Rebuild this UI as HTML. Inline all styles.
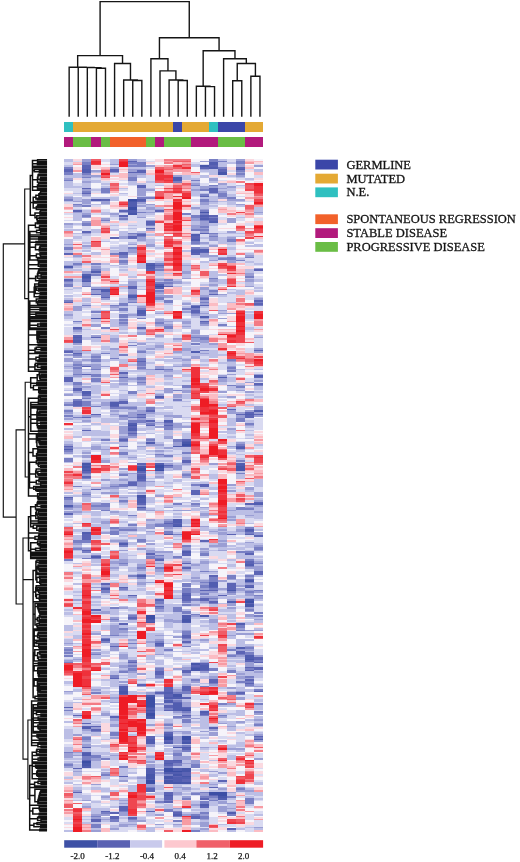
<!DOCTYPE html>
<html><head><meta charset="utf-8"><title>Heatmap</title>
<style>
html,body{margin:0;padding:0;background:#fff;}
body{width:520px;height:862px;overflow:hidden;font-family:"Liberation Serif",serif;}
svg{display:block;filter:blur(0.35px);}
</style></head><body>
<svg width="520" height="862" viewBox="0 0 520 862">
<rect width="520" height="862" fill="#fff"/>
<path d="M96.41 116.00V68.30H105.49V116.00M87.32 116.00V67.60H100.95V68.30M78.24 116.00V67.40H94.14V67.60M69.15 116.00V67.20H86.19V67.40M132.75 116.00V80.50H141.84V116.00M123.67 116.00V80.00H137.30V80.50M114.58 116.00V63.50H130.48V80.00M77.67 67.20V55.60H122.53V63.50M178.18 116.00V80.50H187.27V116.00M169.10 116.00V80.00H182.73V80.50M160.01 116.00V70.90H175.91V80.00M150.92 116.00V58.80H167.96V70.90M205.44 116.00V86.60H214.53V116.00M196.35 116.00V86.30H209.98V86.60M232.70 116.00V80.80H241.78V116.00M250.87 116.00V76.20H259.96V116.00M237.24 80.80V63.50H255.41V76.20M223.61 116.00V58.80H246.33V63.50M203.17 86.30V50.80H234.97V58.80M159.44 58.80V37.70H219.07V50.80M100.10 55.60V1.60H189.26V37.70" fill="none" stroke="#151515" stroke-width="1.4" stroke-linejoin="miter" stroke-linecap="square"/>
<g shape-rendering="crispEdges"><rect x="64.40" y="121.8" width="9.08" height="9.8" fill="#2fc0c0"/><rect x="64.40" y="137.1" width="9.08" height="9.6" fill="#b21a7c"/><rect x="73.43" y="121.8" width="9.08" height="9.8" fill="#e4a934"/><rect x="73.43" y="137.1" width="9.08" height="9.6" fill="#6abd45"/><rect x="82.45" y="121.8" width="9.08" height="9.8" fill="#e4a934"/><rect x="82.45" y="137.1" width="9.08" height="9.6" fill="#6abd45"/><rect x="91.48" y="121.8" width="9.08" height="9.8" fill="#e4a934"/><rect x="91.48" y="137.1" width="9.08" height="9.6" fill="#b21a7c"/><rect x="100.51" y="121.8" width="9.08" height="9.8" fill="#e4a934"/><rect x="100.51" y="137.1" width="9.08" height="9.6" fill="#6abd45"/><rect x="109.54" y="121.8" width="9.08" height="9.8" fill="#e4a934"/><rect x="109.54" y="137.1" width="9.08" height="9.6" fill="#f2612a"/><rect x="118.56" y="121.8" width="9.08" height="9.8" fill="#e4a934"/><rect x="118.56" y="137.1" width="9.08" height="9.6" fill="#f2612a"/><rect x="127.59" y="121.8" width="9.08" height="9.8" fill="#e4a934"/><rect x="127.59" y="137.1" width="9.08" height="9.6" fill="#f2612a"/><rect x="136.62" y="121.8" width="9.08" height="9.8" fill="#e4a934"/><rect x="136.62" y="137.1" width="9.08" height="9.6" fill="#f2612a"/><rect x="145.65" y="121.8" width="9.08" height="9.8" fill="#e4a934"/><rect x="145.65" y="137.1" width="9.08" height="9.6" fill="#6abd45"/><rect x="154.67" y="121.8" width="9.08" height="9.8" fill="#e4a934"/><rect x="154.67" y="137.1" width="9.08" height="9.6" fill="#b21a7c"/><rect x="163.70" y="121.8" width="9.08" height="9.8" fill="#e4a934"/><rect x="163.70" y="137.1" width="9.08" height="9.6" fill="#6abd45"/><rect x="172.73" y="121.8" width="9.08" height="9.8" fill="#3b46a8"/><rect x="172.73" y="137.1" width="9.08" height="9.6" fill="#6abd45"/><rect x="181.75" y="121.8" width="9.08" height="9.8" fill="#e4a934"/><rect x="181.75" y="137.1" width="9.08" height="9.6" fill="#6abd45"/><rect x="190.78" y="121.8" width="9.08" height="9.8" fill="#e4a934"/><rect x="190.78" y="137.1" width="9.08" height="9.6" fill="#b21a7c"/><rect x="199.81" y="121.8" width="9.08" height="9.8" fill="#e4a934"/><rect x="199.81" y="137.1" width="9.08" height="9.6" fill="#b21a7c"/><rect x="208.84" y="121.8" width="9.08" height="9.8" fill="#2fc0c0"/><rect x="208.84" y="137.1" width="9.08" height="9.6" fill="#b21a7c"/><rect x="217.86" y="121.8" width="9.08" height="9.8" fill="#3b46a8"/><rect x="217.86" y="137.1" width="9.08" height="9.6" fill="#6abd45"/><rect x="226.89" y="121.8" width="9.08" height="9.8" fill="#3b46a8"/><rect x="226.89" y="137.1" width="9.08" height="9.6" fill="#6abd45"/><rect x="235.92" y="121.8" width="9.08" height="9.8" fill="#3b46a8"/><rect x="235.92" y="137.1" width="9.08" height="9.6" fill="#6abd45"/><rect x="244.95" y="121.8" width="9.08" height="9.8" fill="#e4a934"/><rect x="244.95" y="137.1" width="9.08" height="9.6" fill="#b21a7c"/><rect x="253.97" y="121.8" width="9.08" height="9.8" fill="#e4a934"/><rect x="253.97" y="137.1" width="9.08" height="9.6" fill="#b21a7c"/></g>
<g transform="translate(64.40 159.00) scale(9.0273 1.6014)" shape-rendering="crispEdges"><path fill="#3c4ea5" d="M2 376h1v1h-1zM7 25h1v1h-1zM7 30h1v2h-1zM8 193h1v2h-1zM9 285h1v2h-1zM9 336h1v6h-1zM9 346h1v2h-1zM9 388h1v2h-1zM10 79h1v1h-1zM10 191h1v2h-1zM10 194h1v1h-1zM11 361h1v2h-1zM11 380h1v3h-1zM12 382h1v1h-1zM13 178h1v1h-1zM13 360h1v3h-1zM16 395h1v2h-1zM17 395h1v3h-1zM20 276h1v1h-1z"/><path fill="#4756aa" d="M2 73h1v1h-1zM2 190h1v1h-1zM2 192h1v1h-1zM2 194h1v1h-1zM2 377h1v2h-1zM6 332h1v2h-1zM7 26h1v1h-1zM7 34h1v1h-1zM7 166h1v1h-1zM8 192h1v1h-1zM8 210h1v2h-1zM9 66h1v1h-1zM9 287h1v1h-1zM9 289h1v1h-1zM9 335h1v1h-1zM9 342h1v1h-1zM9 344h1v1h-1zM9 348h1v1h-1zM9 384h1v3h-1zM10 193h1v1h-1zM11 360h1v1h-1zM11 385h1v2h-1zM11 388h1v2h-1zM12 229h1v1h-1zM12 334h1v2h-1zM12 384h1v1h-1zM12 389h1v1h-1zM13 177h1v1h-1zM13 287h1v2h-1zM13 344h1v1h-1zM13 364h1v1h-1zM13 380h1v3h-1zM13 385h1v1h-1zM13 389h1v1h-1zM14 315h1v1h-1zM14 318h1v2h-1zM15 4h1v1h-1zM15 33h1v1h-1zM17 8h1v2h-1zM17 398h1v1h-1zM18 269h1v1h-1zM19 192h1v3h-1zM20 263h1v1h-1zM20 275h1v1h-1zM20 278h1v2h-1zM20 312h1v1h-1z"/><path fill="#515db0" d="M0 67h1v1h-1zM0 181h1v1h-1zM0 216h1v1h-1zM1 111h1v1h-1zM1 113h1v2h-1zM2 6h1v3h-1zM2 72h1v1h-1zM2 74h1v1h-1zM2 76h1v1h-1zM2 145h1v2h-1zM2 191h1v1h-1zM2 193h1v1h-1zM2 233h1v1h-1zM2 355h1v1h-1zM2 371h1v2h-1zM2 379h1v1h-1zM3 25h1v1h-1zM3 70h1v1h-1zM3 99h1v1h-1zM3 248h1v1h-1zM4 81h1v2h-1zM4 268h1v1h-1zM4 300h1v1h-1zM5 152h1v2h-1zM6 240h1v1h-1zM6 329h1v3h-1zM7 27h1v3h-1zM7 32h1v2h-1zM7 85h1v2h-1zM7 165h1v1h-1zM7 168h1v2h-1zM8 25h1v1h-1zM8 94h1v3h-1zM8 198h1v2h-1zM8 212h1v3h-1zM8 217h1v1h-1zM8 260h1v1h-1zM9 65h1v1h-1zM9 67h1v2h-1zM9 177h1v1h-1zM9 288h1v1h-1zM9 343h1v1h-1zM9 345h1v1h-1zM9 349h1v1h-1zM9 362h1v3h-1zM9 380h1v4h-1zM9 387h1v1h-1zM10 78h1v1h-1zM10 80h1v1h-1zM10 148h1v1h-1zM10 190h1v1h-1zM10 302h1v1h-1zM11 163h1v1h-1zM11 234h1v1h-1zM11 333h1v1h-1zM11 336h1v1h-1zM11 338h1v2h-1zM11 359h1v1h-1zM11 364h1v1h-1zM11 377h1v1h-1zM11 383h1v1h-1zM11 397h1v1h-1zM12 11h1v3h-1zM12 179h1v1h-1zM12 225h1v2h-1zM12 228h1v1h-1zM12 336h1v1h-1zM12 340h1v5h-1zM12 367h1v1h-1zM12 375h1v1h-1zM12 380h1v2h-1zM12 383h1v1h-1zM12 386h1v3h-1zM12 409h1v1h-1zM13 176h1v1h-1zM13 179h1v1h-1zM13 245h1v1h-1zM13 272h1v1h-1zM13 285h1v2h-1zM13 289h1v1h-1zM13 343h1v1h-1zM13 363h1v1h-1zM13 367h1v1h-1zM13 386h1v1h-1zM14 47h1v1h-1zM14 50h1v1h-1zM14 57h1v2h-1zM14 92h1v1h-1zM14 120h1v1h-1zM14 317h1v1h-1zM15 35h1v1h-1zM15 37h1v1h-1zM15 56h1v2h-1zM15 98h1v1h-1zM15 285h1v1h-1zM15 316h1v3h-1zM15 345h1v1h-1zM15 403h1v1h-1zM16 2h1v2h-1zM16 5h1v1h-1zM16 39h1v1h-1zM16 264h1v3h-1zM17 136h1v1h-1zM17 399h1v1h-1zM18 276h1v1h-1zM18 408h1v1h-1zM19 6h1v1h-1zM19 180h1v1h-1zM19 190h1v2h-1zM19 290h1v1h-1zM19 305h1v1h-1zM20 159h1v1h-1zM20 231h1v1h-1zM20 253h1v1h-1zM20 267h1v1h-1zM20 310h1v2h-1zM21 135h1v1h-1zM21 157h1v1h-1zM21 215h1v1h-1zM21 362h1v1h-1z"/><path fill="#5c64b5" d="M0 6h1v2h-1zM0 59h1v1h-1zM0 75h1v1h-1zM0 89h1v1h-1zM0 120h1v1h-1zM0 136h1v3h-1zM0 179h1v1h-1zM0 211h1v1h-1zM0 221h1v1h-1zM0 342h1v1h-1zM1 32h1v1h-1zM1 105h1v1h-1zM1 110h1v1h-1zM1 112h1v1h-1zM1 121h1v1h-1zM1 143h1v2h-1zM1 151h1v3h-1zM1 347h1v1h-1zM1 380h1v1h-1zM1 395h1v1h-1zM2 4h1v2h-1zM2 18h1v1h-1zM2 21h1v1h-1zM2 45h1v1h-1zM2 75h1v1h-1zM2 129h1v1h-1zM2 134h1v1h-1zM2 147h1v1h-1zM2 161h1v1h-1zM2 169h1v1h-1zM2 195h1v1h-1zM2 198h1v1h-1zM2 234h1v4h-1zM2 244h1v1h-1zM2 352h1v1h-1zM2 354h1v1h-1zM2 367h1v1h-1zM2 370h1v1h-1zM2 375h1v1h-1zM3 81h1v1h-1zM3 84h1v1h-1zM3 111h1v1h-1zM3 159h1v1h-1zM3 206h1v1h-1zM3 281h1v1h-1zM3 354h1v1h-1zM3 356h1v1h-1zM3 412h1v2h-1zM4 25h1v1h-1zM4 86h1v1h-1zM4 265h1v1h-1zM4 407h1v1h-1zM5 6h1v2h-1zM5 49h1v1h-1zM5 154h1v1h-1zM5 304h1v1h-1zM5 324h1v1h-1zM5 348h1v1h-1zM5 408h1v1h-1zM5 410h1v2h-1zM6 32h1v1h-1zM6 35h1v1h-1zM6 58h1v2h-1zM6 133h1v1h-1zM6 136h1v1h-1zM6 151h1v2h-1zM6 175h1v1h-1zM6 267h1v1h-1zM6 290h1v1h-1zM6 334h1v1h-1zM6 385h1v1h-1zM6 404h1v3h-1zM7 1h1v1h-1zM7 8h1v1h-1zM7 48h1v2h-1zM7 79h1v2h-1zM7 167h1v1h-1zM7 171h1v1h-1zM7 202h1v2h-1zM7 272h1v1h-1zM7 286h1v1h-1zM7 314h1v1h-1zM7 411h1v1h-1zM8 7h1v2h-1zM8 16h1v2h-1zM8 26h1v1h-1zM8 47h1v1h-1zM8 97h1v1h-1zM8 105h1v1h-1zM8 126h1v1h-1zM8 159h1v1h-1zM8 161h1v1h-1zM8 190h1v1h-1zM8 195h1v1h-1zM8 197h1v1h-1zM8 200h1v1h-1zM8 215h1v1h-1zM8 328h1v1h-1zM9 39h1v2h-1zM9 43h1v1h-1zM9 69h1v1h-1zM9 157h1v1h-1zM9 163h1v1h-1zM9 166h1v1h-1zM9 246h1v1h-1zM9 360h1v2h-1zM9 393h1v2h-1zM9 407h1v1h-1zM10 32h1v1h-1zM10 66h1v1h-1zM10 131h1v1h-1zM10 250h1v1h-1zM10 275h1v1h-1zM10 279h1v1h-1zM10 303h1v1h-1zM10 320h1v2h-1zM10 333h1v1h-1zM11 79h1v1h-1zM11 164h1v1h-1zM11 166h1v1h-1zM11 191h1v1h-1zM11 227h1v1h-1zM11 330h1v3h-1zM11 334h1v2h-1zM11 341h1v2h-1zM11 344h1v1h-1zM11 358h1v1h-1zM11 363h1v1h-1zM11 375h1v2h-1zM11 378h1v1h-1zM11 387h1v1h-1zM11 395h1v2h-1zM11 398h1v2h-1zM11 401h1v1h-1zM12 227h1v1h-1zM12 339h1v1h-1zM12 376h1v1h-1zM12 385h1v1h-1zM12 408h1v1h-1zM13 175h1v1h-1zM13 188h1v2h-1zM13 246h1v2h-1zM13 252h1v1h-1zM13 255h1v1h-1zM13 271h1v1h-1zM13 273h1v3h-1zM13 297h1v2h-1zM13 301h1v1h-1zM13 319h1v2h-1zM13 329h1v3h-1zM13 336h1v1h-1zM13 342h1v1h-1zM13 347h1v1h-1zM13 368h1v1h-1zM13 383h1v2h-1zM13 387h1v2h-1zM14 48h1v2h-1zM14 56h1v1h-1zM14 59h1v1h-1zM14 94h1v2h-1zM14 207h1v3h-1zM14 316h1v1h-1zM14 410h1v2h-1zM15 5h1v1h-1zM15 23h1v1h-1zM15 36h1v1h-1zM15 46h1v1h-1zM15 58h1v1h-1zM15 87h1v1h-1zM15 91h1v1h-1zM15 101h1v1h-1zM15 203h1v2h-1zM15 238h1v1h-1zM15 269h1v1h-1zM15 274h1v2h-1zM15 315h1v1h-1zM15 319h1v1h-1zM15 346h1v1h-1zM15 399h1v1h-1zM15 404h1v1h-1zM16 4h1v1h-1zM16 18h1v3h-1zM16 35h1v1h-1zM16 37h1v2h-1zM16 84h1v1h-1zM16 260h1v1h-1zM16 267h1v1h-1zM16 269h1v1h-1zM16 276h1v1h-1zM16 325h1v2h-1zM16 355h1v1h-1zM16 392h1v1h-1zM16 397h1v1h-1zM17 6h1v2h-1zM17 272h1v1h-1zM17 388h1v1h-1zM18 156h1v1h-1zM18 234h1v1h-1zM18 265h1v4h-1zM18 418h1v1h-1zM19 5h1v1h-1zM19 159h1v1h-1zM19 179h1v1h-1zM19 307h1v2h-1zM19 333h1v1h-1zM20 158h1v1h-1zM20 160h1v2h-1zM20 215h1v1h-1zM20 232h1v1h-1zM20 234h1v1h-1zM20 246h1v1h-1zM20 251h1v2h-1zM20 262h1v1h-1zM20 266h1v1h-1zM20 277h1v1h-1zM20 313h1v1h-1zM20 317h1v1h-1zM20 319h1v1h-1zM20 325h1v1h-1zM20 327h1v1h-1zM21 69h1v1h-1zM21 88h1v1h-1zM21 90h1v1h-1zM21 119h1v1h-1zM21 136h1v1h-1zM21 140h1v1h-1zM21 159h1v1h-1zM21 214h1v1h-1zM21 235h1v1h-1zM21 257h1v3h-1zM21 311h1v2h-1zM21 314h1v1h-1zM21 317h1v2h-1zM21 332h1v1h-1zM21 360h1v1h-1z"/><path fill="#787fc4" d="M0 5h1v1h-1zM0 8h1v2h-1zM0 13h1v1h-1zM0 25h1v1h-1zM0 55h1v2h-1zM0 76h1v1h-1zM0 78h1v2h-1zM0 88h1v1h-1zM0 119h1v1h-1zM0 153h1v1h-1zM0 157h1v1h-1zM0 160h1v1h-1zM0 180h1v1h-1zM0 182h1v1h-1zM0 187h1v2h-1zM0 212h1v1h-1zM0 217h1v1h-1zM0 250h1v1h-1zM0 306h1v1h-1zM0 308h1v1h-1zM0 310h1v1h-1zM0 314h1v1h-1zM0 344h1v1h-1zM0 370h1v1h-1zM0 378h1v1h-1zM1 28h1v1h-1zM1 65h1v1h-1zM1 101h1v1h-1zM1 106h1v1h-1zM1 122h1v1h-1zM1 128h1v1h-1zM1 130h1v1h-1zM1 134h1v1h-1zM1 139h1v2h-1zM1 150h1v1h-1zM1 154h1v1h-1zM1 161h1v1h-1zM1 204h1v1h-1zM1 238h1v2h-1zM1 243h1v1h-1zM2 2h1v2h-1zM2 9h1v1h-1zM2 11h1v1h-1zM2 20h1v1h-1zM2 29h1v1h-1zM2 35h1v1h-1zM2 40h1v2h-1zM2 79h1v1h-1zM2 91h1v1h-1zM2 149h1v1h-1zM2 151h1v3h-1zM2 196h1v1h-1zM2 199h1v1h-1zM2 209h1v1h-1zM2 238h1v2h-1zM2 245h1v1h-1zM2 249h1v1h-1zM2 361h1v2h-1zM2 373h1v2h-1zM3 65h1v1h-1zM3 69h1v1h-1zM3 72h1v1h-1zM3 95h1v1h-1zM3 123h1v1h-1zM3 125h1v2h-1zM3 131h1v1h-1zM3 134h1v2h-1zM3 137h1v2h-1zM3 154h1v1h-1zM3 216h1v1h-1zM3 247h1v1h-1zM3 249h1v1h-1zM3 309h1v1h-1zM3 333h1v1h-1zM3 357h1v1h-1zM3 372h1v2h-1zM3 410h1v1h-1zM3 415h1v3h-1zM4 18h1v3h-1zM4 38h1v1h-1zM4 83h1v3h-1zM4 105h1v1h-1zM4 121h1v1h-1zM4 175h1v1h-1zM4 215h1v2h-1zM4 219h1v1h-1zM4 267h1v1h-1zM4 269h1v2h-1zM4 299h1v1h-1zM4 301h1v1h-1zM4 374h1v1h-1zM4 384h1v1h-1zM4 408h1v1h-1zM5 59h1v1h-1zM5 91h1v1h-1zM5 124h1v1h-1zM5 155h1v1h-1zM5 204h1v1h-1zM5 230h1v1h-1zM5 232h1v3h-1zM5 280h1v1h-1zM5 287h1v1h-1zM5 297h1v1h-1zM5 322h1v2h-1zM5 358h1v2h-1zM5 412h1v2h-1zM6 37h1v1h-1zM6 60h1v2h-1zM6 63h1v2h-1zM6 90h1v2h-1zM6 93h1v2h-1zM6 97h1v2h-1zM6 100h1v1h-1zM6 102h1v1h-1zM6 122h1v1h-1zM6 155h1v1h-1zM6 160h1v1h-1zM6 174h1v1h-1zM6 176h1v1h-1zM6 179h1v1h-1zM6 183h1v2h-1zM6 197h1v1h-1zM6 203h1v2h-1zM6 213h1v1h-1zM6 231h1v1h-1zM6 239h1v1h-1zM6 241h1v1h-1zM6 252h1v1h-1zM6 268h1v1h-1zM6 293h1v1h-1zM6 320h1v1h-1zM6 379h1v1h-1zM6 407h1v1h-1zM7 2h1v1h-1zM7 4h1v1h-1zM7 11h1v3h-1zM7 46h1v1h-1zM7 55h1v1h-1zM7 84h1v1h-1zM7 87h1v1h-1zM7 89h1v1h-1zM7 116h1v1h-1zM7 145h1v2h-1zM7 155h1v1h-1zM7 161h1v1h-1zM7 163h1v2h-1zM7 170h1v1h-1zM7 172h1v1h-1zM7 201h1v1h-1zM7 222h1v1h-1zM7 228h1v1h-1zM7 231h1v1h-1zM7 260h1v1h-1zM7 285h1v1h-1zM7 287h1v1h-1zM7 302h1v1h-1zM7 313h1v1h-1zM7 316h1v1h-1zM7 318h1v2h-1zM7 412h1v1h-1zM8 2h1v3h-1zM8 24h1v1h-1zM8 33h1v1h-1zM8 46h1v1h-1zM8 48h1v1h-1zM8 93h1v1h-1zM8 99h1v1h-1zM8 120h1v1h-1zM8 124h1v2h-1zM8 127h1v2h-1zM8 130h1v1h-1zM8 136h1v2h-1zM8 139h1v1h-1zM8 160h1v1h-1zM8 163h1v2h-1zM8 191h1v1h-1zM8 196h1v1h-1zM8 201h1v1h-1zM8 218h1v1h-1zM8 237h1v2h-1zM8 255h1v1h-1zM8 259h1v1h-1zM8 261h1v1h-1zM9 24h1v1h-1zM9 41h1v1h-1zM9 155h1v2h-1zM9 165h1v1h-1zM9 175h1v1h-1zM9 248h1v2h-1zM9 392h1v1h-1zM10 65h1v1h-1zM10 67h1v1h-1zM10 69h1v1h-1zM10 77h1v1h-1zM10 82h1v1h-1zM10 86h1v2h-1zM10 102h1v1h-1zM10 149h1v1h-1zM10 184h1v1h-1zM10 228h1v2h-1zM10 247h1v1h-1zM10 249h1v1h-1zM10 255h1v1h-1zM10 276h1v2h-1zM10 280h1v1h-1zM10 301h1v1h-1zM10 304h1v1h-1zM10 318h1v2h-1zM10 322h1v2h-1zM10 401h1v1h-1zM11 75h1v1h-1zM11 77h1v1h-1zM11 88h1v2h-1zM11 104h1v2h-1zM11 131h1v1h-1zM11 165h1v1h-1zM11 167h1v2h-1zM11 185h1v1h-1zM11 192h1v1h-1zM11 226h1v1h-1zM11 228h1v2h-1zM11 232h1v2h-1zM11 306h1v1h-1zM11 337h1v1h-1zM11 343h1v1h-1zM11 353h1v1h-1zM11 379h1v1h-1zM11 384h1v1h-1zM11 400h1v1h-1zM11 406h1v2h-1zM12 14h1v1h-1zM12 144h1v1h-1zM12 150h1v1h-1zM12 175h1v2h-1zM12 215h1v1h-1zM12 234h1v1h-1zM12 248h1v1h-1zM12 280h1v3h-1zM12 333h1v1h-1zM12 338h1v1h-1zM12 348h1v1h-1zM12 371h1v2h-1zM12 377h1v2h-1zM12 407h1v1h-1zM12 410h1v1h-1zM12 413h1v1h-1zM13 34h1v1h-1zM13 93h1v1h-1zM13 141h1v2h-1zM13 183h1v1h-1zM13 197h1v1h-1zM13 241h1v1h-1zM13 244h1v1h-1zM13 265h1v2h-1zM13 268h1v3h-1zM13 276h1v1h-1zM13 278h1v1h-1zM13 282h1v2h-1zM13 295h1v2h-1zM13 299h1v1h-1zM13 304h1v1h-1zM13 332h1v2h-1zM13 345h1v1h-1zM13 348h1v1h-1zM13 350h1v2h-1zM13 366h1v1h-1zM13 369h1v1h-1zM13 399h1v1h-1zM14 13h1v1h-1zM14 16h1v1h-1zM14 35h1v2h-1zM14 44h1v1h-1zM14 51h1v2h-1zM14 55h1v1h-1zM14 91h1v1h-1zM14 93h1v1h-1zM14 96h1v1h-1zM14 111h1v1h-1zM14 115h1v1h-1zM14 203h1v1h-1zM14 215h1v1h-1zM14 275h1v1h-1zM14 284h1v1h-1zM14 325h1v1h-1zM14 378h1v2h-1zM14 396h1v1h-1zM14 409h1v1h-1zM14 419h1v1h-1zM15 19h1v1h-1zM15 22h1v1h-1zM15 25h1v2h-1zM15 32h1v1h-1zM15 34h1v1h-1zM15 38h1v1h-1zM15 42h1v1h-1zM15 44h1v1h-1zM15 86h1v1h-1zM15 89h1v1h-1zM15 102h1v1h-1zM15 111h1v2h-1zM15 119h1v1h-1zM15 246h1v2h-1zM15 257h1v1h-1zM15 264h1v1h-1zM15 266h1v2h-1zM15 271h1v1h-1zM15 329h1v1h-1zM15 347h1v1h-1zM15 395h1v1h-1zM15 398h1v1h-1zM15 401h1v2h-1zM15 408h1v1h-1zM15 410h1v2h-1zM16 0h1v2h-1zM16 16h1v1h-1zM16 36h1v1h-1zM16 46h1v1h-1zM16 48h1v1h-1zM16 74h1v1h-1zM16 82h1v1h-1zM16 261h1v3h-1zM16 268h1v1h-1zM16 274h1v1h-1zM16 277h1v1h-1zM16 318h1v2h-1zM16 327h1v1h-1zM16 398h1v1h-1zM16 400h1v1h-1zM17 1h1v1h-1zM17 5h1v1h-1zM17 21h1v3h-1zM17 62h1v1h-1zM17 103h1v1h-1zM17 340h1v1h-1zM17 347h1v1h-1zM18 24h1v1h-1zM18 50h1v2h-1zM18 61h1v2h-1zM18 125h1v1h-1zM18 130h1v1h-1zM18 132h1v1h-1zM18 141h1v1h-1zM18 260h1v2h-1zM18 270h1v1h-1zM18 306h1v1h-1zM18 310h1v1h-1zM18 319h1v2h-1zM18 333h1v2h-1zM18 398h1v1h-1zM18 409h1v1h-1zM19 1h1v2h-1zM19 7h1v1h-1zM19 9h1v1h-1zM19 63h1v1h-1zM19 142h1v1h-1zM19 162h1v2h-1zM19 178h1v1h-1zM19 188h1v1h-1zM19 196h1v1h-1zM19 217h1v2h-1zM19 245h1v1h-1zM19 291h1v2h-1zM19 294h1v1h-1zM19 309h1v1h-1zM19 326h1v1h-1zM19 334h1v1h-1zM19 393h1v1h-1zM20 61h1v1h-1zM20 73h1v1h-1zM20 165h1v1h-1zM20 218h1v1h-1zM20 230h1v1h-1zM20 233h1v1h-1zM20 245h1v1h-1zM20 250h1v1h-1zM20 254h1v1h-1zM20 260h1v1h-1zM20 264h1v1h-1zM20 270h1v1h-1zM20 281h1v1h-1zM20 305h1v1h-1zM20 308h1v2h-1zM20 318h1v1h-1zM20 323h1v1h-1zM20 326h1v1h-1zM20 328h1v1h-1zM20 399h1v4h-1zM21 89h1v1h-1zM21 91h1v1h-1zM21 141h1v1h-1zM21 242h1v2h-1zM21 252h1v1h-1zM21 269h1v1h-1zM21 272h1v1h-1zM21 283h1v1h-1zM21 285h1v1h-1zM21 313h1v1h-1zM21 331h1v1h-1zM21 340h1v1h-1zM21 345h1v1h-1zM21 353h1v1h-1zM21 361h1v1h-1z"/><path fill="#9a9ed4" d="M0 12h1v1h-1zM0 24h1v1h-1zM0 40h1v1h-1zM0 53h1v1h-1zM0 66h1v1h-1zM0 68h1v1h-1zM0 77h1v1h-1zM0 97h1v1h-1zM0 122h1v1h-1zM0 124h1v3h-1zM0 129h1v1h-1zM0 147h1v1h-1zM0 152h1v1h-1zM0 158h1v1h-1zM0 162h1v1h-1zM0 178h1v1h-1zM0 183h1v1h-1zM0 213h1v3h-1zM0 218h1v1h-1zM0 220h1v1h-1zM0 302h1v1h-1zM0 305h1v1h-1zM0 307h1v1h-1zM0 313h1v1h-1zM0 332h1v1h-1zM0 371h1v3h-1zM0 377h1v1h-1zM0 379h1v1h-1zM1 26h1v1h-1zM1 29h1v1h-1zM1 33h1v1h-1zM1 60h1v1h-1zM1 66h1v1h-1zM1 92h1v3h-1zM1 107h1v1h-1zM1 115h1v1h-1zM1 119h1v2h-1zM1 123h1v1h-1zM1 126h1v2h-1zM1 129h1v1h-1zM1 131h1v3h-1zM1 135h1v1h-1zM1 141h1v2h-1zM1 145h1v1h-1zM1 216h1v2h-1zM1 220h1v1h-1zM1 240h1v1h-1zM1 242h1v1h-1zM1 275h1v1h-1zM1 312h1v1h-1zM1 359h1v1h-1zM1 370h1v1h-1zM1 372h1v1h-1zM1 382h1v1h-1zM1 394h1v1h-1zM2 0h1v2h-1zM2 10h1v1h-1zM2 14h1v1h-1zM2 19h1v1h-1zM2 22h1v1h-1zM2 25h1v3h-1zM2 34h1v1h-1zM2 36h1v1h-1zM2 39h1v1h-1zM2 46h1v1h-1zM2 54h1v1h-1zM2 70h1v2h-1zM2 77h1v2h-1zM2 125h1v1h-1zM2 128h1v1h-1zM2 142h1v1h-1zM2 148h1v1h-1zM2 154h1v1h-1zM2 160h1v1h-1zM2 163h1v1h-1zM2 183h1v1h-1zM2 185h1v2h-1zM2 189h1v1h-1zM2 197h1v1h-1zM2 208h1v1h-1zM2 210h1v1h-1zM2 243h1v1h-1zM2 356h1v1h-1zM2 360h1v1h-1zM2 363h1v1h-1zM2 365h1v2h-1zM2 400h1v1h-1zM2 404h1v1h-1zM3 7h1v1h-1zM3 10h1v1h-1zM3 67h1v2h-1zM3 71h1v1h-1zM3 80h1v1h-1zM3 82h1v2h-1zM3 103h1v2h-1zM3 110h1v1h-1zM3 122h1v1h-1zM3 124h1v1h-1zM3 128h1v3h-1zM3 160h1v1h-1zM3 179h1v3h-1zM3 215h1v1h-1zM3 217h1v2h-1zM3 267h1v1h-1zM3 273h1v1h-1zM3 283h1v1h-1zM3 296h1v1h-1zM3 306h1v1h-1zM3 308h1v1h-1zM3 331h1v1h-1zM3 355h1v1h-1zM3 374h1v2h-1zM3 390h1v1h-1zM3 409h1v1h-1zM3 411h1v1h-1zM3 419h1v1h-1zM4 26h1v2h-1zM4 37h1v1h-1zM4 80h1v1h-1zM4 87h1v1h-1zM4 129h1v1h-1zM4 152h1v2h-1zM4 181h1v1h-1zM4 188h1v2h-1zM4 200h1v1h-1zM4 205h1v1h-1zM4 208h1v1h-1zM4 217h1v2h-1zM4 226h1v2h-1zM4 233h1v1h-1zM4 266h1v1h-1zM4 282h1v2h-1zM4 297h1v1h-1zM4 346h1v2h-1zM4 383h1v1h-1zM4 398h1v1h-1zM4 409h1v1h-1zM4 412h1v1h-1zM5 3h1v1h-1zM5 5h1v1h-1zM5 8h1v1h-1zM5 34h1v1h-1zM5 92h1v1h-1zM5 94h1v1h-1zM5 112h1v2h-1zM5 118h1v1h-1zM5 151h1v1h-1zM5 157h1v1h-1zM5 159h1v1h-1zM5 203h1v1h-1zM5 205h1v1h-1zM5 208h1v1h-1zM5 220h1v1h-1zM5 231h1v1h-1zM5 238h1v1h-1zM5 251h1v2h-1zM5 255h1v1h-1zM5 286h1v1h-1zM5 288h1v1h-1zM5 291h1v6h-1zM5 302h1v2h-1zM5 305h1v2h-1zM5 336h1v1h-1zM5 339h1v1h-1zM5 349h1v2h-1zM5 353h1v2h-1zM5 361h1v1h-1zM5 372h1v1h-1zM5 418h1v1h-1zM6 33h1v1h-1zM6 36h1v1h-1zM6 48h1v2h-1zM6 65h1v1h-1zM6 101h1v1h-1zM6 103h1v1h-1zM6 134h1v2h-1zM6 137h1v2h-1zM6 140h1v1h-1zM6 150h1v1h-1zM6 154h1v1h-1zM6 161h1v2h-1zM6 167h1v5h-1zM6 173h1v1h-1zM6 193h1v1h-1zM6 196h1v1h-1zM6 200h1v1h-1zM6 211h1v1h-1zM6 214h1v1h-1zM6 230h1v1h-1zM6 238h1v1h-1zM6 244h1v1h-1zM6 250h1v2h-1zM6 253h1v1h-1zM6 269h1v1h-1zM6 280h1v1h-1zM6 294h1v2h-1zM6 297h1v1h-1zM6 309h1v3h-1zM6 316h1v2h-1zM6 319h1v1h-1zM6 326h1v1h-1zM6 328h1v1h-1zM6 388h1v1h-1zM6 400h1v1h-1zM6 402h1v1h-1zM6 408h1v2h-1zM6 415h1v2h-1zM7 0h1v1h-1zM7 3h1v1h-1zM7 6h1v2h-1zM7 9h1v2h-1zM7 47h1v1h-1zM7 53h1v1h-1zM7 56h1v3h-1zM7 76h1v3h-1zM7 81h1v3h-1zM7 88h1v1h-1zM7 97h1v1h-1zM7 114h1v1h-1zM7 137h1v1h-1zM7 154h1v1h-1zM7 156h1v1h-1zM7 158h1v3h-1zM7 173h1v1h-1zM7 186h1v1h-1zM7 196h1v1h-1zM7 230h1v1h-1zM7 273h1v1h-1zM7 284h1v1h-1zM7 300h1v1h-1zM7 305h1v1h-1zM7 315h1v1h-1zM7 317h1v1h-1zM7 320h1v1h-1zM7 413h1v1h-1zM7 415h1v1h-1zM8 6h1v1h-1zM8 9h1v1h-1zM8 18h1v5h-1zM8 27h1v1h-1zM8 29h1v1h-1zM8 36h1v1h-1zM8 49h1v2h-1zM8 92h1v1h-1zM8 106h1v1h-1zM8 108h1v2h-1zM8 115h1v1h-1zM8 119h1v1h-1zM8 129h1v1h-1zM8 131h1v1h-1zM8 138h1v1h-1zM8 140h1v1h-1zM8 157h1v2h-1zM8 162h1v1h-1zM8 179h1v1h-1zM8 202h1v3h-1zM8 208h1v1h-1zM8 216h1v1h-1zM8 219h1v1h-1zM8 239h1v1h-1zM8 243h1v1h-1zM8 253h1v2h-1zM8 256h1v1h-1zM8 264h1v2h-1zM8 321h1v1h-1zM8 329h1v1h-1zM8 386h1v1h-1zM8 413h1v1h-1zM9 4h1v1h-1zM9 19h1v1h-1zM9 28h1v1h-1zM9 30h1v2h-1zM9 33h1v1h-1zM9 38h1v1h-1zM9 44h1v1h-1zM9 53h1v2h-1zM9 118h1v1h-1zM9 131h1v1h-1zM9 158h1v1h-1zM9 164h1v1h-1zM9 174h1v1h-1zM9 176h1v1h-1zM9 178h1v1h-1zM9 201h1v1h-1zM9 219h1v1h-1zM9 225h1v1h-1zM9 228h1v3h-1zM9 232h1v1h-1zM9 240h1v1h-1zM9 244h1v2h-1zM9 247h1v1h-1zM9 264h1v1h-1zM9 301h1v1h-1zM9 333h1v2h-1zM9 353h1v1h-1zM9 365h1v2h-1zM9 373h1v1h-1zM9 376h1v1h-1zM9 378h1v2h-1zM9 390h1v2h-1zM10 31h1v1h-1zM10 68h1v1h-1zM10 75h1v1h-1zM10 83h1v1h-1zM10 85h1v1h-1zM10 96h1v1h-1zM10 100h1v2h-1zM10 103h1v1h-1zM10 110h1v1h-1zM10 116h1v2h-1zM10 129h1v2h-1zM10 147h1v1h-1zM10 164h1v1h-1zM10 167h1v1h-1zM10 178h1v1h-1zM10 182h1v1h-1zM10 185h1v1h-1zM10 195h1v2h-1zM10 198h1v1h-1zM10 210h1v1h-1zM10 227h1v1h-1zM10 245h1v1h-1zM10 248h1v1h-1zM10 252h1v1h-1zM10 256h1v2h-1zM10 278h1v1h-1zM10 281h1v2h-1zM10 297h1v1h-1zM10 300h1v1h-1zM10 309h1v1h-1zM10 317h1v1h-1zM10 324h1v1h-1zM10 332h1v1h-1zM10 334h1v1h-1zM10 340h1v1h-1zM10 381h1v1h-1zM10 383h1v1h-1zM10 409h1v1h-1zM10 415h1v1h-1zM11 76h1v1h-1zM11 78h1v1h-1zM11 85h1v2h-1zM11 101h1v1h-1zM11 103h1v1h-1zM11 132h1v1h-1zM11 135h1v1h-1zM11 143h1v3h-1zM11 160h1v1h-1zM11 173h1v2h-1zM11 180h1v1h-1zM11 190h1v1h-1zM11 217h1v1h-1zM11 225h1v1h-1zM11 230h1v1h-1zM11 245h1v1h-1zM11 287h1v2h-1zM11 340h1v1h-1zM11 352h1v1h-1zM11 355h1v1h-1zM11 357h1v1h-1zM12 10h1v1h-1zM12 76h1v2h-1zM12 112h1v1h-1zM12 120h1v1h-1zM12 124h1v1h-1zM12 129h1v1h-1zM12 147h1v2h-1zM12 160h1v2h-1zM12 165h1v3h-1zM12 177h1v2h-1zM12 191h1v3h-1zM12 219h1v1h-1zM12 249h1v1h-1zM12 274h1v1h-1zM12 288h1v2h-1zM12 298h1v1h-1zM12 318h1v1h-1zM12 331h1v2h-1zM12 337h1v1h-1zM12 345h1v1h-1zM12 349h1v1h-1zM12 357h1v1h-1zM12 360h1v5h-1zM12 366h1v1h-1zM12 369h1v2h-1zM12 373h1v2h-1zM12 392h1v1h-1zM12 395h1v2h-1zM12 405h1v1h-1zM12 415h1v1h-1zM13 66h1v1h-1zM13 70h1v2h-1zM13 74h1v1h-1zM13 90h1v1h-1zM13 95h1v1h-1zM13 101h1v2h-1zM13 104h1v1h-1zM13 118h1v2h-1zM13 125h1v1h-1zM13 128h1v2h-1zM13 144h1v2h-1zM13 167h1v1h-1zM13 186h1v2h-1zM13 190h1v1h-1zM13 196h1v1h-1zM13 198h1v1h-1zM13 219h1v1h-1zM13 229h1v1h-1zM13 242h1v2h-1zM13 251h1v1h-1zM13 254h1v1h-1zM13 256h1v1h-1zM13 294h1v1h-1zM13 300h1v1h-1zM13 302h1v1h-1zM13 317h1v2h-1zM13 321h1v2h-1zM13 328h1v1h-1zM13 339h1v3h-1zM13 346h1v1h-1zM13 357h1v2h-1zM13 373h1v2h-1zM13 377h1v1h-1zM13 392h1v2h-1zM13 398h1v1h-1zM13 409h1v1h-1zM14 15h1v1h-1zM14 19h1v1h-1zM14 30h1v1h-1zM14 37h1v2h-1zM14 41h1v3h-1zM14 53h1v1h-1zM14 97h1v1h-1zM14 107h1v2h-1zM14 110h1v1h-1zM14 112h1v2h-1zM14 123h1v2h-1zM14 216h1v1h-1zM14 253h1v1h-1zM14 261h1v1h-1zM14 263h1v1h-1zM14 268h1v3h-1zM14 274h1v1h-1zM14 278h1v1h-1zM14 285h1v1h-1zM14 326h1v1h-1zM14 349h1v1h-1zM14 375h1v3h-1zM14 395h1v1h-1zM14 403h1v1h-1zM15 1h1v1h-1zM15 6h1v1h-1zM15 17h1v2h-1zM15 27h1v2h-1zM15 31h1v1h-1zM15 39h1v3h-1zM15 43h1v1h-1zM15 45h1v1h-1zM15 52h1v1h-1zM15 55h1v1h-1zM15 59h1v2h-1zM15 80h1v2h-1zM15 85h1v1h-1zM15 88h1v1h-1zM15 90h1v1h-1zM15 96h1v1h-1zM15 99h1v1h-1zM15 103h1v1h-1zM15 110h1v1h-1zM15 113h1v2h-1zM15 121h1v1h-1zM15 217h1v1h-1zM15 221h1v2h-1zM15 229h1v1h-1zM15 243h1v1h-1zM15 245h1v1h-1zM15 251h1v2h-1zM15 263h1v1h-1zM15 265h1v1h-1zM15 268h1v1h-1zM15 270h1v1h-1zM15 273h1v1h-1zM15 276h1v1h-1zM15 300h1v1h-1zM15 314h1v1h-1zM15 320h1v1h-1zM15 357h1v1h-1zM15 367h1v1h-1zM15 396h1v2h-1zM15 409h1v1h-1zM15 412h1v1h-1zM15 414h1v3h-1zM15 418h1v1h-1zM16 12h1v2h-1zM16 17h1v1h-1zM16 21h1v1h-1zM16 26h1v1h-1zM16 47h1v1h-1zM16 49h1v2h-1zM16 54h1v1h-1zM16 60h1v1h-1zM16 63h1v1h-1zM16 75h1v2h-1zM16 78h1v1h-1zM16 83h1v1h-1zM16 115h1v1h-1zM16 190h1v1h-1zM16 232h1v1h-1zM16 241h1v1h-1zM16 257h1v1h-1zM16 270h1v1h-1zM16 273h1v1h-1zM16 275h1v1h-1zM16 287h1v3h-1zM16 323h1v2h-1zM16 328h1v1h-1zM16 356h1v1h-1zM16 358h1v2h-1zM16 382h1v1h-1zM16 390h1v1h-1zM16 399h1v1h-1zM17 15h1v1h-1zM17 18h1v1h-1zM17 20h1v1h-1zM17 24h1v1h-1zM17 61h1v1h-1zM17 84h1v1h-1zM17 94h1v1h-1zM17 96h1v1h-1zM17 99h1v1h-1zM17 135h1v1h-1zM17 137h1v2h-1zM17 145h1v1h-1zM17 231h1v1h-1zM17 233h1v2h-1zM17 238h1v1h-1zM17 240h1v2h-1zM17 244h1v1h-1zM17 263h1v1h-1zM17 268h1v1h-1zM17 348h1v1h-1zM17 352h1v1h-1zM17 383h1v1h-1zM17 393h1v1h-1zM17 401h1v2h-1zM17 404h1v4h-1zM18 17h1v1h-1zM18 25h1v1h-1zM18 37h1v3h-1zM18 45h1v1h-1zM18 49h1v1h-1zM18 63h1v2h-1zM18 96h1v1h-1zM18 126h1v1h-1zM18 129h1v1h-1zM18 131h1v1h-1zM18 134h1v1h-1zM18 148h1v1h-1zM18 157h1v2h-1zM18 168h1v1h-1zM18 179h1v1h-1zM18 203h1v1h-1zM18 207h1v1h-1zM18 219h1v1h-1zM18 223h1v1h-1zM18 225h1v1h-1zM18 262h1v1h-1zM18 271h1v1h-1zM18 275h1v1h-1zM18 277h1v2h-1zM18 280h1v1h-1zM18 297h1v1h-1zM18 309h1v1h-1zM18 330h1v1h-1zM18 340h1v1h-1zM18 354h1v1h-1zM18 368h1v1h-1zM18 395h1v1h-1zM18 402h1v1h-1zM18 405h1v1h-1zM18 407h1v1h-1zM19 0h1v1h-1zM19 3h1v2h-1zM19 8h1v1h-1zM19 10h1v1h-1zM19 25h1v1h-1zM19 28h1v1h-1zM19 141h1v1h-1zM19 144h1v1h-1zM19 158h1v1h-1zM19 160h1v2h-1zM19 177h1v1h-1zM19 181h1v1h-1zM19 231h1v2h-1zM19 266h1v1h-1zM19 268h1v2h-1zM19 293h1v1h-1zM19 296h1v1h-1zM19 306h1v1h-1zM19 310h1v1h-1zM19 321h1v1h-1zM19 323h1v2h-1zM19 332h1v1h-1zM19 336h1v2h-1zM19 351h1v1h-1zM19 368h1v1h-1zM19 392h1v1h-1zM19 394h1v1h-1zM20 60h1v1h-1zM20 71h1v2h-1zM20 75h1v2h-1zM20 79h1v1h-1zM20 139h1v1h-1zM20 145h1v1h-1zM20 157h1v1h-1zM20 166h1v1h-1zM20 205h1v2h-1zM20 217h1v1h-1zM20 222h1v1h-1zM20 239h1v1h-1zM20 255h1v1h-1zM20 261h1v1h-1zM20 265h1v1h-1zM20 269h1v1h-1zM20 271h1v2h-1zM20 274h1v1h-1zM20 280h1v1h-1zM20 282h1v1h-1zM20 284h1v2h-1zM20 294h1v1h-1zM20 296h1v1h-1zM20 304h1v1h-1zM20 306h1v1h-1zM20 314h1v3h-1zM20 324h1v1h-1zM20 329h1v1h-1zM20 394h1v1h-1zM21 4h1v1h-1zM21 33h1v1h-1zM21 68h1v1h-1zM21 87h1v1h-1zM21 111h1v1h-1zM21 118h1v1h-1zM21 120h1v1h-1zM21 134h1v1h-1zM21 138h1v1h-1zM21 154h1v3h-1zM21 158h1v1h-1zM21 160h1v1h-1zM21 208h1v3h-1zM21 213h1v1h-1zM21 216h1v1h-1zM21 220h1v1h-1zM21 233h1v2h-1zM21 241h1v1h-1zM21 244h1v1h-1zM21 251h1v1h-1zM21 254h1v3h-1zM21 270h1v1h-1zM21 273h1v2h-1zM21 287h1v1h-1zM21 294h1v1h-1zM21 310h1v1h-1zM21 320h1v1h-1zM21 329h1v1h-1zM21 346h1v1h-1zM21 350h1v1h-1zM21 352h1v1h-1zM21 359h1v1h-1zM21 363h1v1h-1zM21 374h1v1h-1zM21 417h1v1h-1z"/><path fill="#bbbee5" d="M0 0h1v2h-1zM0 4h1v1h-1zM0 10h1v2h-1zM0 14h1v4h-1zM0 23h1v1h-1zM0 26h1v1h-1zM0 41h1v2h-1zM0 44h1v1h-1zM0 50h1v3h-1zM0 54h1v1h-1zM0 57h1v2h-1zM0 64h1v2h-1zM0 69h1v1h-1zM0 74h1v1h-1zM0 81h1v1h-1zM0 85h1v1h-1zM0 87h1v1h-1zM0 95h1v2h-1zM0 98h1v2h-1zM0 118h1v1h-1zM0 128h1v1h-1zM0 130h1v1h-1zM0 132h1v1h-1zM0 135h1v1h-1zM0 139h1v2h-1zM0 144h1v1h-1zM0 146h1v1h-1zM0 156h1v1h-1zM0 159h1v1h-1zM0 161h1v1h-1zM0 168h1v1h-1zM0 176h1v2h-1zM0 189h1v1h-1zM0 208h1v1h-1zM0 210h1v1h-1zM0 222h1v2h-1zM0 229h1v1h-1zM0 281h1v1h-1zM0 283h1v2h-1zM0 291h1v4h-1zM0 300h1v2h-1zM0 303h1v1h-1zM0 309h1v1h-1zM0 312h1v1h-1zM0 326h1v2h-1zM0 333h1v1h-1zM0 339h1v3h-1zM0 343h1v1h-1zM0 345h1v2h-1zM0 351h1v1h-1zM0 356h1v6h-1zM0 367h1v3h-1zM0 374h1v1h-1zM0 376h1v1h-1zM0 386h1v1h-1zM0 389h1v1h-1zM0 419h1v1h-1zM1 9h1v3h-1zM1 17h1v1h-1zM1 21h1v1h-1zM1 24h1v2h-1zM1 31h1v1h-1zM1 34h1v5h-1zM1 40h1v1h-1zM1 44h1v1h-1zM1 46h1v1h-1zM1 48h1v2h-1zM1 61h1v1h-1zM1 64h1v1h-1zM1 67h1v1h-1zM1 69h1v1h-1zM1 75h1v2h-1zM1 80h1v1h-1zM1 102h1v1h-1zM1 108h1v1h-1zM1 117h1v2h-1zM1 125h1v1h-1zM1 136h1v1h-1zM1 146h1v2h-1zM1 160h1v1h-1zM1 162h1v1h-1zM1 164h1v1h-1zM1 173h1v1h-1zM1 180h1v1h-1zM1 185h1v1h-1zM1 210h1v1h-1zM1 215h1v1h-1zM1 218h1v2h-1zM1 221h1v1h-1zM1 227h1v1h-1zM1 231h1v2h-1zM1 235h1v3h-1zM1 241h1v1h-1zM1 244h1v1h-1zM1 247h1v2h-1zM1 252h1v1h-1zM1 258h1v1h-1zM1 265h1v1h-1zM1 270h1v1h-1zM1 272h1v1h-1zM1 277h1v1h-1zM1 297h1v3h-1zM1 302h1v1h-1zM1 311h1v1h-1zM1 313h1v1h-1zM1 331h1v2h-1zM1 337h1v1h-1zM1 339h1v1h-1zM1 346h1v1h-1zM1 348h1v1h-1zM1 371h1v1h-1zM1 374h1v1h-1zM1 376h1v1h-1zM1 378h1v2h-1zM1 381h1v1h-1zM1 383h1v2h-1zM1 390h1v1h-1zM1 392h1v2h-1zM1 396h1v3h-1zM1 400h1v1h-1zM2 12h1v2h-1zM2 15h1v3h-1zM2 23h1v1h-1zM2 28h1v1h-1zM2 32h1v2h-1zM2 47h1v1h-1zM2 52h1v1h-1zM2 55h1v1h-1zM2 57h1v1h-1zM2 65h1v1h-1zM2 87h1v2h-1zM2 90h1v1h-1zM2 92h1v1h-1zM2 106h1v1h-1zM2 111h1v2h-1zM2 120h1v2h-1zM2 123h1v1h-1zM2 126h1v1h-1zM2 131h1v1h-1zM2 133h1v1h-1zM2 135h1v1h-1zM2 140h1v1h-1zM2 143h1v1h-1zM2 150h1v1h-1zM2 162h1v1h-1zM2 164h1v1h-1zM2 166h1v1h-1zM2 168h1v1h-1zM2 170h1v3h-1zM2 180h1v1h-1zM2 182h1v1h-1zM2 188h1v1h-1zM2 200h1v1h-1zM2 204h1v1h-1zM2 206h1v2h-1zM2 211h1v3h-1zM2 220h1v1h-1zM2 231h1v2h-1zM2 242h1v1h-1zM2 247h1v2h-1zM2 350h1v2h-1zM2 353h1v1h-1zM2 357h1v2h-1zM2 364h1v1h-1zM2 368h1v2h-1zM2 397h1v3h-1zM2 402h1v2h-1zM2 410h1v1h-1zM2 412h1v1h-1zM2 414h1v1h-1zM3 8h1v1h-1zM3 11h1v1h-1zM3 13h1v2h-1zM3 19h1v1h-1zM3 24h1v1h-1zM3 26h1v1h-1zM3 28h1v1h-1zM3 44h1v2h-1zM3 58h1v2h-1zM3 66h1v1h-1zM3 94h1v1h-1zM3 97h1v2h-1zM3 100h1v2h-1zM3 112h1v2h-1zM3 121h1v1h-1zM3 127h1v1h-1zM3 132h1v2h-1zM3 136h1v1h-1zM3 139h1v1h-1zM3 141h1v6h-1zM3 148h1v1h-1zM3 150h1v2h-1zM3 153h1v1h-1zM3 161h1v1h-1zM3 165h1v1h-1zM3 169h1v4h-1zM3 174h1v2h-1zM3 178h1v1h-1zM3 205h1v1h-1zM3 211h1v1h-1zM3 214h1v1h-1zM3 220h1v3h-1zM3 224h1v3h-1zM3 228h1v2h-1zM3 235h1v2h-1zM3 246h1v1h-1zM3 250h1v2h-1zM3 253h1v1h-1zM3 261h1v1h-1zM3 265h1v1h-1zM3 274h1v1h-1zM3 276h1v1h-1zM3 278h1v1h-1zM3 282h1v1h-1zM3 295h1v1h-1zM3 310h1v2h-1zM3 330h1v1h-1zM3 332h1v1h-1zM3 347h1v1h-1zM3 351h1v1h-1zM3 353h1v1h-1zM3 358h1v2h-1zM3 366h1v1h-1zM3 370h1v2h-1zM3 376h1v4h-1zM3 392h1v2h-1zM3 401h1v1h-1zM3 405h1v4h-1zM3 414h1v1h-1zM3 418h1v1h-1zM4 15h1v1h-1zM4 17h1v1h-1zM4 21h1v1h-1zM4 24h1v1h-1zM4 28h1v1h-1zM4 33h1v2h-1zM4 39h1v1h-1zM4 51h1v1h-1zM4 65h1v1h-1zM4 68h1v2h-1zM4 91h1v1h-1zM4 94h1v1h-1zM4 109h1v1h-1zM4 117h1v2h-1zM4 120h1v1h-1zM4 125h1v2h-1zM4 134h1v2h-1zM4 150h1v2h-1zM4 154h1v2h-1zM4 162h1v3h-1zM4 170h1v3h-1zM4 174h1v1h-1zM4 177h1v1h-1zM4 179h1v2h-1zM4 182h1v3h-1zM4 187h1v1h-1zM4 203h1v2h-1zM4 206h1v1h-1zM4 225h1v1h-1zM4 228h1v3h-1zM4 232h1v1h-1zM4 248h1v1h-1zM4 271h1v1h-1zM4 274h1v1h-1zM4 280h1v2h-1zM4 291h1v3h-1zM4 298h1v1h-1zM4 307h1v2h-1zM4 310h1v1h-1zM4 318h1v1h-1zM4 325h1v1h-1zM4 330h1v1h-1zM4 332h1v2h-1zM4 338h1v1h-1zM4 345h1v1h-1zM4 362h1v1h-1zM4 366h1v2h-1zM4 370h1v2h-1zM4 373h1v1h-1zM4 381h1v1h-1zM4 385h1v2h-1zM4 393h1v2h-1zM4 397h1v1h-1zM4 399h1v1h-1zM4 405h1v2h-1zM4 411h1v1h-1zM4 413h1v1h-1zM5 0h1v3h-1zM5 24h1v2h-1zM5 35h1v1h-1zM5 41h1v1h-1zM5 44h1v1h-1zM5 55h1v1h-1zM5 57h1v2h-1zM5 66h1v1h-1zM5 79h1v1h-1zM5 93h1v1h-1zM5 100h1v5h-1zM5 110h1v2h-1zM5 114h1v1h-1zM5 119h1v5h-1zM5 125h1v1h-1zM5 138h1v1h-1zM5 140h1v3h-1zM5 150h1v1h-1zM5 156h1v1h-1zM5 158h1v1h-1zM5 160h1v1h-1zM5 162h1v3h-1zM5 177h1v1h-1zM5 200h1v3h-1zM5 206h1v2h-1zM5 209h1v1h-1zM5 221h1v1h-1zM5 237h1v1h-1zM5 239h1v1h-1zM5 244h1v1h-1zM5 250h1v1h-1zM5 253h1v2h-1zM5 256h1v1h-1zM5 259h1v2h-1zM5 264h1v1h-1zM5 281h1v4h-1zM5 290h1v1h-1zM5 298h1v1h-1zM5 315h1v2h-1zM5 320h1v2h-1zM5 325h1v5h-1zM5 332h1v1h-1zM5 334h1v2h-1zM5 337h1v2h-1zM5 347h1v1h-1zM5 351h1v2h-1zM5 357h1v1h-1zM5 360h1v1h-1zM5 371h1v1h-1zM5 373h1v2h-1zM5 385h1v1h-1zM5 394h1v1h-1zM5 400h1v1h-1zM5 404h1v1h-1zM5 416h1v2h-1zM6 18h1v1h-1zM6 21h1v1h-1zM6 31h1v1h-1zM6 38h1v1h-1zM6 45h1v3h-1zM6 54h1v4h-1zM6 62h1v1h-1zM6 67h1v1h-1zM6 69h1v1h-1zM6 78h1v1h-1zM6 80h1v1h-1zM6 87h1v3h-1zM6 92h1v1h-1zM6 95h1v1h-1zM6 99h1v1h-1zM6 104h1v3h-1zM6 108h1v1h-1zM6 125h1v3h-1zM6 132h1v1h-1zM6 139h1v1h-1zM6 141h1v1h-1zM6 144h1v1h-1zM6 147h1v3h-1zM6 153h1v1h-1zM6 156h1v2h-1zM6 159h1v1h-1zM6 164h1v2h-1zM6 172h1v1h-1zM6 177h1v2h-1zM6 181h1v2h-1zM6 185h1v2h-1zM6 195h1v1h-1zM6 199h1v1h-1zM6 201h1v2h-1zM6 205h1v1h-1zM6 210h1v1h-1zM6 212h1v1h-1zM6 215h1v1h-1zM6 220h1v3h-1zM6 226h1v1h-1zM6 232h1v2h-1zM6 235h1v1h-1zM6 237h1v1h-1zM6 246h1v4h-1zM6 265h1v2h-1zM6 272h1v3h-1zM6 279h1v1h-1zM6 288h1v1h-1zM6 291h1v2h-1zM6 296h1v1h-1zM6 298h1v1h-1zM6 308h1v1h-1zM6 312h1v1h-1zM6 314h1v2h-1zM6 318h1v1h-1zM6 322h1v1h-1zM6 324h1v1h-1zM6 380h1v5h-1zM6 386h1v2h-1zM6 399h1v1h-1zM6 401h1v1h-1zM6 403h1v1h-1zM6 411h1v1h-1zM6 414h1v1h-1zM7 5h1v1h-1zM7 14h1v2h-1zM7 41h1v1h-1zM7 43h1v1h-1zM7 52h1v1h-1zM7 59h1v1h-1zM7 73h1v1h-1zM7 75h1v1h-1zM7 91h1v1h-1zM7 96h1v1h-1zM7 98h1v1h-1zM7 128h1v1h-1zM7 132h1v1h-1zM7 136h1v1h-1zM7 138h1v1h-1zM7 141h1v1h-1zM7 147h1v1h-1zM7 152h1v2h-1zM7 157h1v1h-1zM7 162h1v1h-1zM7 182h1v1h-1zM7 185h1v1h-1zM7 187h1v1h-1zM7 189h1v1h-1zM7 197h1v4h-1zM7 204h1v1h-1zM7 206h1v1h-1zM7 208h1v1h-1zM7 210h1v1h-1zM7 223h1v1h-1zM7 227h1v1h-1zM7 229h1v1h-1zM7 232h1v1h-1zM7 234h1v1h-1zM7 236h1v1h-1zM7 239h1v2h-1zM7 247h1v1h-1zM7 250h1v2h-1zM7 255h1v3h-1zM7 259h1v1h-1zM7 261h1v1h-1zM7 269h1v1h-1zM7 274h1v2h-1zM7 280h1v2h-1zM7 288h1v2h-1zM7 292h1v2h-1zM7 295h1v1h-1zM7 297h1v1h-1zM7 301h1v1h-1zM7 303h1v2h-1zM7 311h1v2h-1zM7 321h1v3h-1zM7 332h1v3h-1zM7 359h1v1h-1zM7 380h1v1h-1zM7 383h1v1h-1zM7 386h1v1h-1zM7 391h1v4h-1zM7 410h1v1h-1zM7 414h1v1h-1zM7 416h1v1h-1zM8 0h1v2h-1zM8 5h1v1h-1zM8 10h1v2h-1zM8 15h1v1h-1zM8 23h1v1h-1zM8 28h1v1h-1zM8 31h1v2h-1zM8 34h1v2h-1zM8 45h1v1h-1zM8 51h1v1h-1zM8 65h1v4h-1zM8 75h1v2h-1zM8 79h1v1h-1zM8 81h1v1h-1zM8 91h1v1h-1zM8 98h1v1h-1zM8 103h1v2h-1zM8 107h1v1h-1zM8 114h1v1h-1zM8 117h1v2h-1zM8 121h1v3h-1zM8 132h1v1h-1zM8 135h1v1h-1zM8 141h1v1h-1zM8 144h1v1h-1zM8 152h1v2h-1zM8 155h1v2h-1zM8 165h1v1h-1zM8 168h1v2h-1zM8 171h1v1h-1zM8 177h1v1h-1zM8 180h1v2h-1zM8 205h1v2h-1zM8 209h1v1h-1zM8 230h1v2h-1zM8 234h1v3h-1zM8 250h1v3h-1zM8 257h1v2h-1zM8 262h1v2h-1zM8 266h1v1h-1zM8 268h1v2h-1zM8 325h1v1h-1zM8 327h1v1h-1zM8 333h1v1h-1zM8 385h1v1h-1zM8 387h1v3h-1zM8 411h1v2h-1zM9 14h1v1h-1zM9 18h1v1h-1zM9 23h1v1h-1zM9 29h1v1h-1zM9 32h1v1h-1zM9 34h1v1h-1zM9 42h1v1h-1zM9 47h1v1h-1zM9 50h1v3h-1zM9 112h1v1h-1zM9 114h1v1h-1zM9 116h1v2h-1zM9 120h1v2h-1zM9 127h1v1h-1zM9 132h1v3h-1zM9 142h1v1h-1zM9 159h1v2h-1zM9 162h1v1h-1zM9 167h1v2h-1zM9 171h1v1h-1zM9 179h1v1h-1zM9 182h1v1h-1zM9 184h1v1h-1zM9 199h1v1h-1zM9 202h1v2h-1zM9 211h1v4h-1zM9 218h1v1h-1zM9 226h1v2h-1zM9 233h1v2h-1zM9 238h1v1h-1zM9 243h1v1h-1zM9 260h1v1h-1zM9 270h1v2h-1zM9 296h1v5h-1zM9 302h1v3h-1zM9 310h1v3h-1zM9 314h1v1h-1zM9 324h1v1h-1zM9 372h1v1h-1zM9 374h1v2h-1zM9 396h1v1h-1zM9 405h1v2h-1zM9 408h1v2h-1zM9 417h1v3h-1zM10 16h1v1h-1zM10 30h1v1h-1zM10 33h1v1h-1zM10 55h1v1h-1zM10 64h1v1h-1zM10 70h1v3h-1zM10 74h1v1h-1zM10 76h1v1h-1zM10 81h1v1h-1zM10 84h1v1h-1zM10 88h1v1h-1zM10 95h1v1h-1zM10 99h1v1h-1zM10 104h1v1h-1zM10 109h1v1h-1zM10 111h1v1h-1zM10 114h1v2h-1zM10 118h1v1h-1zM10 125h1v1h-1zM10 132h1v2h-1zM10 144h1v1h-1zM10 146h1v1h-1zM10 152h1v1h-1zM10 155h1v1h-1zM10 158h1v2h-1zM10 165h1v1h-1zM10 177h1v1h-1zM10 179h1v2h-1zM10 183h1v1h-1zM10 186h1v1h-1zM10 188h1v1h-1zM10 197h1v1h-1zM10 199h1v1h-1zM10 209h1v1h-1zM10 219h1v1h-1zM10 225h1v2h-1zM10 246h1v1h-1zM10 251h1v1h-1zM10 253h1v2h-1zM10 258h1v2h-1zM10 274h1v1h-1zM10 284h1v1h-1zM10 286h1v1h-1zM10 296h1v1h-1zM10 298h1v2h-1zM10 305h1v4h-1zM10 313h1v3h-1zM10 326h1v1h-1zM10 335h1v1h-1zM10 342h1v3h-1zM10 360h1v1h-1zM10 375h1v1h-1zM10 378h1v2h-1zM10 384h1v1h-1zM10 391h1v3h-1zM10 395h1v2h-1zM10 399h1v2h-1zM10 402h1v1h-1zM10 404h1v1h-1zM10 417h1v1h-1zM11 71h1v1h-1zM11 90h1v1h-1zM11 100h1v1h-1zM11 102h1v1h-1zM11 106h1v2h-1zM11 123h1v1h-1zM11 125h1v2h-1zM11 129h1v2h-1zM11 133h1v2h-1zM11 136h1v2h-1zM11 139h1v2h-1zM11 154h1v2h-1zM11 158h1v2h-1zM11 161h1v2h-1zM11 169h1v4h-1zM11 182h1v1h-1zM11 184h1v1h-1zM11 186h1v1h-1zM11 188h1v1h-1zM11 193h1v2h-1zM11 202h1v1h-1zM11 204h1v1h-1zM11 216h1v1h-1zM11 219h1v1h-1zM11 231h1v1h-1zM11 239h1v2h-1zM11 242h1v1h-1zM11 246h1v4h-1zM11 278h1v5h-1zM11 284h1v3h-1zM11 289h1v4h-1zM11 297h1v1h-1zM11 302h1v1h-1zM11 305h1v1h-1zM11 307h1v1h-1zM11 309h1v2h-1zM11 350h1v2h-1zM11 354h1v1h-1zM11 356h1v1h-1zM11 366h1v1h-1zM11 368h1v2h-1zM11 371h1v1h-1zM11 403h1v3h-1zM12 75h1v1h-1zM12 79h1v1h-1zM12 100h1v2h-1zM12 113h1v1h-1zM12 121h1v1h-1zM12 123h1v1h-1zM12 125h1v2h-1zM12 128h1v1h-1zM12 132h1v2h-1zM12 141h1v1h-1zM12 149h1v1h-1zM12 151h1v1h-1zM12 168h1v1h-1zM12 180h1v2h-1zM12 184h1v1h-1zM12 190h1v1h-1zM12 200h1v2h-1zM12 211h1v1h-1zM12 216h1v1h-1zM12 221h1v1h-1zM12 223h1v1h-1zM12 230h1v1h-1zM12 233h1v1h-1zM12 235h1v1h-1zM12 237h1v1h-1zM12 263h1v1h-1zM12 269h1v2h-1zM12 272h1v2h-1zM12 278h1v2h-1zM12 283h1v5h-1zM12 294h1v2h-1zM12 307h1v1h-1zM12 311h1v2h-1zM12 330h1v1h-1zM12 346h1v1h-1zM12 358h1v1h-1zM12 368h1v1h-1zM12 379h1v1h-1zM12 390h1v2h-1zM12 393h1v2h-1zM12 397h1v1h-1zM12 406h1v1h-1zM12 416h1v1h-1zM13 10h1v3h-1zM13 57h1v1h-1zM13 65h1v1h-1zM13 67h1v3h-1zM13 72h1v2h-1zM13 77h1v1h-1zM13 89h1v1h-1zM13 92h1v1h-1zM13 94h1v1h-1zM13 100h1v1h-1zM13 103h1v1h-1zM13 105h1v1h-1zM13 114h1v4h-1zM13 120h1v3h-1zM13 124h1v1h-1zM13 126h1v2h-1zM13 134h1v2h-1zM13 138h1v1h-1zM13 143h1v1h-1zM13 147h1v3h-1zM13 151h1v1h-1zM13 154h1v1h-1zM13 161h1v1h-1zM13 164h1v1h-1zM13 166h1v1h-1zM13 171h1v4h-1zM13 180h1v3h-1zM13 184h1v2h-1zM13 191h1v1h-1zM13 195h1v1h-1zM13 214h1v1h-1zM13 216h1v1h-1zM13 225h1v3h-1zM13 249h1v2h-1zM13 253h1v1h-1zM13 257h1v1h-1zM13 262h1v2h-1zM13 267h1v1h-1zM13 277h1v1h-1zM13 281h1v1h-1zM13 284h1v1h-1zM13 290h1v4h-1zM13 303h1v1h-1zM13 307h1v1h-1zM13 316h1v1h-1zM13 324h1v4h-1zM13 334h1v2h-1zM13 337h1v2h-1zM13 349h1v1h-1zM13 352h1v3h-1zM13 359h1v1h-1zM13 365h1v1h-1zM13 375h1v2h-1zM13 378h1v2h-1zM13 390h1v1h-1zM13 394h1v1h-1zM13 396h1v1h-1zM13 405h1v1h-1zM13 408h1v1h-1zM14 3h1v2h-1zM14 12h1v1h-1zM14 14h1v1h-1zM14 17h1v2h-1zM14 20h1v3h-1zM14 31h1v1h-1zM14 39h1v2h-1zM14 46h1v1h-1zM14 98h1v1h-1zM14 106h1v1h-1zM14 109h1v1h-1zM14 117h1v3h-1zM14 121h1v2h-1zM14 202h1v1h-1zM14 204h1v3h-1zM14 213h1v1h-1zM14 218h1v2h-1zM14 252h1v1h-1zM14 254h1v2h-1zM14 257h1v4h-1zM14 262h1v1h-1zM14 264h1v2h-1zM14 271h1v2h-1zM14 276h1v2h-1zM14 286h1v1h-1zM14 300h1v1h-1zM14 303h1v1h-1zM14 306h1v1h-1zM14 308h1v1h-1zM14 314h1v1h-1zM14 324h1v1h-1zM14 328h1v1h-1zM14 347h1v1h-1zM14 351h1v1h-1zM14 355h1v1h-1zM14 359h1v1h-1zM14 393h1v1h-1zM14 401h1v2h-1zM14 404h1v1h-1zM14 406h1v1h-1zM14 408h1v1h-1zM14 414h1v2h-1zM14 418h1v1h-1zM15 7h1v1h-1zM15 10h1v2h-1zM15 21h1v1h-1zM15 24h1v1h-1zM15 29h1v2h-1zM15 49h1v1h-1zM15 53h1v1h-1zM15 61h1v1h-1zM15 64h1v1h-1zM15 78h1v1h-1zM15 82h1v3h-1zM15 92h1v1h-1zM15 95h1v1h-1zM15 97h1v1h-1zM15 100h1v1h-1zM15 115h1v3h-1zM15 120h1v1h-1zM15 122h1v1h-1zM15 125h1v2h-1zM15 128h1v1h-1zM15 137h1v1h-1zM15 202h1v1h-1zM15 205h1v1h-1zM15 212h1v1h-1zM15 218h1v1h-1zM15 220h1v1h-1zM15 223h1v1h-1zM15 230h1v2h-1zM15 239h1v1h-1zM15 244h1v1h-1zM15 250h1v1h-1zM15 253h1v4h-1zM15 258h1v1h-1zM15 262h1v1h-1zM15 272h1v1h-1zM15 277h1v1h-1zM15 286h1v1h-1zM15 288h1v2h-1zM15 291h1v1h-1zM15 301h1v1h-1zM15 306h1v1h-1zM15 313h1v1h-1zM15 323h1v2h-1zM15 327h1v1h-1zM15 337h1v1h-1zM15 344h1v1h-1zM15 348h1v8h-1zM15 359h1v1h-1zM15 361h1v1h-1zM15 368h1v1h-1zM15 381h1v2h-1zM15 390h1v2h-1zM15 405h1v3h-1zM15 413h1v1h-1zM15 419h1v1h-1zM16 6h1v4h-1zM16 14h1v1h-1zM16 23h1v3h-1zM16 27h1v1h-1zM16 29h1v1h-1zM16 40h1v2h-1zM16 53h1v1h-1zM16 61h1v2h-1zM16 70h1v4h-1zM16 77h1v1h-1zM16 79h1v1h-1zM16 81h1v1h-1zM16 85h1v1h-1zM16 97h1v2h-1zM16 116h1v2h-1zM16 119h1v5h-1zM16 197h1v3h-1zM16 205h1v2h-1zM16 208h1v2h-1zM16 222h1v1h-1zM16 231h1v1h-1zM16 233h1v1h-1zM16 240h1v1h-1zM16 242h1v1h-1zM16 244h1v1h-1zM16 251h1v1h-1zM16 258h1v1h-1zM16 271h1v2h-1zM16 278h1v2h-1zM16 285h1v2h-1zM16 290h1v4h-1zM16 305h1v1h-1zM16 321h1v2h-1zM16 329h1v1h-1zM16 354h1v1h-1zM16 367h1v1h-1zM16 375h1v1h-1zM16 384h1v2h-1zM16 389h1v1h-1zM16 391h1v1h-1zM16 394h1v1h-1zM16 401h1v3h-1zM17 0h1v1h-1zM17 2h1v3h-1zM17 16h1v2h-1zM17 19h1v1h-1zM17 26h1v1h-1zM17 46h1v1h-1zM17 49h1v4h-1zM17 72h1v1h-1zM17 75h1v3h-1zM17 85h1v1h-1zM17 95h1v1h-1zM17 104h1v1h-1zM17 122h1v1h-1zM17 127h1v1h-1zM17 139h1v2h-1zM17 148h1v1h-1zM17 153h1v1h-1zM17 170h1v1h-1zM17 230h1v1h-1zM17 232h1v1h-1zM17 235h1v3h-1zM17 239h1v1h-1zM17 242h1v2h-1zM17 269h1v1h-1zM17 271h1v1h-1zM17 273h1v2h-1zM17 277h1v1h-1zM17 281h1v2h-1zM17 284h1v1h-1zM17 330h1v1h-1zM17 341h1v1h-1zM17 346h1v1h-1zM17 351h1v1h-1zM17 363h1v1h-1zM17 389h1v1h-1zM17 392h1v1h-1zM17 394h1v1h-1zM17 400h1v1h-1zM17 415h1v1h-1zM18 2h1v1h-1zM18 10h1v1h-1zM18 18h1v2h-1zM18 22h1v2h-1zM18 26h1v3h-1zM18 46h1v1h-1zM18 48h1v1h-1zM18 52h1v2h-1zM18 55h1v2h-1zM18 60h1v1h-1zM18 81h1v1h-1zM18 83h1v1h-1zM18 89h1v1h-1zM18 104h1v1h-1zM18 127h1v2h-1zM18 136h1v3h-1zM18 142h1v3h-1zM18 155h1v1h-1zM18 162h1v5h-1zM18 169h1v3h-1zM18 173h1v1h-1zM18 180h1v1h-1zM18 183h1v1h-1zM18 205h1v1h-1zM18 217h1v2h-1zM18 220h1v3h-1zM18 224h1v1h-1zM18 232h1v2h-1zM18 241h1v1h-1zM18 243h1v1h-1zM18 250h1v1h-1zM18 253h1v2h-1zM18 264h1v1h-1zM18 273h1v2h-1zM18 281h1v2h-1zM18 284h1v3h-1zM18 288h1v1h-1zM18 295h1v2h-1zM18 298h1v2h-1zM18 305h1v1h-1zM18 311h1v1h-1zM18 313h1v1h-1zM18 316h1v1h-1zM18 318h1v1h-1zM18 332h1v1h-1zM18 341h1v1h-1zM18 346h1v1h-1zM18 351h1v3h-1zM18 355h1v2h-1zM18 366h1v2h-1zM18 372h1v3h-1zM18 396h1v2h-1zM18 399h1v1h-1zM18 403h1v2h-1zM18 406h1v1h-1zM18 419h1v1h-1zM19 11h1v1h-1zM19 16h1v1h-1zM19 26h1v1h-1zM19 29h1v1h-1zM19 36h1v1h-1zM19 46h1v1h-1zM19 48h1v1h-1zM19 62h1v1h-1zM19 82h1v3h-1zM19 131h1v1h-1zM19 140h1v1h-1zM19 143h1v1h-1zM19 182h1v1h-1zM19 184h1v1h-1zM19 187h1v1h-1zM19 189h1v1h-1zM19 195h1v1h-1zM19 197h1v3h-1zM19 219h1v3h-1zM19 229h1v2h-1zM19 233h1v2h-1zM19 240h1v1h-1zM19 242h1v2h-1zM19 246h1v4h-1zM19 262h1v4h-1zM19 270h1v1h-1zM19 272h1v2h-1zM19 289h1v1h-1zM19 300h1v5h-1zM19 311h1v1h-1zM19 313h1v2h-1zM19 320h1v1h-1zM19 322h1v1h-1zM19 325h1v1h-1zM19 327h1v1h-1zM19 330h1v2h-1zM19 344h1v4h-1zM19 352h1v1h-1zM19 358h1v1h-1zM19 364h1v3h-1zM19 369h1v1h-1zM19 418h1v1h-1zM20 12h1v1h-1zM20 52h1v1h-1zM20 54h1v1h-1zM20 59h1v1h-1zM20 64h1v1h-1zM20 69h1v2h-1zM20 74h1v1h-1zM20 77h1v2h-1zM20 95h1v1h-1zM20 97h1v3h-1zM20 105h1v2h-1zM20 141h1v1h-1zM20 147h1v1h-1zM20 149h1v1h-1zM20 153h1v1h-1zM20 163h1v2h-1zM20 167h1v1h-1zM20 169h1v1h-1zM20 172h1v1h-1zM20 174h1v1h-1zM20 207h1v1h-1zM20 216h1v1h-1zM20 219h1v3h-1zM20 223h1v1h-1zM20 227h1v1h-1zM20 240h1v3h-1zM20 244h1v1h-1zM20 247h1v3h-1zM20 259h1v1h-1zM20 268h1v1h-1zM20 273h1v1h-1zM20 286h1v1h-1zM20 289h1v2h-1zM20 300h1v1h-1zM20 303h1v1h-1zM20 307h1v1h-1zM20 320h1v3h-1zM20 331h1v2h-1zM20 350h1v1h-1zM20 359h1v1h-1zM20 393h1v1h-1zM20 395h1v2h-1zM20 398h1v1h-1zM20 403h1v1h-1zM20 417h1v1h-1zM21 6h1v2h-1zM21 30h1v3h-1zM21 34h1v1h-1zM21 53h1v2h-1zM21 65h1v1h-1zM21 75h1v2h-1zM21 80h1v1h-1zM21 82h1v1h-1zM21 86h1v1h-1zM21 110h1v1h-1zM21 131h1v1h-1zM21 137h1v1h-1zM21 142h1v2h-1zM21 145h1v1h-1zM21 148h1v1h-1zM21 178h1v1h-1zM21 200h1v5h-1zM21 212h1v1h-1zM21 217h1v3h-1zM21 221h1v4h-1zM21 231h1v1h-1zM21 240h1v1h-1zM21 248h1v1h-1zM21 250h1v1h-1zM21 253h1v1h-1zM21 260h1v1h-1zM21 264h1v2h-1zM21 275h1v1h-1zM21 278h1v1h-1zM21 286h1v1h-1zM21 288h1v2h-1zM21 293h1v1h-1zM21 316h1v1h-1zM21 319h1v1h-1zM21 321h1v3h-1zM21 328h1v1h-1zM21 337h1v2h-1zM21 341h1v3h-1zM21 348h1v2h-1zM21 351h1v1h-1zM21 354h1v1h-1zM21 358h1v1h-1zM21 389h1v2h-1zM21 395h1v3h-1zM21 399h1v1h-1zM21 409h1v1h-1zM21 418h1v1h-1z"/><path fill="#d9daf1" d="M0 2h1v2h-1zM0 18h1v2h-1zM0 22h1v1h-1zM0 27h1v1h-1zM0 34h1v1h-1zM0 38h1v1h-1zM0 43h1v1h-1zM0 61h1v1h-1zM0 72h1v1h-1zM0 80h1v1h-1zM0 82h1v2h-1zM0 86h1v1h-1zM0 100h1v1h-1zM0 103h1v1h-1zM0 105h1v5h-1zM0 115h1v3h-1zM0 121h1v1h-1zM0 123h1v1h-1zM0 127h1v1h-1zM0 131h1v1h-1zM0 133h1v2h-1zM0 141h1v1h-1zM0 143h1v1h-1zM0 150h1v2h-1zM0 154h1v2h-1zM0 163h1v1h-1zM0 175h1v1h-1zM0 184h1v1h-1zM0 186h1v1h-1zM0 219h1v1h-1zM0 225h1v1h-1zM0 227h1v2h-1zM0 251h1v2h-1zM0 257h1v1h-1zM0 270h1v2h-1zM0 280h1v1h-1zM0 282h1v1h-1zM0 285h1v1h-1zM0 296h1v2h-1zM0 299h1v1h-1zM0 311h1v1h-1zM0 328h1v1h-1zM0 334h1v1h-1zM0 338h1v1h-1zM0 347h1v1h-1zM0 354h1v2h-1zM0 362h1v2h-1zM0 365h1v2h-1zM0 375h1v1h-1zM0 380h1v2h-1zM0 385h1v1h-1zM0 388h1v1h-1zM0 411h1v2h-1zM0 414h1v1h-1zM1 1h1v1h-1zM1 15h1v2h-1zM1 18h1v3h-1zM1 22h1v1h-1zM1 27h1v1h-1zM1 30h1v1h-1zM1 41h1v1h-1zM1 47h1v1h-1zM1 50h1v1h-1zM1 57h1v1h-1zM1 62h1v2h-1zM1 68h1v1h-1zM1 72h1v1h-1zM1 74h1v1h-1zM1 77h1v2h-1zM1 81h1v2h-1zM1 84h1v2h-1zM1 89h1v3h-1zM1 95h1v6h-1zM1 103h1v2h-1zM1 109h1v1h-1zM1 116h1v1h-1zM1 137h1v2h-1zM1 158h1v2h-1zM1 163h1v1h-1zM1 166h1v3h-1zM1 170h1v3h-1zM1 177h1v3h-1zM1 181h1v3h-1zM1 186h1v1h-1zM1 191h1v1h-1zM1 200h1v1h-1zM1 202h1v2h-1zM1 205h1v1h-1zM1 207h1v1h-1zM1 209h1v1h-1zM1 214h1v1h-1zM1 233h1v1h-1zM1 245h1v2h-1zM1 249h1v1h-1zM1 255h1v1h-1zM1 257h1v1h-1zM1 259h1v2h-1zM1 262h1v1h-1zM1 268h1v2h-1zM1 271h1v1h-1zM1 273h1v2h-1zM1 276h1v1h-1zM1 278h1v2h-1zM1 285h1v3h-1zM1 290h1v1h-1zM1 292h1v2h-1zM1 295h1v2h-1zM1 303h1v1h-1zM1 309h1v1h-1zM1 330h1v1h-1zM1 336h1v1h-1zM1 355h1v4h-1zM1 373h1v1h-1zM1 375h1v1h-1zM1 377h1v1h-1zM1 388h1v1h-1zM1 391h1v1h-1zM1 399h1v1h-1zM2 24h1v1h-1zM2 31h1v1h-1zM2 42h1v3h-1zM2 48h1v4h-1zM2 53h1v1h-1zM2 56h1v1h-1zM2 59h1v1h-1zM2 66h1v1h-1zM2 68h1v2h-1zM2 89h1v1h-1zM2 93h1v1h-1zM2 95h1v1h-1zM2 98h1v2h-1zM2 105h1v1h-1zM2 107h1v4h-1zM2 122h1v1h-1zM2 124h1v1h-1zM2 127h1v1h-1zM2 132h1v1h-1zM2 136h1v1h-1zM2 141h1v1h-1zM2 144h1v1h-1zM2 167h1v1h-1zM2 176h1v1h-1zM2 181h1v1h-1zM2 184h1v1h-1zM2 187h1v1h-1zM2 203h1v1h-1zM2 205h1v1h-1zM2 214h1v1h-1zM2 221h1v1h-1zM2 224h1v3h-1zM2 230h1v1h-1zM2 240h1v1h-1zM2 246h1v1h-1zM2 254h1v1h-1zM2 335h1v1h-1zM2 343h1v1h-1zM2 359h1v1h-1zM2 380h1v1h-1zM2 382h1v1h-1zM2 392h1v2h-1zM2 396h1v1h-1zM2 407h1v1h-1zM2 411h1v1h-1zM2 413h1v1h-1zM3 12h1v1h-1zM3 18h1v1h-1zM3 20h1v1h-1zM3 29h1v1h-1zM3 34h1v1h-1zM3 46h1v2h-1zM3 73h1v2h-1zM3 79h1v1h-1zM3 85h1v1h-1zM3 91h1v1h-1zM3 93h1v1h-1zM3 96h1v1h-1zM3 102h1v1h-1zM3 107h1v2h-1zM3 114h1v2h-1zM3 119h1v2h-1zM3 140h1v1h-1zM3 147h1v1h-1zM3 149h1v1h-1zM3 152h1v1h-1zM3 155h1v4h-1zM3 162h1v2h-1zM3 166h1v1h-1zM3 173h1v1h-1zM3 177h1v1h-1zM3 182h1v1h-1zM3 184h1v1h-1zM3 200h1v2h-1zM3 207h1v2h-1zM3 210h1v1h-1zM3 223h1v1h-1zM3 227h1v1h-1zM3 237h1v1h-1zM3 252h1v1h-1zM3 256h1v1h-1zM3 266h1v1h-1zM3 268h1v1h-1zM3 271h1v2h-1zM3 275h1v1h-1zM3 277h1v1h-1zM3 279h1v2h-1zM3 284h1v1h-1zM3 291h1v3h-1zM3 307h1v1h-1zM3 321h1v1h-1zM3 325h1v1h-1zM3 329h1v1h-1zM3 334h1v1h-1zM3 348h1v3h-1zM3 352h1v1h-1zM3 362h1v3h-1zM3 367h1v3h-1zM3 380h1v1h-1zM3 382h1v1h-1zM3 391h1v1h-1zM3 397h1v1h-1zM3 400h1v1h-1zM3 402h1v3h-1zM4 0h1v2h-1zM4 14h1v1h-1zM4 16h1v1h-1zM4 31h1v2h-1zM4 36h1v1h-1zM4 50h1v1h-1zM4 66h1v2h-1zM4 88h1v1h-1zM4 92h1v1h-1zM4 106h1v1h-1zM4 108h1v1h-1zM4 115h1v2h-1zM4 119h1v1h-1zM4 122h1v1h-1zM4 127h1v2h-1zM4 130h1v1h-1zM4 136h1v1h-1zM4 140h1v1h-1zM4 142h1v3h-1zM4 156h1v1h-1zM4 158h1v1h-1zM4 160h1v2h-1zM4 166h1v4h-1zM4 173h1v1h-1zM4 176h1v1h-1zM4 178h1v1h-1zM4 185h1v2h-1zM4 196h1v4h-1zM4 201h1v2h-1zM4 207h1v1h-1zM4 209h1v1h-1zM4 213h1v2h-1zM4 220h1v3h-1zM4 224h1v1h-1zM4 231h1v1h-1zM4 238h1v1h-1zM4 242h1v2h-1zM4 245h1v2h-1zM4 249h1v1h-1zM4 264h1v1h-1zM4 272h1v2h-1zM4 279h1v1h-1zM4 284h1v1h-1zM4 288h1v1h-1zM4 290h1v1h-1zM4 302h1v2h-1zM4 306h1v1h-1zM4 309h1v1h-1zM4 317h1v1h-1zM4 321h1v1h-1zM4 326h1v3h-1zM4 331h1v1h-1zM4 334h1v1h-1zM4 339h1v2h-1zM4 342h1v3h-1zM4 348h1v1h-1zM4 350h1v2h-1zM4 359h1v3h-1zM4 365h1v1h-1zM4 368h1v2h-1zM4 372h1v1h-1zM4 380h1v1h-1zM4 382h1v1h-1zM4 387h1v1h-1zM4 392h1v1h-1zM4 395h1v1h-1zM4 402h1v1h-1zM4 404h1v1h-1zM4 414h1v1h-1zM5 4h1v1h-1zM5 9h1v1h-1zM5 23h1v1h-1zM5 33h1v1h-1zM5 36h1v2h-1zM5 40h1v1h-1zM5 42h1v2h-1zM5 51h1v2h-1zM5 54h1v1h-1zM5 56h1v1h-1zM5 67h1v1h-1zM5 73h1v2h-1zM5 78h1v1h-1zM5 88h1v1h-1zM5 90h1v1h-1zM5 96h1v3h-1zM5 108h1v2h-1zM5 115h1v3h-1zM5 143h1v1h-1zM5 146h1v1h-1zM5 148h1v2h-1zM5 161h1v1h-1zM5 166h1v1h-1zM5 175h1v1h-1zM5 186h1v4h-1zM5 196h1v1h-1zM5 212h1v1h-1zM5 214h1v1h-1zM5 219h1v1h-1zM5 236h1v1h-1zM5 257h1v2h-1zM5 261h1v1h-1zM5 263h1v1h-1zM5 275h1v1h-1zM5 278h1v1h-1zM5 285h1v1h-1zM5 289h1v1h-1zM5 299h1v3h-1zM5 307h1v1h-1zM5 309h1v1h-1zM5 314h1v1h-1zM5 318h1v2h-1zM5 330h1v1h-1zM5 333h1v1h-1zM5 341h1v1h-1zM5 343h1v1h-1zM5 346h1v1h-1zM5 355h1v2h-1zM5 375h1v4h-1zM5 387h1v4h-1zM5 401h1v3h-1zM5 407h1v1h-1zM5 414h1v2h-1zM5 419h1v1h-1zM6 13h1v1h-1zM6 15h1v1h-1zM6 19h1v1h-1zM6 22h1v1h-1zM6 34h1v1h-1zM6 39h1v1h-1zM6 43h1v1h-1zM6 50h1v2h-1zM6 53h1v1h-1zM6 66h1v1h-1zM6 68h1v1h-1zM6 70h1v1h-1zM6 76h1v1h-1zM6 81h1v2h-1zM6 85h1v2h-1zM6 96h1v1h-1zM6 107h1v1h-1zM6 121h1v1h-1zM6 123h1v2h-1zM6 130h1v2h-1zM6 142h1v2h-1zM6 145h1v2h-1zM6 158h1v1h-1zM6 163h1v1h-1zM6 166h1v1h-1zM6 180h1v1h-1zM6 187h1v1h-1zM6 194h1v1h-1zM6 198h1v1h-1zM6 207h1v2h-1zM6 216h1v2h-1zM6 223h1v1h-1zM6 225h1v1h-1zM6 227h1v3h-1zM6 234h1v1h-1zM6 236h1v1h-1zM6 242h1v2h-1zM6 245h1v1h-1zM6 254h1v2h-1zM6 257h1v3h-1zM6 270h1v2h-1zM6 281h1v1h-1zM6 283h1v2h-1zM6 286h1v1h-1zM6 289h1v1h-1zM6 299h1v1h-1zM6 306h1v2h-1zM6 313h1v1h-1zM6 321h1v1h-1zM6 323h1v1h-1zM6 325h1v1h-1zM6 327h1v1h-1zM6 377h1v2h-1zM6 391h1v1h-1zM6 397h1v1h-1zM6 410h1v1h-1zM6 412h1v2h-1zM6 417h1v3h-1zM7 16h1v1h-1zM7 35h1v4h-1zM7 40h1v1h-1zM7 42h1v1h-1zM7 44h1v2h-1zM7 50h1v2h-1zM7 54h1v1h-1zM7 66h1v2h-1zM7 70h1v3h-1zM7 90h1v1h-1zM7 92h1v4h-1zM7 108h1v2h-1zM7 113h1v1h-1zM7 115h1v1h-1zM7 117h1v1h-1zM7 123h1v1h-1zM7 127h1v1h-1zM7 133h1v1h-1zM7 135h1v1h-1zM7 139h1v1h-1zM7 148h1v2h-1zM7 174h1v1h-1zM7 176h1v1h-1zM7 181h1v1h-1zM7 183h1v2h-1zM7 195h1v1h-1zM7 205h1v1h-1zM7 211h1v2h-1zM7 220h1v2h-1zM7 224h1v2h-1zM7 233h1v1h-1zM7 237h1v1h-1zM7 241h1v1h-1zM7 245h1v2h-1zM7 248h1v2h-1zM7 252h1v3h-1zM7 258h1v1h-1zM7 264h1v1h-1zM7 266h1v3h-1zM7 270h1v2h-1zM7 276h1v1h-1zM7 282h1v2h-1zM7 291h1v1h-1zM7 296h1v1h-1zM7 298h1v2h-1zM7 306h1v5h-1zM7 324h1v1h-1zM7 358h1v1h-1zM7 381h1v2h-1zM7 385h1v1h-1zM7 387h1v1h-1zM7 389h1v1h-1zM7 417h1v2h-1zM8 30h1v1h-1zM8 37h1v6h-1zM8 52h1v1h-1zM8 77h1v2h-1zM8 80h1v1h-1zM8 90h1v1h-1zM8 102h1v1h-1zM8 116h1v1h-1zM8 133h1v2h-1zM8 142h1v2h-1zM8 145h1v1h-1zM8 149h1v3h-1zM8 154h1v1h-1zM8 167h1v1h-1zM8 172h1v1h-1zM8 176h1v1h-1zM8 178h1v1h-1zM8 182h1v2h-1zM8 185h1v1h-1zM8 187h1v3h-1zM8 207h1v1h-1zM8 232h1v1h-1zM8 242h1v1h-1zM8 244h1v2h-1zM8 267h1v1h-1zM8 270h1v2h-1zM8 308h1v1h-1zM8 315h1v1h-1zM8 326h1v1h-1zM8 331h1v1h-1zM8 334h1v1h-1zM8 346h1v1h-1zM8 348h1v1h-1zM8 380h1v1h-1zM8 410h1v1h-1zM8 419h1v1h-1zM9 1h1v1h-1zM9 5h1v1h-1zM9 10h1v4h-1zM9 15h1v3h-1zM9 20h1v1h-1zM9 25h1v1h-1zM9 35h1v1h-1zM9 37h1v1h-1zM9 46h1v1h-1zM9 49h1v1h-1zM9 55h1v1h-1zM9 59h1v1h-1zM9 63h1v2h-1zM9 97h1v2h-1zM9 113h1v1h-1zM9 115h1v1h-1zM9 119h1v1h-1zM9 122h1v1h-1zM9 125h1v2h-1zM9 128h1v3h-1zM9 141h1v1h-1zM9 149h1v1h-1zM9 154h1v1h-1zM9 161h1v1h-1zM9 169h1v2h-1zM9 183h1v1h-1zM9 186h1v1h-1zM9 188h1v1h-1zM9 195h1v2h-1zM9 198h1v1h-1zM9 200h1v1h-1zM9 204h1v1h-1zM9 215h1v1h-1zM9 217h1v1h-1zM9 220h1v1h-1zM9 231h1v1h-1zM9 235h1v3h-1zM9 241h1v2h-1zM9 256h1v1h-1zM9 262h1v2h-1zM9 265h1v1h-1zM9 273h1v2h-1zM9 295h1v1h-1zM9 313h1v1h-1zM9 320h1v4h-1zM9 325h1v1h-1zM9 330h1v1h-1zM9 332h1v1h-1zM9 350h1v3h-1zM9 354h1v1h-1zM9 367h1v3h-1zM9 371h1v1h-1zM9 377h1v1h-1zM9 401h1v1h-1zM9 410h1v1h-1zM9 412h1v3h-1zM10 15h1v1h-1zM10 48h1v1h-1zM10 50h1v1h-1zM10 54h1v1h-1zM10 56h1v1h-1zM10 62h1v2h-1zM10 73h1v1h-1zM10 89h1v1h-1zM10 97h1v1h-1zM10 112h1v2h-1zM10 119h1v1h-1zM10 124h1v1h-1zM10 134h1v3h-1zM10 139h1v2h-1zM10 145h1v1h-1zM10 153h1v1h-1zM10 156h1v2h-1zM10 160h1v2h-1zM10 163h1v1h-1zM10 166h1v1h-1zM10 170h1v1h-1zM10 172h1v5h-1zM10 181h1v1h-1zM10 187h1v1h-1zM10 189h1v1h-1zM10 201h1v3h-1zM10 206h1v3h-1zM10 213h1v1h-1zM10 216h1v3h-1zM10 235h1v3h-1zM10 240h1v2h-1zM10 243h1v2h-1zM10 260h1v2h-1zM10 283h1v1h-1zM10 285h1v1h-1zM10 287h1v2h-1zM10 292h1v1h-1zM10 294h1v2h-1zM10 310h1v1h-1zM10 312h1v1h-1zM10 316h1v1h-1zM10 325h1v1h-1zM10 330h1v2h-1zM10 337h1v2h-1zM10 341h1v1h-1zM10 345h1v2h-1zM10 349h1v1h-1zM10 359h1v1h-1zM10 364h1v2h-1zM10 369h1v1h-1zM10 376h1v2h-1zM10 380h1v1h-1zM10 382h1v1h-1zM10 385h1v3h-1zM10 389h1v2h-1zM10 394h1v1h-1zM10 397h1v2h-1zM10 403h1v1h-1zM10 408h1v1h-1zM10 413h1v1h-1zM10 416h1v1h-1zM11 26h1v1h-1zM11 87h1v1h-1zM11 91h1v4h-1zM11 112h1v3h-1zM11 118h1v1h-1zM11 127h1v1h-1zM11 138h1v1h-1zM11 141h1v1h-1zM11 146h1v1h-1zM11 149h1v5h-1zM11 157h1v1h-1zM11 175h1v2h-1zM11 178h1v2h-1zM11 181h1v1h-1zM11 183h1v1h-1zM11 187h1v1h-1zM11 189h1v1h-1zM11 197h1v5h-1zM11 203h1v1h-1zM11 205h1v1h-1zM11 207h1v1h-1zM11 215h1v1h-1zM11 220h1v1h-1zM11 223h1v2h-1zM11 238h1v1h-1zM11 250h1v1h-1zM11 275h1v3h-1zM11 283h1v1h-1zM11 293h1v2h-1zM11 300h1v2h-1zM11 308h1v1h-1zM11 311h1v1h-1zM11 316h1v2h-1zM11 320h1v3h-1zM11 324h1v1h-1zM11 345h1v3h-1zM11 349h1v1h-1zM11 365h1v1h-1zM11 370h1v1h-1zM11 373h1v2h-1zM11 394h1v1h-1zM11 402h1v1h-1zM11 412h1v1h-1zM11 414h1v2h-1zM12 78h1v1h-1zM12 85h1v3h-1zM12 106h1v2h-1zM12 110h1v2h-1zM12 114h1v1h-1zM12 122h1v1h-1zM12 127h1v1h-1zM12 130h1v2h-1zM12 134h1v1h-1zM12 137h1v4h-1zM12 143h1v1h-1zM12 145h1v1h-1zM12 152h1v8h-1zM12 164h1v1h-1zM12 169h1v1h-1zM12 171h1v1h-1zM12 182h1v2h-1zM12 185h1v1h-1zM12 189h1v1h-1zM12 194h1v1h-1zM12 202h1v1h-1zM12 212h1v1h-1zM12 214h1v1h-1zM12 217h1v2h-1zM12 220h1v1h-1zM12 222h1v1h-1zM12 224h1v1h-1zM12 231h1v2h-1zM12 236h1v1h-1zM12 238h1v2h-1zM12 246h1v2h-1zM12 264h1v1h-1zM12 267h1v1h-1zM12 271h1v1h-1zM12 275h1v2h-1zM12 290h1v4h-1zM12 297h1v1h-1zM12 300h1v1h-1zM12 305h1v1h-1zM12 313h1v1h-1zM12 315h1v1h-1zM12 319h1v1h-1zM12 328h1v2h-1zM12 347h1v1h-1zM12 350h1v3h-1zM12 356h1v1h-1zM12 359h1v1h-1zM12 365h1v1h-1zM12 398h1v2h-1zM12 411h1v1h-1zM12 414h1v1h-1zM12 417h1v1h-1zM13 35h1v1h-1zM13 43h1v1h-1zM13 52h1v2h-1zM13 63h1v2h-1zM13 76h1v1h-1zM13 78h1v1h-1zM13 80h1v2h-1zM13 83h1v2h-1zM13 88h1v1h-1zM13 91h1v1h-1zM13 96h1v2h-1zM13 99h1v1h-1zM13 108h1v1h-1zM13 123h1v1h-1zM13 133h1v1h-1zM13 136h1v2h-1zM13 139h1v2h-1zM13 146h1v1h-1zM13 150h1v1h-1zM13 152h1v2h-1zM13 155h1v6h-1zM13 162h1v1h-1zM13 165h1v1h-1zM13 170h1v1h-1zM13 192h1v2h-1zM13 199h1v2h-1zM13 202h1v2h-1zM13 205h1v2h-1zM13 211h1v2h-1zM13 215h1v1h-1zM13 217h1v1h-1zM13 228h1v1h-1zM13 240h1v1h-1zM13 248h1v1h-1zM13 258h1v1h-1zM13 260h1v2h-1zM13 279h1v1h-1zM13 305h1v2h-1zM13 308h1v1h-1zM13 311h1v1h-1zM13 313h1v1h-1zM13 315h1v1h-1zM13 323h1v1h-1zM13 355h1v2h-1zM13 370h1v3h-1zM13 391h1v1h-1zM13 395h1v1h-1zM13 397h1v1h-1zM14 2h1v1h-1zM14 10h1v2h-1zM14 23h1v1h-1zM14 25h1v2h-1zM14 29h1v1h-1zM14 32h1v3h-1zM14 45h1v1h-1zM14 60h1v2h-1zM14 86h1v1h-1zM14 90h1v1h-1zM14 99h1v7h-1zM14 114h1v1h-1zM14 116h1v1h-1zM14 150h1v1h-1zM14 200h1v1h-1zM14 210h1v2h-1zM14 214h1v1h-1zM14 217h1v1h-1zM14 241h1v1h-1zM14 243h1v1h-1zM14 245h1v1h-1zM14 250h1v2h-1zM14 256h1v1h-1zM14 279h1v1h-1zM14 283h1v1h-1zM14 287h1v4h-1zM14 292h1v4h-1zM14 301h1v2h-1zM14 305h1v1h-1zM14 307h1v1h-1zM14 311h1v1h-1zM14 320h1v1h-1zM14 322h1v2h-1zM14 327h1v1h-1zM14 335h1v3h-1zM14 342h1v1h-1zM14 345h1v2h-1zM14 348h1v1h-1zM14 350h1v1h-1zM14 352h1v1h-1zM14 356h1v1h-1zM14 358h1v1h-1zM14 381h1v1h-1zM14 384h1v2h-1zM14 390h1v3h-1zM14 394h1v1h-1zM14 397h1v1h-1zM14 400h1v1h-1zM14 405h1v1h-1zM14 407h1v1h-1zM14 412h1v2h-1zM14 417h1v1h-1zM15 3h1v1h-1zM15 8h1v1h-1zM15 15h1v2h-1zM15 20h1v1h-1zM15 47h1v2h-1zM15 50h1v2h-1zM15 54h1v1h-1zM15 65h1v4h-1zM15 77h1v1h-1zM15 93h1v2h-1zM15 104h1v3h-1zM15 118h1v1h-1zM15 123h1v2h-1zM15 127h1v1h-1zM15 129h1v1h-1zM15 132h1v1h-1zM15 138h1v2h-1zM15 192h1v2h-1zM15 201h1v1h-1zM15 211h1v1h-1zM15 214h1v2h-1zM15 219h1v1h-1zM15 226h1v3h-1zM15 237h1v1h-1zM15 240h1v3h-1zM15 248h1v1h-1zM15 259h1v3h-1zM15 278h1v1h-1zM15 290h1v1h-1zM15 292h1v3h-1zM15 299h1v1h-1zM15 309h1v1h-1zM15 312h1v1h-1zM15 321h1v2h-1zM15 328h1v1h-1zM15 335h1v2h-1zM15 338h1v1h-1zM15 356h1v1h-1zM15 358h1v1h-1zM15 360h1v1h-1zM15 364h1v3h-1zM15 369h1v1h-1zM15 371h1v4h-1zM15 378h1v2h-1zM15 392h1v1h-1zM15 394h1v1h-1zM15 400h1v1h-1zM15 417h1v1h-1zM16 11h1v1h-1zM16 22h1v1h-1zM16 28h1v1h-1zM16 30h1v1h-1zM16 42h1v4h-1zM16 51h1v2h-1zM16 64h1v1h-1zM16 80h1v1h-1zM16 99h1v1h-1zM16 109h1v1h-1zM16 118h1v1h-1zM16 175h1v1h-1zM16 191h1v2h-1zM16 194h1v3h-1zM16 200h1v1h-1zM16 203h1v2h-1zM16 210h1v2h-1zM16 230h1v1h-1zM16 234h1v1h-1zM16 243h1v1h-1zM16 245h1v3h-1zM16 250h1v1h-1zM16 252h1v1h-1zM16 256h1v1h-1zM16 259h1v1h-1zM16 299h1v2h-1zM16 303h1v2h-1zM16 315h1v3h-1zM16 353h1v1h-1zM16 357h1v1h-1zM16 363h1v1h-1zM16 365h1v2h-1zM16 368h1v1h-1zM16 381h1v1h-1zM16 383h1v1h-1zM16 388h1v1h-1zM16 393h1v1h-1zM16 404h1v4h-1zM16 411h1v4h-1zM17 10h1v1h-1zM17 13h1v1h-1zM17 27h1v2h-1zM17 34h1v1h-1zM17 36h1v2h-1zM17 40h1v1h-1zM17 45h1v1h-1zM17 47h1v2h-1zM17 60h1v1h-1zM17 63h1v1h-1zM17 78h1v1h-1zM17 86h1v4h-1zM17 91h1v3h-1zM17 97h1v1h-1zM17 102h1v1h-1zM17 120h1v2h-1zM17 125h1v2h-1zM17 128h1v4h-1zM17 134h1v1h-1zM17 144h1v1h-1zM17 147h1v1h-1zM17 150h1v1h-1zM17 152h1v1h-1zM17 154h1v1h-1zM17 167h1v1h-1zM17 172h1v3h-1zM17 245h1v5h-1zM17 252h1v1h-1zM17 264h1v4h-1zM17 270h1v1h-1zM17 280h1v1h-1zM17 283h1v1h-1zM17 320h1v1h-1zM17 331h1v1h-1zM17 343h1v1h-1zM17 349h1v2h-1zM17 360h1v2h-1zM17 364h1v1h-1zM17 380h1v3h-1zM17 384h1v1h-1zM17 386h1v2h-1zM17 403h1v1h-1zM17 408h1v1h-1zM17 416h1v1h-1zM18 0h1v2h-1zM18 7h1v1h-1zM18 11h1v1h-1zM18 15h1v2h-1zM18 20h1v2h-1zM18 29h1v1h-1zM18 47h1v1h-1zM18 54h1v1h-1zM18 57h1v3h-1zM18 82h1v1h-1zM18 84h1v5h-1zM18 133h1v1h-1zM18 135h1v1h-1zM18 139h1v2h-1zM18 149h1v1h-1zM18 159h1v3h-1zM18 167h1v1h-1zM18 172h1v1h-1zM18 174h1v1h-1zM18 177h1v2h-1zM18 182h1v1h-1zM18 184h1v1h-1zM18 204h1v1h-1zM18 206h1v1h-1zM18 208h1v1h-1zM18 215h1v2h-1zM18 226h1v2h-1zM18 230h1v2h-1zM18 235h1v2h-1zM18 239h1v1h-1zM18 242h1v1h-1zM18 251h1v2h-1zM18 255h1v1h-1zM18 259h1v1h-1zM18 263h1v1h-1zM18 272h1v1h-1zM18 279h1v1h-1zM18 283h1v1h-1zM18 287h1v1h-1zM18 289h1v1h-1zM18 304h1v1h-1zM18 307h1v2h-1zM18 312h1v1h-1zM18 314h1v2h-1zM18 317h1v1h-1zM18 325h1v3h-1zM18 331h1v1h-1zM18 344h1v2h-1zM18 347h1v3h-1zM18 361h1v1h-1zM18 365h1v1h-1zM18 369h1v1h-1zM18 371h1v1h-1zM18 400h1v2h-1zM18 415h1v2h-1zM19 12h1v1h-1zM19 17h1v1h-1zM19 23h1v1h-1zM19 35h1v1h-1zM19 37h1v2h-1zM19 45h1v1h-1zM19 47h1v1h-1zM19 61h1v1h-1zM19 64h1v1h-1zM19 77h1v1h-1zM19 81h1v1h-1zM19 128h1v1h-1zM19 132h1v3h-1zM19 145h1v1h-1zM19 155h1v3h-1zM19 174h1v1h-1zM19 176h1v1h-1zM19 183h1v1h-1zM19 185h1v2h-1zM19 204h1v1h-1zM19 206h1v2h-1zM19 215h1v1h-1zM19 222h1v3h-1zM19 236h1v1h-1zM19 239h1v1h-1zM19 241h1v1h-1zM19 244h1v1h-1zM19 257h1v2h-1zM19 260h1v1h-1zM19 267h1v1h-1zM19 271h1v1h-1zM19 274h1v1h-1zM19 279h1v2h-1zM19 295h1v1h-1zM19 312h1v1h-1zM19 317h1v3h-1zM19 328h1v2h-1zM19 335h1v1h-1zM19 354h1v2h-1zM19 359h1v5h-1zM19 367h1v1h-1zM19 371h1v1h-1zM19 382h1v2h-1zM19 390h1v2h-1zM19 395h1v1h-1zM19 398h1v1h-1zM19 408h1v1h-1zM19 417h1v1h-1zM20 6h1v1h-1zM20 13h1v1h-1zM20 26h1v1h-1zM20 40h1v2h-1zM20 51h1v1h-1zM20 58h1v1h-1zM20 62h1v2h-1zM20 65h1v2h-1zM20 81h1v1h-1zM20 85h1v3h-1zM20 93h1v1h-1zM20 96h1v1h-1zM20 100h1v1h-1zM20 103h1v2h-1zM20 107h1v1h-1zM20 118h1v3h-1zM20 131h1v1h-1zM20 137h1v2h-1zM20 146h1v1h-1zM20 148h1v1h-1zM20 155h1v1h-1zM20 162h1v1h-1zM20 168h1v1h-1zM20 170h1v2h-1zM20 173h1v1h-1zM20 176h1v2h-1zM20 181h1v1h-1zM20 183h1v1h-1zM20 188h1v1h-1zM20 202h1v2h-1zM20 208h1v2h-1zM20 213h1v1h-1zM20 224h1v3h-1zM20 229h1v1h-1zM20 235h1v1h-1zM20 238h1v1h-1zM20 243h1v1h-1zM20 256h1v2h-1zM20 288h1v1h-1zM20 295h1v1h-1zM20 297h1v2h-1zM20 334h1v3h-1zM20 351h1v1h-1zM20 353h1v2h-1zM20 357h1v2h-1zM20 392h1v1h-1zM20 397h1v1h-1zM20 404h1v1h-1zM20 409h1v4h-1zM20 416h1v1h-1zM20 418h1v2h-1zM21 3h1v1h-1zM21 10h1v2h-1zM21 37h1v2h-1zM21 50h1v2h-1zM21 60h1v5h-1zM21 66h1v1h-1zM21 70h1v2h-1zM21 73h1v2h-1zM21 78h1v2h-1zM21 81h1v1h-1zM21 85h1v1h-1zM21 92h1v3h-1zM21 105h1v1h-1zM21 112h1v6h-1zM21 130h1v1h-1zM21 133h1v1h-1zM21 139h1v1h-1zM21 144h1v1h-1zM21 146h1v2h-1zM21 149h1v1h-1zM21 153h1v1h-1zM21 162h1v7h-1zM21 179h1v2h-1zM21 183h1v2h-1zM21 205h1v3h-1zM21 211h1v1h-1zM21 225h1v1h-1zM21 230h1v1h-1zM21 236h1v4h-1zM21 245h1v1h-1zM21 247h1v1h-1zM21 249h1v1h-1zM21 262h1v1h-1zM21 266h1v3h-1zM21 271h1v1h-1zM21 277h1v1h-1zM21 279h1v4h-1zM21 284h1v1h-1zM21 303h1v1h-1zM21 306h1v4h-1zM21 315h1v1h-1zM21 324h1v2h-1zM21 327h1v1h-1zM21 330h1v1h-1zM21 336h1v1h-1zM21 339h1v1h-1zM21 344h1v1h-1zM21 357h1v1h-1zM21 371h1v3h-1zM21 380h1v1h-1zM21 384h1v1h-1zM21 388h1v1h-1zM21 398h1v1h-1zM21 400h1v1h-1zM21 407h1v2h-1zM21 413h1v4h-1z"/><path fill="#f6f4fa" d="M0 20h1v1h-1zM0 32h1v1h-1zM0 35h1v1h-1zM0 37h1v1h-1zM0 39h1v1h-1zM0 49h1v1h-1zM0 62h1v2h-1zM0 84h1v1h-1zM0 101h1v2h-1zM0 104h1v1h-1zM0 142h1v1h-1zM0 145h1v1h-1zM0 148h1v2h-1zM0 164h1v1h-1zM0 167h1v1h-1zM0 169h1v1h-1zM0 171h1v1h-1zM0 185h1v1h-1zM0 190h1v1h-1zM0 192h1v1h-1zM0 209h1v1h-1zM0 224h1v1h-1zM0 226h1v1h-1zM0 253h1v4h-1zM0 264h1v2h-1zM0 272h1v2h-1zM0 286h1v5h-1zM0 304h1v1h-1zM0 323h1v1h-1zM0 325h1v1h-1zM0 329h1v3h-1zM0 335h1v3h-1zM0 348h1v1h-1zM0 350h1v1h-1zM0 352h1v2h-1zM0 364h1v1h-1zM0 382h1v1h-1zM0 390h1v1h-1zM0 405h1v1h-1zM0 413h1v1h-1zM0 416h1v1h-1zM0 418h1v1h-1zM1 4h1v1h-1zM1 8h1v1h-1zM1 13h1v2h-1zM1 23h1v1h-1zM1 39h1v1h-1zM1 42h1v2h-1zM1 45h1v1h-1zM1 51h1v1h-1zM1 71h1v1h-1zM1 83h1v1h-1zM1 86h1v1h-1zM1 124h1v1h-1zM1 148h1v2h-1zM1 156h1v2h-1zM1 165h1v1h-1zM1 169h1v1h-1zM1 174h1v3h-1zM1 184h1v1h-1zM1 187h1v2h-1zM1 193h1v1h-1zM1 201h1v1h-1zM1 206h1v1h-1zM1 211h1v3h-1zM1 222h1v4h-1zM1 228h1v1h-1zM1 230h1v1h-1zM1 234h1v1h-1zM1 250h1v2h-1zM1 256h1v1h-1zM1 261h1v1h-1zM1 263h1v2h-1zM1 266h1v2h-1zM1 283h1v1h-1zM1 289h1v1h-1zM1 301h1v1h-1zM1 306h1v1h-1zM1 308h1v1h-1zM1 310h1v1h-1zM1 314h1v1h-1zM1 333h1v3h-1zM1 338h1v1h-1zM1 344h1v2h-1zM1 349h1v1h-1zM1 387h1v1h-1zM1 389h1v1h-1zM1 401h1v1h-1zM1 403h1v2h-1zM2 30h1v1h-1zM2 37h1v2h-1zM2 58h1v1h-1zM2 80h1v3h-1zM2 85h1v1h-1zM2 94h1v1h-1zM2 96h1v2h-1zM2 113h1v4h-1zM2 130h1v1h-1zM2 138h1v1h-1zM2 165h1v1h-1zM2 173h1v1h-1zM2 177h1v3h-1zM2 201h1v2h-1zM2 241h1v1h-1zM2 250h1v1h-1zM2 257h1v1h-1zM2 342h1v1h-1zM2 344h1v1h-1zM2 381h1v1h-1zM2 383h1v1h-1zM2 391h1v1h-1zM2 394h1v2h-1zM2 401h1v1h-1zM2 408h1v1h-1zM3 6h1v1h-1zM3 15h1v3h-1zM3 22h1v2h-1zM3 27h1v1h-1zM3 35h1v1h-1zM3 42h1v2h-1zM3 48h1v1h-1zM3 57h1v1h-1zM3 62h1v1h-1zM3 75h1v2h-1zM3 78h1v1h-1zM3 86h1v1h-1zM3 90h1v1h-1zM3 105h1v1h-1zM3 109h1v1h-1zM3 116h1v1h-1zM3 118h1v1h-1zM3 167h1v2h-1zM3 176h1v1h-1zM3 183h1v1h-1zM3 197h1v1h-1zM3 199h1v1h-1zM3 203h1v1h-1zM3 209h1v1h-1zM3 212h1v2h-1zM3 219h1v1h-1zM3 245h1v1h-1zM3 254h1v2h-1zM3 257h1v3h-1zM3 270h1v1h-1zM3 290h1v1h-1zM3 297h1v1h-1zM3 299h1v1h-1zM3 312h1v3h-1zM3 320h1v1h-1zM3 322h1v2h-1zM3 326h1v3h-1zM3 341h1v1h-1zM3 346h1v1h-1zM3 361h1v1h-1zM3 365h1v1h-1zM3 381h1v1h-1zM3 383h1v2h-1zM3 396h1v1h-1zM3 398h1v2h-1zM4 2h1v1h-1zM4 4h1v1h-1zM4 22h1v2h-1zM4 29h1v2h-1zM4 35h1v1h-1zM4 52h1v3h-1zM4 60h1v1h-1zM4 62h1v2h-1zM4 78h1v1h-1zM4 89h1v1h-1zM4 93h1v1h-1zM4 103h1v2h-1zM4 123h1v2h-1zM4 131h1v3h-1zM4 141h1v1h-1zM4 148h1v2h-1zM4 157h1v1h-1zM4 159h1v1h-1zM4 190h1v1h-1zM4 210h1v1h-1zM4 212h1v1h-1zM4 223h1v1h-1zM4 234h1v1h-1zM4 237h1v1h-1zM4 241h1v1h-1zM4 244h1v1h-1zM4 247h1v1h-1zM4 275h1v1h-1zM4 277h1v1h-1zM4 289h1v1h-1zM4 295h1v2h-1zM4 304h1v2h-1zM4 311h1v1h-1zM4 316h1v1h-1zM4 319h1v2h-1zM4 329h1v1h-1zM4 337h1v1h-1zM4 341h1v1h-1zM4 349h1v1h-1zM4 358h1v1h-1zM4 364h1v1h-1zM4 375h1v1h-1zM4 389h1v3h-1zM4 396h1v1h-1zM4 400h1v1h-1zM4 403h1v1h-1zM4 410h1v1h-1zM4 416h1v2h-1zM5 11h1v1h-1zM5 13h1v1h-1zM5 21h1v1h-1zM5 26h1v1h-1zM5 31h1v2h-1zM5 38h1v1h-1zM5 45h1v2h-1zM5 48h1v1h-1zM5 50h1v1h-1zM5 53h1v1h-1zM5 65h1v1h-1zM5 68h1v5h-1zM5 86h1v2h-1zM5 89h1v1h-1zM5 95h1v1h-1zM5 99h1v1h-1zM5 126h1v3h-1zM5 137h1v1h-1zM5 139h1v1h-1zM5 144h1v2h-1zM5 147h1v1h-1zM5 165h1v1h-1zM5 169h1v3h-1zM5 174h1v1h-1zM5 178h1v1h-1zM5 182h1v1h-1zM5 185h1v1h-1zM5 195h1v1h-1zM5 197h1v1h-1zM5 199h1v1h-1zM5 215h1v3h-1zM5 222h1v1h-1zM5 228h1v2h-1zM5 235h1v1h-1zM5 241h1v3h-1zM5 262h1v1h-1zM5 268h1v1h-1zM5 276h1v1h-1zM5 279h1v1h-1zM5 308h1v1h-1zM5 310h1v1h-1zM5 312h1v2h-1zM5 317h1v1h-1zM5 331h1v1h-1zM5 340h1v1h-1zM5 342h1v1h-1zM5 344h1v2h-1zM5 370h1v1h-1zM5 379h1v1h-1zM5 386h1v1h-1zM5 392h1v2h-1zM5 405h1v1h-1zM5 409h1v1h-1zM6 8h1v1h-1zM6 14h1v1h-1zM6 16h1v1h-1zM6 20h1v1h-1zM6 23h1v3h-1zM6 42h1v1h-1zM6 44h1v1h-1zM6 52h1v1h-1zM6 73h1v3h-1zM6 77h1v1h-1zM6 83h1v1h-1zM6 109h1v1h-1zM6 112h1v1h-1zM6 190h1v1h-1zM6 192h1v1h-1zM6 206h1v1h-1zM6 209h1v1h-1zM6 219h1v1h-1zM6 224h1v1h-1zM6 256h1v1h-1zM6 277h1v2h-1zM6 282h1v1h-1zM6 285h1v1h-1zM6 287h1v1h-1zM6 305h1v1h-1zM6 367h1v1h-1zM6 369h1v1h-1zM6 375h1v2h-1zM6 389h1v1h-1zM6 392h1v1h-1zM6 396h1v1h-1zM6 398h1v1h-1zM7 17h1v6h-1zM7 24h1v1h-1zM7 60h1v1h-1zM7 65h1v1h-1zM7 99h1v1h-1zM7 101h1v1h-1zM7 106h1v2h-1zM7 111h1v1h-1zM7 118h1v3h-1zM7 131h1v1h-1zM7 134h1v1h-1zM7 140h1v1h-1zM7 142h1v3h-1zM7 150h1v2h-1zM7 177h1v4h-1zM7 188h1v1h-1zM7 190h1v1h-1zM7 207h1v1h-1zM7 209h1v1h-1zM7 218h1v2h-1zM7 226h1v1h-1zM7 238h1v1h-1zM7 242h1v1h-1zM7 244h1v1h-1zM7 263h1v1h-1zM7 277h1v3h-1zM7 290h1v1h-1zM7 294h1v1h-1zM7 328h1v1h-1zM7 330h1v2h-1zM7 384h1v1h-1zM7 388h1v1h-1zM7 390h1v1h-1zM7 419h1v1h-1zM8 12h1v2h-1zM8 43h1v2h-1zM8 69h1v1h-1zM8 73h1v2h-1zM8 82h1v2h-1zM8 100h1v1h-1zM8 110h1v3h-1zM8 166h1v1h-1zM8 170h1v1h-1zM8 175h1v1h-1zM8 184h1v1h-1zM8 186h1v1h-1zM8 220h1v1h-1zM8 224h1v2h-1zM8 229h1v1h-1zM8 233h1v1h-1zM8 240h1v1h-1zM8 247h1v3h-1zM8 272h1v2h-1zM8 293h1v1h-1zM8 303h1v2h-1zM8 311h1v1h-1zM8 313h1v1h-1zM8 322h1v1h-1zM8 330h1v1h-1zM8 370h1v1h-1zM8 379h1v1h-1zM8 381h1v4h-1zM8 406h1v1h-1zM8 409h1v1h-1zM8 414h1v1h-1zM9 0h1v1h-1zM9 3h1v1h-1zM9 6h1v1h-1zM9 21h1v2h-1zM9 27h1v1h-1zM9 36h1v1h-1zM9 56h1v1h-1zM9 61h1v2h-1zM9 95h1v2h-1zM9 99h1v3h-1zM9 104h1v1h-1zM9 111h1v1h-1zM9 123h1v1h-1zM9 148h1v1h-1zM9 153h1v1h-1zM9 172h1v2h-1zM9 181h1v1h-1zM9 185h1v1h-1zM9 193h1v1h-1zM9 205h1v1h-1zM9 209h1v2h-1zM9 216h1v1h-1zM9 221h1v3h-1zM9 239h1v1h-1zM9 261h1v1h-1zM9 266h1v1h-1zM9 269h1v1h-1zM9 272h1v1h-1zM9 280h1v2h-1zM9 283h1v1h-1zM9 315h1v1h-1zM9 318h1v1h-1zM9 326h1v1h-1zM9 331h1v1h-1zM9 359h1v1h-1zM9 395h1v1h-1zM9 400h1v1h-1zM9 402h1v1h-1zM9 411h1v1h-1zM9 416h1v1h-1zM10 2h1v2h-1zM10 17h1v1h-1zM10 19h1v1h-1zM10 26h1v3h-1zM10 34h1v1h-1zM10 45h1v1h-1zM10 49h1v1h-1zM10 51h1v1h-1zM10 53h1v1h-1zM10 57h1v2h-1zM10 60h1v1h-1zM10 94h1v1h-1zM10 98h1v1h-1zM10 121h1v1h-1zM10 126h1v2h-1zM10 141h1v1h-1zM10 151h1v1h-1zM10 154h1v1h-1zM10 162h1v1h-1zM10 168h1v1h-1zM10 171h1v1h-1zM10 200h1v1h-1zM10 205h1v1h-1zM10 212h1v1h-1zM10 215h1v1h-1zM10 230h1v1h-1zM10 232h1v1h-1zM10 238h1v2h-1zM10 242h1v1h-1zM10 268h1v2h-1zM10 289h1v3h-1zM10 293h1v1h-1zM10 311h1v1h-1zM10 327h1v1h-1zM10 329h1v1h-1zM10 336h1v1h-1zM10 339h1v1h-1zM10 348h1v1h-1zM10 350h1v1h-1zM10 361h1v1h-1zM10 363h1v1h-1zM10 366h1v3h-1zM10 410h1v1h-1zM10 412h1v1h-1zM10 414h1v1h-1zM10 419h1v1h-1zM11 3h1v1h-1zM11 47h1v1h-1zM11 56h1v1h-1zM11 84h1v1h-1zM11 98h1v2h-1zM11 110h1v2h-1zM11 116h1v1h-1zM11 124h1v1h-1zM11 128h1v1h-1zM11 142h1v1h-1zM11 147h1v1h-1zM11 156h1v1h-1zM11 177h1v1h-1zM11 195h1v2h-1zM11 206h1v1h-1zM11 208h1v2h-1zM11 218h1v1h-1zM11 221h1v2h-1zM11 237h1v1h-1zM11 241h1v1h-1zM11 243h1v2h-1zM11 261h1v1h-1zM11 295h1v2h-1zM11 298h1v2h-1zM11 303h1v2h-1zM11 312h1v4h-1zM11 323h1v1h-1zM11 348h1v1h-1zM11 367h1v1h-1zM11 372h1v1h-1zM11 408h1v2h-1zM11 411h1v1h-1zM11 416h1v2h-1zM12 8h1v1h-1zM12 49h1v1h-1zM12 88h1v3h-1zM12 92h1v3h-1zM12 102h1v1h-1zM12 108h1v1h-1zM12 135h1v1h-1zM12 142h1v1h-1zM12 162h1v2h-1zM12 173h1v2h-1zM12 188h1v1h-1zM12 195h1v2h-1zM12 199h1v1h-1zM12 203h1v3h-1zM12 208h1v1h-1zM12 213h1v1h-1zM12 244h1v2h-1zM12 262h1v1h-1zM12 265h1v2h-1zM12 268h1v1h-1zM12 277h1v1h-1zM12 296h1v1h-1zM12 299h1v1h-1zM12 301h1v1h-1zM12 306h1v1h-1zM12 308h1v3h-1zM12 314h1v1h-1zM12 316h1v1h-1zM12 320h1v2h-1zM12 326h1v2h-1zM12 355h1v1h-1zM12 403h1v1h-1zM12 412h1v1h-1zM13 32h1v2h-1zM13 51h1v1h-1zM13 56h1v1h-1zM13 75h1v1h-1zM13 79h1v1h-1zM13 82h1v1h-1zM13 86h1v2h-1zM13 98h1v1h-1zM13 106h1v2h-1zM13 163h1v1h-1zM13 168h1v2h-1zM13 201h1v1h-1zM13 204h1v1h-1zM13 207h1v1h-1zM13 209h1v2h-1zM13 213h1v1h-1zM13 220h1v1h-1zM13 223h1v2h-1zM13 264h1v1h-1zM13 280h1v1h-1zM13 310h1v1h-1zM13 314h1v1h-1zM13 406h1v2h-1zM14 0h1v2h-1zM14 5h1v3h-1zM14 24h1v1h-1zM14 27h1v1h-1zM14 54h1v1h-1zM14 63h1v2h-1zM14 70h1v2h-1zM14 73h1v1h-1zM14 75h1v5h-1zM14 89h1v1h-1zM14 126h1v2h-1zM14 151h1v2h-1zM14 158h1v2h-1zM14 184h1v2h-1zM14 187h1v1h-1zM14 189h1v1h-1zM14 201h1v1h-1zM14 212h1v1h-1zM14 221h1v1h-1zM14 235h1v1h-1zM14 240h1v1h-1zM14 242h1v1h-1zM14 244h1v1h-1zM14 246h1v4h-1zM14 266h1v2h-1zM14 273h1v1h-1zM14 282h1v1h-1zM14 291h1v1h-1zM14 297h1v1h-1zM14 304h1v1h-1zM14 309h1v2h-1zM14 312h1v2h-1zM14 321h1v1h-1zM14 334h1v1h-1zM14 338h1v1h-1zM14 343h1v2h-1zM14 354h1v1h-1zM14 357h1v1h-1zM14 360h1v1h-1zM14 365h1v2h-1zM14 368h1v2h-1zM14 380h1v1h-1zM14 382h1v1h-1zM14 388h1v1h-1zM14 398h1v2h-1zM14 416h1v1h-1zM15 0h1v1h-1zM15 2h1v1h-1zM15 9h1v1h-1zM15 12h1v3h-1zM15 62h1v2h-1zM15 75h1v2h-1zM15 107h1v3h-1zM15 131h1v1h-1zM15 134h1v1h-1zM15 146h1v1h-1zM15 168h1v1h-1zM15 170h1v1h-1zM15 177h1v1h-1zM15 194h1v3h-1zM15 200h1v1h-1zM15 210h1v1h-1zM15 213h1v1h-1zM15 216h1v1h-1zM15 224h1v2h-1zM15 232h1v1h-1zM15 234h1v1h-1zM15 236h1v1h-1zM15 249h1v1h-1zM15 282h1v1h-1zM15 287h1v1h-1zM15 295h1v1h-1zM15 302h1v4h-1zM15 307h1v2h-1zM15 311h1v1h-1zM15 339h1v1h-1zM15 342h1v1h-1zM15 362h1v2h-1zM15 375h1v1h-1zM15 377h1v1h-1zM15 383h1v1h-1zM15 388h1v1h-1zM16 15h1v1h-1zM16 31h1v4h-1zM16 57h1v1h-1zM16 59h1v1h-1zM16 67h1v1h-1zM16 69h1v1h-1zM16 86h1v1h-1zM16 95h1v2h-1zM16 104h1v2h-1zM16 107h1v2h-1zM16 124h1v1h-1zM16 128h1v2h-1zM16 135h1v2h-1zM16 186h1v1h-1zM16 188h1v2h-1zM16 193h1v1h-1zM16 201h1v1h-1zM16 207h1v1h-1zM16 212h1v2h-1zM16 223h1v1h-1zM16 227h1v3h-1zM16 236h1v1h-1zM16 253h1v3h-1zM16 294h1v1h-1zM16 298h1v1h-1zM16 306h1v1h-1zM16 312h1v2h-1zM16 320h1v1h-1zM16 335h1v3h-1zM16 360h1v1h-1zM16 362h1v1h-1zM16 369h1v1h-1zM16 371h1v1h-1zM16 373h1v1h-1zM16 378h1v1h-1zM16 380h1v1h-1zM16 386h1v1h-1zM16 408h1v3h-1zM17 12h1v1h-1zM17 29h1v1h-1zM17 35h1v1h-1zM17 41h1v2h-1zM17 44h1v1h-1zM17 54h1v1h-1zM17 71h1v1h-1zM17 73h1v2h-1zM17 79h1v1h-1zM17 83h1v1h-1zM17 90h1v1h-1zM17 98h1v1h-1zM17 100h1v2h-1zM17 105h1v1h-1zM17 114h1v1h-1zM17 132h1v2h-1zM17 142h1v2h-1zM17 146h1v1h-1zM17 149h1v1h-1zM17 151h1v1h-1zM17 156h1v1h-1zM17 158h1v1h-1zM17 164h1v2h-1zM17 169h1v1h-1zM17 171h1v1h-1zM17 179h1v1h-1zM17 189h1v1h-1zM17 196h1v1h-1zM17 227h1v1h-1zM17 251h1v1h-1zM17 253h1v2h-1zM17 256h1v5h-1zM17 275h1v2h-1zM17 288h1v1h-1zM17 317h1v3h-1zM17 332h1v1h-1zM17 338h1v2h-1zM17 342h1v1h-1zM17 353h1v1h-1zM17 356h1v4h-1zM17 362h1v1h-1zM17 365h1v1h-1zM17 385h1v1h-1zM17 390h1v2h-1zM17 409h1v1h-1zM17 412h1v1h-1zM17 414h1v1h-1zM17 419h1v1h-1zM18 3h1v2h-1zM18 8h1v1h-1zM18 12h1v1h-1zM18 36h1v1h-1zM18 40h1v3h-1zM18 44h1v1h-1zM18 80h1v1h-1zM18 94h1v1h-1zM18 97h1v1h-1zM18 102h1v2h-1zM18 105h1v1h-1zM18 115h1v1h-1zM18 119h1v1h-1zM18 145h1v2h-1zM18 150h1v1h-1zM18 181h1v1h-1zM18 197h1v6h-1zM18 229h1v1h-1zM18 237h1v1h-1zM18 240h1v1h-1zM18 244h1v1h-1zM18 247h1v2h-1zM18 256h1v1h-1zM18 300h1v3h-1zM18 321h1v1h-1zM18 328h1v2h-1zM18 342h1v2h-1zM18 350h1v1h-1zM18 357h1v1h-1zM18 359h1v1h-1zM18 363h1v2h-1zM18 370h1v1h-1zM18 375h1v1h-1zM18 386h1v2h-1zM18 392h1v1h-1zM18 410h1v1h-1zM18 417h1v1h-1zM19 13h1v1h-1zM19 15h1v1h-1zM19 19h1v1h-1zM19 22h1v1h-1zM19 24h1v1h-1zM19 27h1v1h-1zM19 30h1v2h-1zM19 39h1v1h-1zM19 49h1v1h-1zM19 54h1v2h-1zM19 57h1v1h-1zM19 60h1v1h-1zM19 66h1v1h-1zM19 73h1v1h-1zM19 75h1v1h-1zM19 80h1v1h-1zM19 117h1v1h-1zM19 127h1v1h-1zM19 129h1v2h-1zM19 135h1v1h-1zM19 146h1v1h-1zM19 148h1v2h-1zM19 164h1v1h-1zM19 167h1v2h-1zM19 171h1v3h-1zM19 175h1v1h-1zM19 216h1v1h-1zM19 235h1v1h-1zM19 237h1v2h-1zM19 252h1v3h-1zM19 256h1v1h-1zM19 259h1v1h-1zM19 261h1v1h-1zM19 277h1v2h-1zM19 281h1v2h-1zM19 285h1v1h-1zM19 287h1v1h-1zM19 297h1v3h-1zM19 316h1v1h-1zM19 338h1v2h-1zM19 342h1v2h-1zM19 348h1v1h-1zM19 350h1v1h-1zM19 353h1v1h-1zM19 357h1v1h-1zM19 370h1v1h-1zM19 372h1v1h-1zM19 379h1v3h-1zM19 384h1v1h-1zM19 399h1v1h-1zM19 419h1v1h-1zM20 3h1v1h-1zM20 8h1v4h-1zM20 14h1v1h-1zM20 27h1v1h-1zM20 37h1v2h-1zM20 42h1v1h-1zM20 50h1v1h-1zM20 53h1v1h-1zM20 55h1v1h-1zM20 57h1v1h-1zM20 80h1v1h-1zM20 88h1v2h-1zM20 94h1v1h-1zM20 101h1v1h-1zM20 108h1v4h-1zM20 115h1v3h-1zM20 132h1v1h-1zM20 135h1v2h-1zM20 142h1v1h-1zM20 144h1v1h-1zM20 156h1v1h-1zM20 175h1v1h-1zM20 182h1v1h-1zM20 196h1v1h-1zM20 204h1v1h-1zM20 228h1v1h-1zM20 237h1v1h-1zM20 258h1v1h-1zM20 283h1v1h-1zM20 287h1v1h-1zM20 291h1v3h-1zM20 299h1v1h-1zM20 301h1v2h-1zM20 330h1v1h-1zM20 333h1v1h-1zM20 338h1v1h-1zM20 344h1v3h-1zM20 349h1v1h-1zM20 352h1v1h-1zM20 360h1v2h-1zM20 368h1v2h-1zM20 374h1v1h-1zM20 390h1v2h-1zM20 405h1v2h-1zM20 408h1v1h-1zM20 413h1v1h-1zM21 0h1v1h-1zM21 5h1v1h-1zM21 13h1v1h-1zM21 35h1v1h-1zM21 52h1v1h-1zM21 55h1v1h-1zM21 67h1v1h-1zM21 72h1v1h-1zM21 77h1v1h-1zM21 83h1v2h-1zM21 108h1v1h-1zM21 132h1v1h-1zM21 152h1v1h-1zM21 161h1v1h-1zM21 169h1v1h-1zM21 171h1v1h-1zM21 181h1v1h-1zM21 191h1v1h-1zM21 226h1v1h-1zM21 232h1v1h-1zM21 246h1v1h-1zM21 261h1v1h-1zM21 263h1v1h-1zM21 276h1v1h-1zM21 291h1v1h-1zM21 295h1v1h-1zM21 300h1v3h-1zM21 305h1v1h-1zM21 326h1v1h-1zM21 333h1v2h-1zM21 347h1v1h-1zM21 356h1v1h-1zM21 364h1v1h-1zM21 370h1v1h-1zM21 375h1v2h-1zM21 381h1v1h-1zM21 386h1v2h-1zM21 391h1v1h-1zM21 401h1v3h-1zM21 406h1v1h-1zM21 410h1v1h-1z"/><path fill="#fad9e0" d="M0 21h1v1h-1zM0 28h1v2h-1zM0 36h1v1h-1zM0 60h1v1h-1zM0 71h1v1h-1zM0 91h1v1h-1zM0 110h1v1h-1zM0 170h1v1h-1zM0 172h1v1h-1zM0 191h1v1h-1zM0 207h1v1h-1zM0 238h1v1h-1zM0 262h1v2h-1zM0 266h1v1h-1zM0 269h1v1h-1zM0 274h1v1h-1zM0 295h1v1h-1zM0 298h1v1h-1zM0 324h1v1h-1zM0 349h1v1h-1zM0 383h1v2h-1zM0 391h1v1h-1zM0 395h1v1h-1zM0 399h1v1h-1zM0 409h1v2h-1zM0 415h1v1h-1zM0 417h1v1h-1zM1 0h1v1h-1zM1 5h1v2h-1zM1 12h1v1h-1zM1 52h1v1h-1zM1 54h1v1h-1zM1 56h1v1h-1zM1 58h1v1h-1zM1 79h1v1h-1zM1 87h1v1h-1zM1 155h1v1h-1zM1 189h1v2h-1zM1 194h1v1h-1zM1 208h1v1h-1zM1 226h1v1h-1zM1 229h1v1h-1zM1 253h1v1h-1zM1 282h1v1h-1zM1 291h1v1h-1zM1 294h1v1h-1zM1 319h1v1h-1zM1 340h1v3h-1zM1 353h1v1h-1zM1 360h1v1h-1zM1 366h1v2h-1zM1 385h1v2h-1zM2 61h1v1h-1zM2 67h1v1h-1zM2 86h1v1h-1zM2 101h1v2h-1zM2 139h1v1h-1zM2 222h1v2h-1zM2 251h1v1h-1zM2 255h1v1h-1zM2 258h1v1h-1zM2 336h1v1h-1zM2 338h1v1h-1zM2 341h1v1h-1zM2 384h1v1h-1zM2 388h1v1h-1zM2 390h1v1h-1zM2 409h1v1h-1zM3 4h1v2h-1zM3 9h1v1h-1zM3 21h1v1h-1zM3 30h1v1h-1zM3 55h1v2h-1zM3 60h1v2h-1zM3 63h1v2h-1zM3 77h1v1h-1zM3 87h1v2h-1zM3 92h1v1h-1zM3 106h1v1h-1zM3 117h1v1h-1zM3 164h1v1h-1zM3 190h1v1h-1zM3 196h1v1h-1zM3 198h1v1h-1zM3 204h1v1h-1zM3 294h1v1h-1zM3 298h1v1h-1zM3 300h1v1h-1zM3 303h1v1h-1zM3 305h1v1h-1zM3 324h1v1h-1zM3 337h1v2h-1zM3 345h1v1h-1zM3 360h1v1h-1zM3 389h1v1h-1zM3 395h1v1h-1zM4 3h1v1h-1zM4 13h1v1h-1zM4 40h1v1h-1zM4 47h1v3h-1zM4 55h1v1h-1zM4 57h1v3h-1zM4 61h1v1h-1zM4 64h1v1h-1zM4 107h1v1h-1zM4 114h1v1h-1zM4 137h1v1h-1zM4 145h1v1h-1zM4 165h1v1h-1zM4 211h1v1h-1zM4 235h1v2h-1zM4 239h1v1h-1zM4 263h1v1h-1zM4 276h1v1h-1zM4 278h1v1h-1zM4 285h1v2h-1zM4 313h1v1h-1zM4 323h1v2h-1zM4 352h1v5h-1zM4 363h1v1h-1zM4 376h1v3h-1zM4 388h1v1h-1zM4 401h1v1h-1zM4 415h1v1h-1zM5 12h1v1h-1zM5 14h1v1h-1zM5 22h1v1h-1zM5 27h1v2h-1zM5 30h1v1h-1zM5 47h1v1h-1zM5 61h1v1h-1zM5 85h1v1h-1zM5 105h1v1h-1zM5 129h1v1h-1zM5 135h1v1h-1zM5 167h1v2h-1zM5 172h1v2h-1zM5 176h1v1h-1zM5 179h1v1h-1zM5 191h1v1h-1zM5 198h1v1h-1zM5 213h1v1h-1zM5 218h1v1h-1zM5 223h1v2h-1zM5 240h1v1h-1zM5 267h1v1h-1zM5 270h1v1h-1zM5 273h1v1h-1zM5 277h1v1h-1zM5 311h1v1h-1zM5 362h1v2h-1zM5 391h1v1h-1zM5 398h1v1h-1zM5 406h1v1h-1zM6 5h1v1h-1zM6 7h1v1h-1zM6 12h1v1h-1zM6 17h1v1h-1zM6 30h1v1h-1zM6 40h1v2h-1zM6 71h1v1h-1zM6 84h1v1h-1zM6 111h1v1h-1zM6 113h1v2h-1zM6 188h1v2h-1zM6 191h1v1h-1zM6 218h1v1h-1zM6 260h1v2h-1zM6 263h1v1h-1zM6 276h1v1h-1zM6 301h1v1h-1zM6 365h1v1h-1zM6 368h1v1h-1zM6 390h1v1h-1zM6 393h1v1h-1zM6 395h1v1h-1zM7 23h1v1h-1zM7 39h1v1h-1zM7 61h1v2h-1zM7 64h1v1h-1zM7 68h1v2h-1zM7 74h1v1h-1zM7 100h1v1h-1zM7 102h1v3h-1zM7 112h1v1h-1zM7 121h1v2h-1zM7 124h1v1h-1zM7 129h1v2h-1zM7 175h1v1h-1zM7 214h1v1h-1zM7 243h1v1h-1zM7 262h1v1h-1zM7 265h1v1h-1zM7 329h1v1h-1zM7 340h1v1h-1zM7 372h1v1h-1zM7 377h1v3h-1zM8 14h1v1h-1zM8 53h1v1h-1zM8 70h1v2h-1zM8 84h1v1h-1zM8 101h1v1h-1zM8 113h1v1h-1zM8 146h1v1h-1zM8 148h1v1h-1zM8 173h1v2h-1zM8 221h1v3h-1zM8 226h1v1h-1zM8 228h1v1h-1zM8 246h1v1h-1zM8 274h1v1h-1zM8 287h1v1h-1zM8 294h1v1h-1zM8 300h1v1h-1zM8 305h1v2h-1zM8 309h1v1h-1zM8 312h1v1h-1zM8 314h1v1h-1zM8 316h1v1h-1zM8 319h1v2h-1zM8 323h1v2h-1zM8 332h1v1h-1zM8 337h1v1h-1zM8 347h1v1h-1zM8 349h1v1h-1zM8 362h1v3h-1zM8 372h1v1h-1zM8 378h1v1h-1zM8 405h1v1h-1zM8 408h1v1h-1zM9 2h1v1h-1zM9 7h1v2h-1zM9 26h1v1h-1zM9 48h1v1h-1zM9 58h1v1h-1zM9 60h1v1h-1zM9 103h1v1h-1zM9 105h1v1h-1zM9 110h1v1h-1zM9 124h1v1h-1zM9 136h1v1h-1zM9 138h1v3h-1zM9 143h1v3h-1zM9 147h1v1h-1zM9 180h1v1h-1zM9 187h1v1h-1zM9 189h1v1h-1zM9 197h1v1h-1zM9 206h1v1h-1zM9 224h1v1h-1zM9 255h1v1h-1zM9 257h1v1h-1zM9 259h1v1h-1zM9 267h1v2h-1zM9 282h1v1h-1zM9 284h1v1h-1zM9 291h1v1h-1zM9 305h1v1h-1zM9 308h1v1h-1zM9 316h1v2h-1zM9 319h1v1h-1zM9 355h1v1h-1zM9 358h1v1h-1zM9 370h1v1h-1zM9 403h1v2h-1zM9 415h1v1h-1zM10 0h1v2h-1zM10 35h1v3h-1zM10 40h1v5h-1zM10 52h1v1h-1zM10 59h1v1h-1zM10 61h1v1h-1zM10 91h1v2h-1zM10 108h1v1h-1zM10 120h1v1h-1zM10 122h1v1h-1zM10 128h1v1h-1zM10 137h1v2h-1zM10 142h1v2h-1zM10 150h1v1h-1zM10 169h1v1h-1zM10 211h1v1h-1zM10 214h1v1h-1zM10 222h1v3h-1zM10 231h1v1h-1zM10 262h1v1h-1zM10 266h1v2h-1zM10 270h1v1h-1zM10 273h1v1h-1zM10 347h1v1h-1zM10 351h1v1h-1zM10 354h1v1h-1zM10 356h1v3h-1zM10 362h1v1h-1zM10 388h1v1h-1zM10 405h1v1h-1zM10 407h1v1h-1zM10 418h1v1h-1zM11 15h1v1h-1zM11 25h1v1h-1zM11 27h1v2h-1zM11 30h1v1h-1zM11 57h1v1h-1zM11 67h1v1h-1zM11 73h1v1h-1zM11 80h1v1h-1zM11 97h1v1h-1zM11 108h1v1h-1zM11 117h1v1h-1zM11 119h1v2h-1zM11 122h1v1h-1zM11 148h1v1h-1zM11 235h1v1h-1zM11 251h1v1h-1zM11 258h1v1h-1zM11 262h1v2h-1zM11 318h1v1h-1zM11 390h1v2h-1zM11 393h1v1h-1zM11 410h1v1h-1zM11 413h1v1h-1zM11 418h1v1h-1zM12 9h1v1h-1zM12 22h1v1h-1zM12 73h1v2h-1zM12 84h1v1h-1zM12 91h1v1h-1zM12 103h1v1h-1zM12 105h1v1h-1zM12 109h1v1h-1zM12 117h1v1h-1zM12 146h1v1h-1zM12 170h1v1h-1zM12 172h1v1h-1zM12 186h1v2h-1zM12 197h1v1h-1zM12 207h1v1h-1zM12 243h1v1h-1zM12 250h1v1h-1zM12 252h1v1h-1zM12 258h1v1h-1zM12 260h1v2h-1zM12 302h1v1h-1zM12 317h1v1h-1zM12 322h1v1h-1zM12 324h1v1h-1zM12 353h1v1h-1zM12 401h1v2h-1zM12 418h1v2h-1zM13 13h1v1h-1zM13 25h1v1h-1zM13 27h1v1h-1zM13 39h1v2h-1zM13 42h1v1h-1zM13 44h1v2h-1zM13 50h1v1h-1zM13 54h1v2h-1zM13 58h1v2h-1zM13 61h1v2h-1zM13 113h1v1h-1zM13 130h1v1h-1zM13 194h1v1h-1zM13 208h1v1h-1zM13 218h1v1h-1zM13 221h1v2h-1zM13 230h1v2h-1zM13 259h1v1h-1zM13 309h1v1h-1zM13 416h1v1h-1zM14 28h1v1h-1zM14 62h1v1h-1zM14 65h1v1h-1zM14 72h1v1h-1zM14 87h1v2h-1zM14 125h1v1h-1zM14 186h1v1h-1zM14 188h1v1h-1zM14 191h1v1h-1zM14 220h1v1h-1zM14 222h1v1h-1zM14 236h1v1h-1zM14 238h1v2h-1zM14 280h1v2h-1zM14 296h1v1h-1zM14 298h1v2h-1zM14 329h1v1h-1zM14 339h1v3h-1zM14 353h1v1h-1zM14 361h1v1h-1zM14 367h1v1h-1zM14 372h1v1h-1zM14 374h1v1h-1zM14 386h1v2h-1zM14 389h1v1h-1zM15 69h1v1h-1zM15 74h1v1h-1zM15 79h1v1h-1zM15 133h1v1h-1zM15 135h1v2h-1zM15 169h1v1h-1zM15 176h1v1h-1zM15 178h1v1h-1zM15 180h1v1h-1zM15 191h1v1h-1zM15 198h1v2h-1zM15 206h1v1h-1zM15 233h1v1h-1zM15 235h1v1h-1zM15 279h1v1h-1zM15 284h1v1h-1zM15 298h1v1h-1zM15 310h1v1h-1zM15 325h1v2h-1zM15 341h1v1h-1zM15 370h1v1h-1zM15 380h1v1h-1zM15 393h1v1h-1zM16 10h1v1h-1zM16 55h1v1h-1zM16 68h1v1h-1zM16 87h1v3h-1zM16 92h1v2h-1zM16 102h1v2h-1zM16 106h1v1h-1zM16 110h1v1h-1zM16 114h1v1h-1zM16 127h1v1h-1zM16 132h1v3h-1zM16 137h1v1h-1zM16 141h1v1h-1zM16 146h1v1h-1zM16 187h1v1h-1zM16 218h1v1h-1zM16 235h1v1h-1zM16 248h1v2h-1zM16 282h1v1h-1zM16 284h1v1h-1zM16 297h1v1h-1zM16 301h1v2h-1zM16 307h1v3h-1zM16 361h1v1h-1zM16 370h1v1h-1zM16 374h1v1h-1zM16 376h1v2h-1zM16 379h1v1h-1zM16 387h1v1h-1zM16 418h1v1h-1zM17 11h1v1h-1zM17 14h1v1h-1zM17 25h1v1h-1zM17 38h1v2h-1zM17 43h1v1h-1zM17 53h1v1h-1zM17 64h1v1h-1zM17 82h1v1h-1zM17 107h1v1h-1zM17 110h1v2h-1zM17 113h1v1h-1zM17 123h1v2h-1zM17 141h1v1h-1zM17 159h1v1h-1zM17 162h1v2h-1zM17 168h1v1h-1zM17 188h1v1h-1zM17 191h1v1h-1zM17 194h1v2h-1zM17 250h1v1h-1zM17 262h1v1h-1zM17 285h1v1h-1zM17 292h1v1h-1zM17 301h1v2h-1zM17 310h1v1h-1zM17 322h1v1h-1zM17 324h1v1h-1zM17 334h1v1h-1zM17 344h1v2h-1zM17 355h1v1h-1zM17 371h1v3h-1zM17 377h1v1h-1zM17 411h1v1h-1zM17 413h1v1h-1zM17 417h1v2h-1zM18 5h1v2h-1zM18 9h1v1h-1zM18 13h1v1h-1zM18 30h1v2h-1zM18 33h1v1h-1zM18 35h1v1h-1zM18 43h1v1h-1zM18 95h1v1h-1zM18 98h1v3h-1zM18 107h1v1h-1zM18 118h1v1h-1zM18 147h1v1h-1zM18 152h1v1h-1zM18 175h1v2h-1zM18 185h1v1h-1zM18 187h1v1h-1zM18 196h1v1h-1zM18 210h1v2h-1zM18 214h1v1h-1zM18 228h1v1h-1zM18 246h1v1h-1zM18 249h1v1h-1zM18 257h1v2h-1zM18 291h1v1h-1zM18 294h1v1h-1zM18 303h1v1h-1zM18 323h1v2h-1zM18 358h1v1h-1zM18 360h1v1h-1zM18 362h1v1h-1zM18 376h1v3h-1zM18 381h1v2h-1zM18 385h1v1h-1zM18 388h1v3h-1zM18 393h1v2h-1zM18 411h1v1h-1zM19 18h1v1h-1zM19 20h1v1h-1zM19 32h1v1h-1zM19 40h1v1h-1zM19 52h1v2h-1zM19 56h1v1h-1zM19 58h1v1h-1zM19 67h1v2h-1zM19 74h1v1h-1zM19 78h1v1h-1zM19 86h1v1h-1zM19 93h1v1h-1zM19 115h1v2h-1zM19 119h1v1h-1zM19 138h1v2h-1zM19 147h1v1h-1zM19 154h1v1h-1zM19 165h1v1h-1zM19 170h1v1h-1zM19 200h1v1h-1zM19 205h1v1h-1zM19 250h1v1h-1zM19 255h1v1h-1zM19 283h1v2h-1zM19 288h1v1h-1zM19 315h1v1h-1zM19 340h1v1h-1zM19 356h1v1h-1zM19 377h1v1h-1zM19 396h1v1h-1zM19 405h1v1h-1zM19 407h1v1h-1zM19 409h1v1h-1zM19 415h1v2h-1zM20 0h1v1h-1zM20 4h1v1h-1zM20 7h1v1h-1zM20 20h1v1h-1zM20 22h1v2h-1zM20 25h1v1h-1zM20 28h1v1h-1zM20 39h1v1h-1zM20 44h1v1h-1zM20 56h1v1h-1zM20 67h1v2h-1zM20 82h1v1h-1zM20 84h1v1h-1zM20 92h1v1h-1zM20 102h1v1h-1zM20 113h1v1h-1zM20 128h1v1h-1zM20 130h1v1h-1zM20 133h1v1h-1zM20 140h1v1h-1zM20 143h1v1h-1zM20 152h1v1h-1zM20 178h1v2h-1zM20 184h1v1h-1zM20 187h1v1h-1zM20 190h1v1h-1zM20 195h1v1h-1zM20 198h1v1h-1zM20 200h1v1h-1zM20 211h1v1h-1zM20 214h1v1h-1zM20 236h1v1h-1zM20 337h1v1h-1zM20 348h1v1h-1zM20 355h1v1h-1zM20 362h1v1h-1zM20 380h1v1h-1zM20 414h1v2h-1zM21 2h1v1h-1zM21 12h1v1h-1zM21 14h1v1h-1zM21 36h1v1h-1zM21 47h1v1h-1zM21 56h1v1h-1zM21 59h1v1h-1zM21 104h1v1h-1zM21 107h1v1h-1zM21 109h1v1h-1zM21 121h1v1h-1zM21 170h1v1h-1zM21 172h1v1h-1zM21 174h1v1h-1zM21 176h1v1h-1zM21 182h1v1h-1zM21 193h1v1h-1zM21 227h1v2h-1zM21 292h1v1h-1zM21 304h1v1h-1zM21 355h1v1h-1zM21 368h1v1h-1zM21 377h1v3h-1zM21 382h1v2h-1zM21 385h1v1h-1zM21 392h1v2h-1zM21 405h1v1h-1zM21 411h1v1h-1z"/><path fill="#fbbcc3" d="M0 31h1v1h-1zM0 33h1v1h-1zM0 47h1v2h-1zM0 90h1v1h-1zM0 92h1v1h-1zM0 94h1v1h-1zM0 166h1v1h-1zM0 173h1v2h-1zM0 193h1v2h-1zM0 205h1v1h-1zM0 236h1v1h-1zM0 239h1v1h-1zM0 241h1v2h-1zM0 260h1v1h-1zM0 267h1v1h-1zM0 276h1v1h-1zM0 387h1v1h-1zM0 392h1v2h-1zM0 401h1v1h-1zM0 407h1v1h-1zM1 2h1v1h-1zM1 70h1v1h-1zM1 88h1v1h-1zM1 281h1v1h-1zM1 284h1v1h-1zM1 288h1v1h-1zM1 300h1v1h-1zM1 305h1v1h-1zM1 318h1v1h-1zM1 343h1v1h-1zM1 363h1v2h-1zM1 368h1v1h-1zM2 62h1v2h-1zM2 83h1v1h-1zM2 100h1v1h-1zM2 104h1v1h-1zM2 117h1v2h-1zM2 137h1v1h-1zM2 159h1v1h-1zM2 174h1v2h-1zM2 252h1v2h-1zM2 256h1v1h-1zM2 332h1v1h-1zM2 339h1v1h-1zM2 406h1v1h-1zM2 416h1v1h-1zM2 418h1v1h-1zM3 31h1v1h-1zM3 36h1v2h-1zM3 49h1v2h-1zM3 89h1v1h-1zM3 192h1v1h-1zM3 260h1v1h-1zM3 262h1v1h-1zM3 264h1v1h-1zM3 304h1v1h-1zM3 339h1v1h-1zM3 387h1v2h-1zM3 394h1v1h-1zM4 5h1v1h-1zM4 12h1v1h-1zM4 41h1v1h-1zM4 46h1v1h-1zM4 70h1v2h-1zM4 74h1v1h-1zM4 76h1v2h-1zM4 79h1v1h-1zM4 90h1v1h-1zM4 100h1v1h-1zM4 102h1v1h-1zM4 110h1v3h-1zM4 138h1v1h-1zM4 146h1v1h-1zM4 195h1v1h-1zM4 294h1v1h-1zM4 312h1v1h-1zM4 357h1v1h-1zM4 379h1v1h-1zM4 418h1v2h-1zM5 10h1v1h-1zM5 20h1v1h-1zM5 29h1v1h-1zM5 39h1v1h-1zM5 62h1v1h-1zM5 107h1v1h-1zM5 133h1v1h-1zM5 181h1v1h-1zM5 190h1v1h-1zM5 193h1v2h-1zM5 269h1v1h-1zM5 271h1v1h-1zM5 364h1v1h-1zM5 369h1v1h-1zM6 6h1v1h-1zM6 9h1v3h-1zM6 72h1v1h-1zM6 110h1v1h-1zM6 115h1v2h-1zM6 118h1v1h-1zM6 120h1v1h-1zM6 262h1v1h-1zM6 264h1v1h-1zM6 300h1v1h-1zM7 63h1v1h-1zM7 105h1v1h-1zM7 213h1v1h-1zM7 215h1v3h-1zM7 235h1v1h-1zM7 349h1v1h-1zM8 86h1v3h-1zM8 147h1v1h-1zM8 227h1v1h-1zM8 241h1v1h-1zM8 280h1v1h-1zM8 285h1v1h-1zM8 288h1v1h-1zM8 292h1v1h-1zM8 301h1v1h-1zM8 317h1v1h-1zM8 336h1v1h-1zM8 361h1v1h-1zM8 365h1v1h-1zM8 373h1v2h-1zM8 415h1v1h-1zM9 9h1v1h-1zM9 45h1v1h-1zM9 57h1v1h-1zM9 72h1v1h-1zM9 93h1v1h-1zM9 102h1v1h-1zM9 135h1v1h-1zM9 137h1v1h-1zM9 208h1v1h-1zM9 258h1v1h-1zM9 275h1v3h-1zM9 309h1v1h-1zM9 327h1v1h-1zM9 357h1v1h-1zM10 4h1v1h-1zM10 18h1v1h-1zM10 25h1v1h-1zM10 90h1v1h-1zM10 93h1v1h-1zM10 105h1v1h-1zM10 123h1v1h-1zM10 221h1v1h-1zM10 234h1v1h-1zM10 265h1v1h-1zM10 272h1v1h-1zM10 328h1v1h-1zM10 352h1v1h-1zM10 355h1v1h-1zM11 16h1v2h-1zM11 33h1v1h-1zM11 39h1v1h-1zM11 68h1v1h-1zM11 70h1v1h-1zM11 72h1v1h-1zM11 74h1v1h-1zM11 109h1v1h-1zM11 115h1v1h-1zM11 212h1v1h-1zM11 252h1v1h-1zM11 319h1v1h-1zM12 2h1v1h-1zM12 24h1v1h-1zM12 70h1v1h-1zM12 80h1v4h-1zM12 104h1v1h-1zM12 115h1v1h-1zM12 136h1v1h-1zM12 198h1v1h-1zM12 209h1v2h-1zM12 251h1v1h-1zM12 254h1v2h-1zM12 257h1v1h-1zM12 304h1v1h-1zM12 325h1v1h-1zM12 400h1v1h-1zM12 404h1v1h-1zM13 8h1v2h-1zM13 14h1v1h-1zM13 19h1v1h-1zM13 26h1v1h-1zM13 28h1v1h-1zM13 30h1v2h-1zM13 47h1v1h-1zM13 49h1v1h-1zM13 60h1v1h-1zM13 85h1v1h-1zM13 312h1v1h-1zM13 400h1v1h-1zM13 417h1v2h-1zM14 9h1v1h-1zM14 74h1v1h-1zM14 80h1v1h-1zM14 85h1v1h-1zM14 129h1v1h-1zM14 153h1v1h-1zM14 160h1v1h-1zM14 190h1v1h-1zM14 192h1v1h-1zM14 197h1v1h-1zM14 223h1v1h-1zM14 230h1v1h-1zM14 362h1v3h-1zM14 370h1v1h-1zM14 373h1v1h-1zM14 383h1v1h-1zM15 73h1v1h-1zM15 147h1v1h-1zM15 167h1v1h-1zM15 171h1v2h-1zM15 179h1v1h-1zM15 181h1v3h-1zM15 190h1v1h-1zM15 207h1v1h-1zM15 281h1v1h-1zM15 283h1v1h-1zM15 296h1v1h-1zM15 343h1v1h-1zM15 376h1v1h-1zM15 384h1v1h-1zM15 387h1v1h-1zM16 56h1v1h-1zM16 58h1v1h-1zM16 65h1v1h-1zM16 90h1v2h-1zM16 101h1v1h-1zM16 111h1v1h-1zM16 130h1v1h-1zM16 147h1v3h-1zM16 202h1v1h-1zM16 214h1v1h-1zM16 217h1v1h-1zM16 220h1v1h-1zM16 226h1v1h-1zM16 296h1v1h-1zM16 310h1v2h-1zM16 338h1v1h-1zM16 345h1v1h-1zM16 347h1v1h-1zM16 352h1v1h-1zM16 364h1v1h-1zM16 415h1v1h-1zM16 419h1v1h-1zM17 30h1v1h-1zM17 32h1v2h-1zM17 69h1v2h-1zM17 106h1v1h-1zM17 157h1v1h-1zM17 166h1v1h-1zM17 178h1v1h-1zM17 180h1v1h-1zM17 197h1v3h-1zM17 261h1v1h-1zM17 278h1v2h-1zM17 286h1v2h-1zM17 289h1v1h-1zM17 309h1v1h-1zM17 312h1v1h-1zM17 314h1v1h-1zM17 316h1v1h-1zM17 321h1v1h-1zM17 327h1v1h-1zM17 333h1v1h-1zM17 335h1v1h-1zM17 354h1v1h-1zM17 370h1v1h-1zM18 14h1v1h-1zM18 32h1v1h-1zM18 72h1v2h-1zM18 90h1v3h-1zM18 106h1v1h-1zM18 116h1v2h-1zM18 151h1v1h-1zM18 186h1v1h-1zM18 188h1v1h-1zM18 195h1v1h-1zM18 209h1v1h-1zM18 238h1v1h-1zM18 245h1v1h-1zM18 338h1v1h-1zM18 379h1v1h-1zM18 383h1v2h-1zM18 391h1v1h-1zM19 21h1v1h-1zM19 34h1v1h-1zM19 41h1v1h-1zM19 65h1v1h-1zM19 69h1v2h-1zM19 72h1v1h-1zM19 76h1v1h-1zM19 79h1v1h-1zM19 85h1v1h-1zM19 89h1v1h-1zM19 91h1v2h-1zM19 118h1v1h-1zM19 120h1v1h-1zM19 122h1v1h-1zM19 136h1v1h-1zM19 150h1v1h-1zM19 166h1v1h-1zM19 203h1v1h-1zM19 208h1v1h-1zM19 211h1v1h-1zM19 214h1v1h-1zM19 228h1v1h-1zM19 275h1v1h-1zM19 286h1v1h-1zM19 349h1v1h-1zM19 401h1v3h-1zM19 411h1v1h-1zM20 1h1v1h-1zM20 5h1v1h-1zM20 21h1v1h-1zM20 33h1v1h-1zM20 35h1v2h-1zM20 83h1v1h-1zM20 112h1v1h-1zM20 134h1v1h-1zM20 151h1v1h-1zM20 154h1v1h-1zM20 194h1v1h-1zM20 197h1v1h-1zM20 201h1v1h-1zM20 339h1v1h-1zM20 347h1v1h-1zM20 356h1v1h-1zM20 364h1v1h-1zM20 367h1v1h-1zM20 370h1v1h-1zM20 373h1v1h-1zM20 381h1v1h-1zM20 389h1v1h-1zM21 1h1v1h-1zM21 8h1v2h-1zM21 39h1v2h-1zM21 46h1v1h-1zM21 49h1v1h-1zM21 122h1v1h-1zM21 129h1v1h-1zM21 150h1v2h-1zM21 173h1v1h-1zM21 177h1v1h-1zM21 192h1v1h-1zM21 194h1v2h-1zM21 197h1v1h-1zM21 290h1v1h-1zM21 297h1v1h-1zM21 365h1v2h-1zM21 419h1v1h-1z"/><path fill="#f79ba3" d="M0 30h1v1h-1zM0 46h1v1h-1zM0 70h1v1h-1zM0 73h1v1h-1zM0 93h1v1h-1zM0 111h1v2h-1zM0 196h1v1h-1zM0 199h1v1h-1zM0 204h1v1h-1zM0 206h1v1h-1zM0 237h1v1h-1zM0 240h1v1h-1zM0 268h1v1h-1zM0 322h1v1h-1zM0 394h1v1h-1zM0 400h1v1h-1zM0 402h1v1h-1zM0 408h1v1h-1zM1 3h1v1h-1zM1 7h1v1h-1zM1 55h1v1h-1zM1 73h1v1h-1zM1 195h1v1h-1zM1 254h1v1h-1zM1 304h1v1h-1zM1 307h1v1h-1zM1 351h1v1h-1zM1 354h1v1h-1zM2 219h1v1h-1zM2 262h1v3h-1zM2 331h1v1h-1zM2 333h1v1h-1zM2 337h1v1h-1zM2 387h1v1h-1zM2 389h1v1h-1zM2 405h1v1h-1zM2 415h1v1h-1zM2 417h1v1h-1zM3 33h1v1h-1zM3 38h1v4h-1zM3 202h1v1h-1zM3 241h1v1h-1zM3 263h1v1h-1zM3 335h1v2h-1zM3 342h1v1h-1zM3 344h1v1h-1zM3 386h1v1h-1zM4 6h1v1h-1zM4 42h1v1h-1zM4 56h1v1h-1zM4 72h1v1h-1zM4 261h1v1h-1zM4 322h1v1h-1zM4 335h1v1h-1zM5 60h1v1h-1zM5 63h1v2h-1zM5 75h1v1h-1zM5 77h1v1h-1zM5 136h1v1h-1zM5 184h1v1h-1zM5 211h1v1h-1zM5 227h1v1h-1zM5 367h1v2h-1zM5 399h1v1h-1zM6 26h1v1h-1zM6 79h1v1h-1zM6 119h1v1h-1zM6 303h1v1h-1zM6 366h1v1h-1zM6 394h1v1h-1zM7 341h1v2h-1zM7 347h1v2h-1zM7 374h1v1h-1zM8 72h1v1h-1zM8 89h1v1h-1zM8 281h1v1h-1zM8 284h1v1h-1zM8 286h1v1h-1zM8 342h1v1h-1zM8 360h1v1h-1zM8 366h1v1h-1zM8 369h1v1h-1zM8 401h1v1h-1zM8 407h1v1h-1zM8 418h1v1h-1zM9 92h1v1h-1zM9 150h1v1h-1zM9 250h1v1h-1zM9 253h1v1h-1zM9 290h1v1h-1zM9 329h1v1h-1zM9 397h1v1h-1zM9 399h1v1h-1zM10 29h1v1h-1zM10 38h1v1h-1zM10 46h1v2h-1zM10 204h1v1h-1zM10 220h1v1h-1zM10 353h1v1h-1zM10 411h1v1h-1zM11 1h1v1h-1zM11 4h1v1h-1zM11 7h1v1h-1zM11 19h1v1h-1zM11 21h1v4h-1zM11 32h1v1h-1zM11 34h1v1h-1zM11 38h1v1h-1zM11 45h1v1h-1zM11 55h1v1h-1zM11 64h1v1h-1zM11 81h1v3h-1zM11 95h1v1h-1zM11 121h1v1h-1zM11 210h1v1h-1zM11 214h1v1h-1zM11 236h1v1h-1zM11 260h1v1h-1zM12 3h1v1h-1zM12 6h1v2h-1zM12 15h1v1h-1zM12 21h1v1h-1zM12 50h1v1h-1zM12 54h1v1h-1zM12 241h1v1h-1zM12 323h1v1h-1zM13 2h1v1h-1zM13 6h1v2h-1zM13 17h1v1h-1zM13 36h1v2h-1zM13 41h1v1h-1zM13 109h1v1h-1zM13 132h1v1h-1zM13 239h1v1h-1zM13 401h1v3h-1zM13 412h1v4h-1zM14 69h1v1h-1zM14 81h1v1h-1zM14 128h1v1h-1zM14 157h1v1h-1zM14 161h1v1h-1zM14 163h1v1h-1zM14 175h1v1h-1zM14 196h1v1h-1zM14 224h1v1h-1zM14 237h1v1h-1zM14 330h1v1h-1zM15 130h1v1h-1zM15 160h1v1h-1zM15 163h1v1h-1zM15 165h1v2h-1zM15 175h1v1h-1zM15 189h1v1h-1zM15 197h1v1h-1zM15 208h1v1h-1zM15 385h1v2h-1zM16 66h1v1h-1zM16 100h1v1h-1zM16 126h1v1h-1zM16 140h1v1h-1zM16 145h1v1h-1zM16 150h1v1h-1zM16 176h1v1h-1zM16 216h1v1h-1zM16 224h1v1h-1zM16 295h1v1h-1zM16 372h1v1h-1zM17 31h1v1h-1zM17 55h1v1h-1zM17 80h1v1h-1zM17 108h1v1h-1zM17 112h1v1h-1zM17 115h1v3h-1zM17 119h1v1h-1zM17 190h1v1h-1zM17 228h1v1h-1zM17 291h1v1h-1zM17 299h1v2h-1zM17 308h1v1h-1zM17 311h1v1h-1zM17 313h1v1h-1zM17 315h1v1h-1zM17 325h1v2h-1zM17 328h1v2h-1zM17 337h1v1h-1zM17 369h1v1h-1zM17 376h1v1h-1zM17 378h1v2h-1zM17 410h1v1h-1zM18 65h1v1h-1zM18 70h1v1h-1zM18 93h1v1h-1zM18 101h1v1h-1zM18 108h1v1h-1zM18 191h1v2h-1zM18 212h1v2h-1zM18 292h1v2h-1zM18 322h1v1h-1zM19 51h1v1h-1zM19 121h1v1h-1zM19 126h1v1h-1zM19 153h1v1h-1zM19 202h1v1h-1zM19 225h1v2h-1zM19 341h1v1h-1zM19 376h1v1h-1zM19 378h1v1h-1zM19 397h1v1h-1zM19 400h1v1h-1zM20 2h1v1h-1zM20 24h1v1h-1zM20 32h1v1h-1zM20 43h1v1h-1zM20 48h1v1h-1zM20 121h1v3h-1zM20 180h1v1h-1zM20 189h1v1h-1zM20 192h1v1h-1zM20 210h1v1h-1zM20 212h1v1h-1zM20 343h1v1h-1zM20 363h1v1h-1zM20 365h1v1h-1zM20 371h1v1h-1zM20 407h1v1h-1zM21 23h1v1h-1zM21 29h1v1h-1zM21 58h1v1h-1zM21 100h1v1h-1zM21 106h1v1h-1zM21 124h1v1h-1zM21 175h1v1h-1zM21 196h1v1h-1zM21 199h1v1h-1zM21 229h1v1h-1zM21 296h1v1h-1zM21 335h1v1h-1zM21 394h1v1h-1zM21 404h1v1h-1zM21 412h1v1h-1z"/><path fill="#f37a84" d="M0 45h1v1h-1zM0 198h1v1h-1zM0 200h1v1h-1zM0 203h1v1h-1zM0 231h1v1h-1zM0 235h1v1h-1zM0 258h1v2h-1zM0 261h1v1h-1zM0 398h1v1h-1zM0 406h1v1h-1zM1 59h1v1h-1zM1 192h1v1h-1zM1 196h1v1h-1zM1 198h1v2h-1zM1 316h1v2h-1zM1 352h1v1h-1zM1 361h1v1h-1zM1 365h1v1h-1zM1 369h1v1h-1zM2 60h1v1h-1zM2 84h1v1h-1zM2 103h1v1h-1zM2 216h1v3h-1zM2 259h1v1h-1zM2 318h1v1h-1zM2 340h1v1h-1zM2 385h1v2h-1zM2 419h1v1h-1zM3 32h1v1h-1zM3 191h1v1h-1zM3 269h1v1h-1zM3 302h1v1h-1zM3 316h1v1h-1zM3 340h1v1h-1zM3 343h1v1h-1zM4 75h1v1h-1zM4 113h1v1h-1zM4 254h1v1h-1zM4 262h1v1h-1zM4 287h1v1h-1zM5 17h1v1h-1zM5 19h1v1h-1zM5 132h1v1h-1zM5 183h1v1h-1zM5 192h1v1h-1zM5 225h1v1h-1zM5 246h1v1h-1zM5 265h1v2h-1zM5 274h1v1h-1zM5 381h1v2h-1zM5 384h1v1h-1zM6 29h1v1h-1zM6 128h1v2h-1zM6 275h1v1h-1zM6 302h1v1h-1zM7 110h1v1h-1zM7 125h1v1h-1zM7 325h1v1h-1zM7 344h1v1h-1zM7 355h1v2h-1zM7 370h1v2h-1zM7 376h1v1h-1zM8 54h1v1h-1zM8 275h1v2h-1zM8 290h1v2h-1zM8 302h1v1h-1zM8 310h1v1h-1zM8 343h1v1h-1zM8 345h1v1h-1zM8 371h1v1h-1zM8 400h1v1h-1zM8 402h1v1h-1zM8 404h1v1h-1zM9 73h1v2h-1zM9 106h1v1h-1zM9 108h1v1h-1zM9 146h1v1h-1zM9 151h1v2h-1zM9 191h1v1h-1zM9 251h1v1h-1zM9 279h1v1h-1zM9 306h1v2h-1zM9 356h1v1h-1zM10 233h1v1h-1zM11 0h1v1h-1zM11 2h1v1h-1zM11 5h1v1h-1zM11 8h1v2h-1zM11 29h1v1h-1zM11 49h1v1h-1zM11 60h1v2h-1zM11 69h1v1h-1zM11 211h1v1h-1zM11 213h1v1h-1zM11 259h1v1h-1zM12 0h1v1h-1zM12 45h1v1h-1zM12 53h1v1h-1zM12 116h1v1h-1zM12 119h1v1h-1zM12 206h1v1h-1zM12 240h1v1h-1zM12 242h1v1h-1zM12 256h1v1h-1zM12 354h1v1h-1zM13 0h1v1h-1zM13 4h1v1h-1zM13 16h1v1h-1zM13 18h1v1h-1zM13 46h1v1h-1zM13 48h1v1h-1zM13 411h1v1h-1zM14 67h1v1h-1zM14 143h1v1h-1zM14 182h1v1h-1zM14 194h1v1h-1zM14 231h1v1h-1zM14 331h1v1h-1zM14 371h1v1h-1zM15 148h1v1h-1zM15 161h1v2h-1zM15 173h1v1h-1zM15 184h1v1h-1zM15 188h1v1h-1zM15 209h1v1h-1zM15 280h1v1h-1zM15 389h1v1h-1zM16 112h1v2h-1zM16 125h1v1h-1zM16 131h1v1h-1zM16 139h1v1h-1zM16 142h1v1h-1zM16 151h1v2h-1zM16 177h1v1h-1zM16 215h1v1h-1zM16 219h1v1h-1zM16 221h1v1h-1zM16 238h1v2h-1zM16 283h1v1h-1zM16 339h1v1h-1zM16 346h1v1h-1zM17 192h1v1h-1zM17 226h1v1h-1zM17 229h1v1h-1zM17 255h1v1h-1zM17 290h1v1h-1zM17 293h1v2h-1zM18 34h1v1h-1zM18 66h1v1h-1zM18 74h1v1h-1zM18 78h1v1h-1zM18 153h1v1h-1zM18 189h1v1h-1zM18 335h1v2h-1zM18 339h1v1h-1zM18 380h1v1h-1zM19 14h1v1h-1zM19 44h1v1h-1zM19 59h1v1h-1zM19 71h1v1h-1zM19 87h1v2h-1zM19 90h1v1h-1zM19 94h1v1h-1zM19 125h1v1h-1zM19 169h1v1h-1zM19 227h1v1h-1zM19 251h1v1h-1zM19 375h1v1h-1zM19 404h1v1h-1zM19 406h1v1h-1zM19 410h1v1h-1zM20 31h1v1h-1zM20 34h1v1h-1zM20 47h1v1h-1zM20 91h1v1h-1zM20 124h1v1h-1zM20 127h1v1h-1zM20 129h1v1h-1zM20 150h1v1h-1zM20 186h1v1h-1zM20 191h1v1h-1zM20 366h1v1h-1zM20 382h1v1h-1zM20 387h1v1h-1zM21 24h1v1h-1zM21 57h1v1h-1zM21 101h1v3h-1zM21 190h1v1h-1zM21 198h1v1h-1zM21 369h1v1h-1z"/><path fill="#f05c66" d="M0 114h1v1h-1zM0 197h1v1h-1zM0 201h1v1h-1zM0 230h1v1h-1zM0 249h1v1h-1zM0 277h1v1h-1zM0 279h1v1h-1zM0 321h1v1h-1zM0 396h1v2h-1zM0 403h1v2h-1zM1 53h1v1h-1zM1 315h1v1h-1zM1 350h1v1h-1zM1 362h1v1h-1zM1 402h1v1h-1zM1 408h1v1h-1zM2 64h1v1h-1zM2 119h1v1h-1zM2 156h1v1h-1zM2 215h1v1h-1zM2 229h1v1h-1zM2 260h1v2h-1zM2 275h1v1h-1zM2 330h1v1h-1zM2 334h1v1h-1zM3 0h1v1h-1zM3 52h1v3h-1zM3 240h1v1h-1zM3 242h1v1h-1zM3 301h1v1h-1zM3 315h1v1h-1zM3 385h1v1h-1zM4 7h1v2h-1zM4 10h1v1h-1zM4 44h1v1h-1zM4 96h1v3h-1zM4 101h1v1h-1zM4 139h1v1h-1zM4 147h1v1h-1zM4 192h1v1h-1zM4 240h1v1h-1zM4 250h1v2h-1zM4 314h1v2h-1zM4 336h1v1h-1zM5 15h1v2h-1zM5 18h1v1h-1zM5 130h1v2h-1zM5 134h1v1h-1zM5 210h1v1h-1zM5 226h1v1h-1zM5 245h1v1h-1zM5 247h1v1h-1zM5 272h1v1h-1zM5 366h1v1h-1zM5 380h1v1h-1zM5 383h1v1h-1zM5 395h1v3h-1zM6 117h1v1h-1zM7 126h1v1h-1zM7 191h1v1h-1zM7 194h1v1h-1zM7 326h1v1h-1zM7 345h1v2h-1zM7 373h1v1h-1zM7 375h1v1h-1zM8 57h1v2h-1zM8 277h1v3h-1zM8 307h1v1h-1zM8 318h1v1h-1zM8 344h1v1h-1zM8 376h1v2h-1zM8 396h1v1h-1zM8 403h1v1h-1zM8 416h1v2h-1zM9 94h1v1h-1zM9 107h1v1h-1zM9 109h1v1h-1zM9 190h1v1h-1zM9 194h1v1h-1zM9 207h1v1h-1zM9 252h1v1h-1zM9 278h1v1h-1zM9 292h1v1h-1zM10 5h1v1h-1zM10 14h1v1h-1zM10 20h1v3h-1zM10 107h1v1h-1zM10 271h1v1h-1zM10 406h1v1h-1zM11 6h1v1h-1zM11 31h1v1h-1zM11 35h1v3h-1zM11 46h1v1h-1zM11 48h1v1h-1zM11 58h1v2h-1zM11 66h1v1h-1zM11 96h1v1h-1zM11 253h1v1h-1zM11 327h1v1h-1zM11 392h1v1h-1zM11 419h1v1h-1zM12 1h1v1h-1zM12 5h1v1h-1zM12 16h1v2h-1zM12 48h1v1h-1zM12 72h1v1h-1zM12 118h1v1h-1zM12 303h1v1h-1zM13 1h1v1h-1zM13 3h1v1h-1zM13 15h1v1h-1zM13 20h1v1h-1zM13 111h1v2h-1zM13 238h1v1h-1zM14 8h1v1h-1zM14 66h1v1h-1zM14 68h1v1h-1zM14 83h1v2h-1zM14 144h1v1h-1zM14 154h1v3h-1zM14 180h1v2h-1zM14 183h1v1h-1zM14 195h1v1h-1zM14 198h1v2h-1zM14 333h1v1h-1zM15 70h1v3h-1zM15 164h1v1h-1zM15 187h1v1h-1zM15 331h1v1h-1zM16 94h1v1h-1zM16 138h1v1h-1zM16 161h1v1h-1zM16 185h1v1h-1zM16 225h1v1h-1zM16 280h1v1h-1zM16 340h1v1h-1zM16 348h1v1h-1zM16 351h1v1h-1zM16 417h1v1h-1zM17 68h1v1h-1zM17 155h1v1h-1zM17 160h1v2h-1zM17 181h1v1h-1zM17 187h1v1h-1zM17 225h1v1h-1zM17 295h1v2h-1zM17 304h1v4h-1zM17 336h1v1h-1zM17 366h1v1h-1zM17 374h1v1h-1zM18 154h1v1h-1zM18 190h1v1h-1zM18 193h1v2h-1zM18 337h1v1h-1zM19 43h1v1h-1zM19 50h1v1h-1zM19 123h1v1h-1zM19 137h1v1h-1zM19 152h1v1h-1zM19 201h1v1h-1zM19 209h1v2h-1zM19 213h1v1h-1zM19 373h1v1h-1zM19 386h1v1h-1zM19 412h1v2h-1zM20 16h1v3h-1zM20 29h1v2h-1zM20 46h1v1h-1zM20 90h1v1h-1zM20 114h1v1h-1zM20 125h1v2h-1zM20 185h1v1h-1zM20 193h1v1h-1zM20 199h1v1h-1zM20 341h1v1h-1zM20 372h1v1h-1zM20 378h1v1h-1zM20 383h1v1h-1zM20 388h1v1h-1zM21 22h1v1h-1zM21 28h1v1h-1zM21 299h1v1h-1zM21 367h1v1h-1z"/><path fill="#ef4650" d="M0 113h1v1h-1zM0 195h1v1h-1zM0 232h1v1h-1zM0 243h1v1h-1zM0 275h1v1h-1zM0 278h1v1h-1zM0 315h1v1h-1zM0 320h1v1h-1zM1 405h1v1h-1zM1 409h1v1h-1zM1 414h1v1h-1zM2 155h1v1h-1zM2 228h1v1h-1zM2 265h1v1h-1zM2 267h1v2h-1zM2 274h1v1h-1zM2 278h1v3h-1zM2 285h1v1h-1zM2 290h1v1h-1zM2 293h1v1h-1zM2 297h1v1h-1zM2 299h1v1h-1zM2 314h1v2h-1zM2 317h1v1h-1zM2 319h1v1h-1zM2 323h1v2h-1zM3 3h1v1h-1zM3 194h1v2h-1zM3 232h1v1h-1zM3 238h1v2h-1zM3 244h1v1h-1zM3 287h1v1h-1zM4 11h1v1h-1zM4 43h1v1h-1zM4 45h1v1h-1zM4 73h1v1h-1zM4 95h1v1h-1zM4 191h1v1h-1zM4 193h1v2h-1zM4 252h1v1h-1zM4 255h1v1h-1zM4 260h1v1h-1zM5 80h1v1h-1zM5 106h1v1h-1zM5 180h1v1h-1zM5 248h1v2h-1zM5 365h1v1h-1zM6 0h1v1h-1zM6 27h1v1h-1zM6 335h1v1h-1zM6 357h1v1h-1zM6 371h1v1h-1zM7 327h1v1h-1zM7 343h1v1h-1zM7 357h1v1h-1zM7 361h1v3h-1zM7 365h1v2h-1zM7 399h1v7h-1zM7 409h1v1h-1zM8 59h1v1h-1zM8 289h1v1h-1zM8 335h1v1h-1zM8 367h1v2h-1zM8 375h1v1h-1zM8 395h1v1h-1zM8 397h1v3h-1zM9 71h1v1h-1zM9 79h1v2h-1zM9 91h1v1h-1zM9 192h1v1h-1zM9 293h1v2h-1zM10 6h1v1h-1zM10 9h1v1h-1zM10 13h1v1h-1zM10 23h1v1h-1zM10 39h1v1h-1zM11 12h1v1h-1zM11 14h1v1h-1zM11 18h1v1h-1zM11 20h1v1h-1zM11 41h1v1h-1zM11 43h1v1h-1zM11 50h1v1h-1zM11 53h1v1h-1zM11 62h1v2h-1zM11 65h1v1h-1zM11 254h1v1h-1zM11 257h1v1h-1zM11 264h1v1h-1zM12 19h1v1h-1zM12 26h1v1h-1zM12 32h1v1h-1zM12 38h1v1h-1zM12 47h1v1h-1zM12 51h1v2h-1zM12 99h1v1h-1zM12 253h1v1h-1zM12 259h1v1h-1zM13 29h1v1h-1zM13 38h1v1h-1zM13 110h1v1h-1zM13 131h1v1h-1zM13 232h1v1h-1zM14 145h1v1h-1zM14 147h1v2h-1zM14 164h1v1h-1zM14 173h1v2h-1zM14 176h1v1h-1zM14 179h1v1h-1zM14 193h1v1h-1zM14 232h1v2h-1zM14 332h1v1h-1zM15 140h1v2h-1zM15 145h1v1h-1zM15 149h1v1h-1zM15 159h1v1h-1zM15 174h1v1h-1zM15 297h1v1h-1zM15 330h1v1h-1zM15 332h1v1h-1zM16 155h1v1h-1zM16 160h1v1h-1zM16 178h1v1h-1zM16 281h1v1h-1zM16 314h1v1h-1zM16 331h1v1h-1zM16 343h1v1h-1zM16 350h1v1h-1zM16 416h1v1h-1zM17 57h1v2h-1zM17 65h1v1h-1zM17 67h1v1h-1zM17 81h1v1h-1zM17 176h1v2h-1zM17 193h1v1h-1zM17 209h1v1h-1zM17 217h1v3h-1zM17 221h1v1h-1zM17 298h1v1h-1zM17 303h1v1h-1zM17 323h1v1h-1zM17 367h1v1h-1zM18 69h1v1h-1zM18 75h1v3h-1zM18 109h1v1h-1zM18 112h1v1h-1zM18 123h1v2h-1zM18 290h1v1h-1zM18 412h1v2h-1zM19 33h1v1h-1zM19 42h1v1h-1zM19 110h1v5h-1zM19 151h1v1h-1zM19 212h1v1h-1zM19 276h1v1h-1zM19 385h1v1h-1zM19 387h1v1h-1zM19 414h1v1h-1zM20 15h1v1h-1zM20 19h1v1h-1zM20 45h1v1h-1zM20 49h1v1h-1zM20 342h1v1h-1zM20 376h1v1h-1zM20 379h1v1h-1zM20 384h1v3h-1zM21 21h1v1h-1zM21 25h1v2h-1zM21 41h1v1h-1zM21 44h1v2h-1zM21 123h1v1h-1zM21 128h1v1h-1zM21 185h1v1h-1zM21 187h1v3h-1z"/><path fill="#ef313b" d="M0 165h1v1h-1zM0 202h1v1h-1zM0 233h1v1h-1zM0 244h1v1h-1zM0 246h1v3h-1zM0 319h1v1h-1zM1 197h1v1h-1zM1 280h1v1h-1zM1 320h1v1h-1zM1 406h1v2h-1zM1 410h1v2h-1zM1 413h1v1h-1zM1 415h1v2h-1zM2 157h1v2h-1zM2 227h1v1h-1zM2 266h1v1h-1zM2 269h1v3h-1zM2 273h1v1h-1zM2 276h1v2h-1zM2 281h1v1h-1zM2 286h1v1h-1zM2 291h1v2h-1zM2 294h1v2h-1zM2 298h1v1h-1zM2 300h1v3h-1zM2 304h1v2h-1zM2 311h1v3h-1zM2 316h1v1h-1zM2 320h1v3h-1zM2 325h1v4h-1zM2 345h1v2h-1zM2 349h1v1h-1zM3 1h1v2h-1zM3 51h1v1h-1zM3 188h1v2h-1zM3 193h1v1h-1zM3 230h1v1h-1zM3 233h1v2h-1zM3 243h1v1h-1zM3 286h1v1h-1zM3 317h1v2h-1zM4 99h1v1h-1zM4 253h1v1h-1zM4 256h1v1h-1zM5 76h1v1h-1zM5 82h1v2h-1zM6 1h1v1h-1zM6 28h1v1h-1zM6 304h1v1h-1zM6 347h1v1h-1zM6 350h1v2h-1zM6 353h1v3h-1zM6 364h1v1h-1zM6 370h1v1h-1zM6 373h1v1h-1zM7 192h1v2h-1zM7 350h1v1h-1zM7 360h1v1h-1zM7 364h1v1h-1zM7 368h1v1h-1zM7 395h1v2h-1zM7 406h1v3h-1zM8 55h1v2h-1zM8 61h1v3h-1zM8 85h1v1h-1zM8 282h1v2h-1zM8 338h1v3h-1zM8 351h1v1h-1zM8 357h1v1h-1zM8 359h1v1h-1zM8 390h1v5h-1zM9 70h1v1h-1zM9 75h1v1h-1zM9 77h1v2h-1zM9 81h1v2h-1zM9 90h1v1h-1zM9 254h1v1h-1zM9 328h1v1h-1zM9 398h1v1h-1zM10 10h1v3h-1zM10 106h1v1h-1zM10 263h1v1h-1zM10 370h1v2h-1zM10 373h1v1h-1zM11 10h1v2h-1zM11 13h1v1h-1zM11 40h1v1h-1zM11 42h1v1h-1zM11 44h1v1h-1zM11 51h1v2h-1zM11 54h1v1h-1zM11 256h1v1h-1zM11 267h1v2h-1zM11 270h1v2h-1zM11 325h1v2h-1zM11 328h1v2h-1zM12 4h1v1h-1zM12 18h1v1h-1zM12 20h1v1h-1zM12 23h1v1h-1zM12 25h1v1h-1zM12 31h1v1h-1zM12 40h1v1h-1zM12 46h1v1h-1zM12 56h1v2h-1zM12 60h1v2h-1zM12 63h1v2h-1zM12 67h1v3h-1zM12 71h1v1h-1zM12 96h1v2h-1zM13 5h1v1h-1zM13 21h1v3h-1zM13 237h1v1h-1zM13 404h1v1h-1zM13 410h1v1h-1zM14 82h1v1h-1zM14 130h1v7h-1zM14 139h1v1h-1zM14 141h1v2h-1zM14 146h1v1h-1zM14 149h1v1h-1zM14 162h1v1h-1zM14 171h1v2h-1zM14 177h1v1h-1zM14 226h1v1h-1zM14 228h1v1h-1zM15 142h1v1h-1zM15 155h1v3h-1zM15 185h1v2h-1zM15 333h1v1h-1zM15 340h1v1h-1zM16 143h1v2h-1zM16 154h1v1h-1zM16 156h1v1h-1zM16 159h1v1h-1zM16 162h1v1h-1zM16 165h1v3h-1zM16 174h1v1h-1zM16 237h1v1h-1zM16 330h1v1h-1zM16 334h1v1h-1zM16 341h1v2h-1zM16 344h1v1h-1zM17 59h1v1h-1zM17 66h1v1h-1zM17 109h1v1h-1zM17 118h1v1h-1zM17 182h1v3h-1zM17 203h1v1h-1zM17 206h1v1h-1zM17 208h1v1h-1zM17 210h1v3h-1zM17 216h1v1h-1zM17 220h1v1h-1zM17 222h1v2h-1zM17 297h1v1h-1zM17 375h1v1h-1zM18 67h1v2h-1zM18 71h1v1h-1zM18 79h1v1h-1zM18 111h1v1h-1zM18 113h1v2h-1zM18 120h1v1h-1zM18 122h1v1h-1zM18 414h1v1h-1zM19 95h1v1h-1zM19 97h1v1h-1zM19 102h1v2h-1zM19 105h1v2h-1zM19 108h1v2h-1zM19 124h1v1h-1zM19 374h1v1h-1zM19 388h1v2h-1zM20 340h1v1h-1zM20 377h1v1h-1zM21 17h1v4h-1zM21 43h1v1h-1zM21 48h1v1h-1zM21 95h1v2h-1zM21 126h1v2h-1zM21 186h1v1h-1zM21 298h1v1h-1z"/><path fill="#ee1c25" d="M0 234h1v1h-1zM0 245h1v1h-1zM0 316h1v3h-1zM1 321h1v9h-1zM1 412h1v1h-1zM1 417h1v3h-1zM2 272h1v1h-1zM2 282h1v3h-1zM2 287h1v3h-1zM2 296h1v1h-1zM2 303h1v1h-1zM2 306h1v5h-1zM2 329h1v1h-1zM2 347h1v2h-1zM3 185h1v3h-1zM3 231h1v1h-1zM3 285h1v1h-1zM3 288h1v2h-1zM3 319h1v1h-1zM4 9h1v1h-1zM4 257h1v3h-1zM5 81h1v1h-1zM5 84h1v1h-1zM6 2h1v3h-1zM6 336h1v11h-1zM6 348h1v2h-1zM6 352h1v1h-1zM6 356h1v1h-1zM6 358h1v6h-1zM6 372h1v1h-1zM6 374h1v1h-1zM7 335h1v5h-1zM7 351h1v4h-1zM7 367h1v1h-1zM7 369h1v1h-1zM7 397h1v2h-1zM8 60h1v1h-1zM8 64h1v1h-1zM8 295h1v5h-1zM8 341h1v1h-1zM8 350h1v1h-1zM8 352h1v5h-1zM8 358h1v1h-1zM9 76h1v1h-1zM9 83h1v7h-1zM10 7h1v2h-1zM10 24h1v1h-1zM10 264h1v1h-1zM10 372h1v1h-1zM10 374h1v1h-1zM11 255h1v1h-1zM11 265h1v2h-1zM11 269h1v1h-1zM11 272h1v3h-1zM12 27h1v4h-1zM12 33h1v5h-1zM12 39h1v1h-1zM12 41h1v4h-1zM12 55h1v1h-1zM12 58h1v2h-1zM12 62h1v1h-1zM12 65h1v2h-1zM12 95h1v1h-1zM12 98h1v1h-1zM13 24h1v1h-1zM13 233h1v4h-1zM13 419h1v1h-1zM14 137h1v2h-1zM14 140h1v1h-1zM14 165h1v6h-1zM14 178h1v1h-1zM14 225h1v1h-1zM14 227h1v1h-1zM14 229h1v1h-1zM14 234h1v1h-1zM15 143h1v2h-1zM15 150h1v5h-1zM15 158h1v1h-1zM15 334h1v1h-1zM16 153h1v1h-1zM16 157h1v2h-1zM16 163h1v2h-1zM16 168h1v6h-1zM16 179h1v6h-1zM16 332h1v2h-1zM16 349h1v1h-1zM17 56h1v1h-1zM17 175h1v1h-1zM17 185h1v2h-1zM17 200h1v3h-1zM17 204h1v2h-1zM17 207h1v1h-1zM17 213h1v3h-1zM17 224h1v1h-1zM17 368h1v1h-1zM18 110h1v1h-1zM18 121h1v1h-1zM19 96h1v1h-1zM19 98h1v4h-1zM19 104h1v1h-1zM19 107h1v1h-1zM20 375h1v1h-1zM21 15h1v2h-1zM21 27h1v1h-1zM21 42h1v1h-1zM21 97h1v3h-1zM21 125h1v1h-1z"/></g>
<path d="M46.3 159.80H37.6V161.40H46.3M32.5 160.60H37.6M46.3 163.00H37.4V164.60H46.3M32.5 163.80H37.4M32.5 166.21H46.3M32.5 167.81H46.3M46.3 171.01H39.4V172.61H46.3M46.3 169.41H34.3V171.81H39.4M32.5 170.61H34.3M46.3 174.21H38.5V175.81H46.3M46.3 177.42H40.7V179.02H46.3M40.7 178.22H40.2V180.62H46.3M38.5 175.01H38.0V179.42H40.2M38.0 177.22H37.5V182.22H46.3M32.5 179.72H37.5M46.3 185.42H39.0V187.03H46.3M46.3 183.82H38.5V186.22H39.0M38.5 185.02H37.5V188.63H46.3M32.5 186.82H37.5M32.5 190.23H46.3M32.5 160.60V190.23M30.3 175.41H32.5M46.3 191.83H40.6V193.43H46.3M40.6 192.63H40.1V195.03H46.3M40.1 193.83H38.9V196.63H46.3M46.3 198.24H37.4V199.84H46.3M38.9 195.23H35.9V199.04H37.4M33.2 197.13H35.9M33.2 201.44H46.3M33.2 203.04H46.3M46.3 204.64H37.9V206.24H46.3M37.9 205.44H37.4V207.84H46.3M37.4 206.64H36.3V209.44H46.3M33.2 208.04H36.3M33.2 197.13V208.04M30.3 202.59H33.2M46.3 211.05H40.5V212.65H46.3M40.5 211.85H40.0V214.25H46.3M46.3 217.45H39.3V219.05H46.3M39.3 218.25H37.3V220.66H46.3M46.3 215.85H36.8V219.45H37.3M40.0 213.05H35.0V217.65H36.8M30.3 215.35H35.0M30.3 175.41V215.35M30.3 175.41V215.35M46.3 222.26H37.3V223.86H46.3M46.3 225.46H39.9V227.06H46.3M39.9 226.26H39.4V228.66H46.3M37.3 223.06H35.4V227.46H39.4M28.5 225.26H35.4M46.3 231.87H40.6V233.47H46.3M46.3 230.26H36.6V232.67H40.6M29.9 231.46H36.6M29.9 235.07H46.3M29.9 236.67H46.3M46.3 238.27H38.8V239.87H46.3M29.9 239.07H38.8M46.3 241.47H36.0V243.07H46.3M29.9 242.27H36.0M46.3 246.28H40.3V247.88H46.3M40.3 247.08H39.8V249.48H46.3M39.8 248.28H39.3V251.08H46.3M46.3 244.68H35.5V249.68H39.3M29.9 247.18H35.5M46.3 254.28H40.5V255.89H46.3M46.3 252.68H40.0V255.09H40.5M40.0 253.88H36.4V257.49H46.3M29.9 255.69H36.4M46.3 259.09H37.6V260.69H46.3M29.9 259.89H37.6M29.9 231.46V259.89M28.5 245.68H29.9M46.3 262.29H38.8V263.89H46.3M46.3 265.50H40.2V267.10H46.3M38.8 263.09H38.3V266.30H40.2M28.5 264.69H38.3M28.5 268.70H46.3M46.3 270.30H38.9V271.90H46.3M38.9 271.10H38.4V273.50H46.3M46.3 275.10H41.1V276.70H46.3M38.4 272.30H37.9V275.90H41.1M37.9 274.10H37.4V278.31H46.3M46.3 279.91H39.1V281.51H46.3M37.4 276.20H35.6V280.71H39.1M28.5 278.46H35.6M46.3 283.11H38.7V284.71H46.3M46.3 289.52H38.6V291.12H46.3M46.3 287.91H36.2V290.32H38.6M46.3 286.31H35.7V289.12H36.2M46.3 292.72H40.2V294.32H46.3M35.7 287.71H35.2V293.52H40.2M38.7 283.91H34.7V290.62H35.2M46.3 295.92H39.4V297.52H46.3M34.7 287.26H34.2V296.72H39.4M28.5 291.99H34.2M46.3 300.73H38.4V302.33H46.3M38.4 301.53H37.6V303.93H46.3M46.3 299.12H36.3V302.73H37.6M29.8 300.93H36.3M29.8 305.53H46.3M29.8 307.13H46.3M46.3 308.73H40.0V310.34H46.3M29.8 309.53H40.0M29.8 311.94H46.3M46.3 313.54H35.9V315.14H46.3M29.8 314.34H35.9M29.8 316.74H46.3M29.8 318.34H46.3M29.8 319.94H46.3M29.8 321.54H46.3M46.3 323.15H40.6V324.75H46.3M40.6 323.95H37.7V326.35H46.3M29.8 325.15H37.7M29.8 327.95H46.3M29.8 329.55H46.3M29.8 300.93V329.55M28.5 315.24H29.8M46.3 334.36H39.4V335.96H46.3M39.4 335.16H38.9V337.56H46.3M46.3 339.16H39.3V340.76H46.3M38.9 336.36H38.4V339.96H39.3M46.3 332.75H37.9V338.16H38.4M37.9 335.46H37.4V342.36H46.3M46.3 331.15H36.9V338.91H37.4M28.5 335.03H36.9M46.3 343.97H38.1V345.57H46.3M28.5 344.77H38.1M46.3 348.77H41.1V350.37H46.3M46.3 347.17H36.3V349.57H41.1M36.3 348.37H35.0V351.97H46.3M28.5 350.17H35.0M28.5 353.57H46.3M46.3 355.18H39.8V356.78H46.3M39.8 355.98H39.3V358.38H46.3M46.3 359.98H37.9V361.58H46.3M39.3 357.18H36.0V360.78H37.9M28.5 358.98H36.0M46.3 366.38H41.3V367.99H46.3M46.3 364.78H37.6V367.19H41.3M46.3 363.18H35.5V365.98H37.6M35.5 364.58H34.9V369.59H46.3M28.5 367.09H34.9M28.5 371.19H46.3M28.5 225.26V371.19M28.5 225.26V371.19M46.3 374.39H41.2V375.99H46.3M46.3 377.60H40.2V379.20H46.3M41.2 375.19H39.7V378.40H40.2M46.3 372.79H39.2V376.79H39.7M39.2 374.79H37.2V380.80H46.3M30.7 377.80H37.2M46.3 382.40H36.8V384.00H46.3M30.7 383.20H36.8M46.3 388.81H40.2V390.41H46.3M40.2 389.61H39.7V392.01H46.3M39.7 390.81H39.2V393.61H46.3M46.3 387.20H38.7V392.21H39.2M46.3 385.60H33.4V389.71H38.7M30.7 387.65H33.4M30.7 377.80V387.65M30.7 377.80V387.65M46.3 396.81H40.3V398.41H46.3M46.3 395.21H39.0V397.61H40.3M39.0 396.41H38.5V400.01H46.3M28.5 398.21H38.5M46.3 401.62H38.3V403.22H46.3M30.8 402.42H38.3M30.8 404.82H46.3M30.8 406.42H46.3M30.8 408.02H46.3M46.3 412.83H39.8V414.43H46.3M46.3 411.23H39.3V413.63H39.8M39.3 412.43H38.3V416.03H46.3M46.3 409.62H37.4V414.23H38.3M37.4 411.93H36.9V417.63H46.3M30.8 414.78H36.9M30.8 419.23H46.3M46.3 422.44H40.7V424.04H46.3M46.3 425.64H38.9V427.24H46.3M38.9 426.44H38.4V428.84H46.3M40.7 423.24H37.5V427.64H38.4M46.3 420.83H37.0V425.44H37.5M30.8 423.14H37.0M46.3 430.44H38.5V432.04H46.3M30.8 431.24H38.5M30.8 402.42V431.24M28.5 416.83H30.8M28.5 433.64H46.3M46.3 440.05H39.9V441.65H46.3M46.3 443.25H40.2V444.86H46.3M39.9 440.85H39.4V444.05H40.2M46.3 438.45H38.9V442.45H39.4M46.3 436.85H37.4V440.45H38.9M37.4 438.65H36.9V446.46H46.3M46.3 435.25H36.4V442.55H36.9M28.5 438.90H36.4M46.3 448.06H37.7V449.66H46.3M46.3 451.26H38.0V452.86H46.3M46.3 454.46H38.0V456.06H46.3M38.0 452.06H37.5V455.26H38.0M46.3 457.67H37.1V459.27H46.3M37.5 453.66H36.6V458.47H37.1M37.7 448.86H33.0V456.07H36.6M28.5 452.46H33.0M46.3 465.67H40.7V467.27H46.3M46.3 464.07H38.6V466.47H40.7M46.3 462.47H38.1V465.27H38.6M46.3 460.87H36.3V463.87H38.1M29.5 462.37H36.3M46.3 470.48H41.1V472.08H46.3M46.3 473.68H38.3V475.28H46.3M41.1 471.28H37.8V474.48H38.3M46.3 468.88H36.2V472.88H37.8M36.2 470.88H35.7V476.88H46.3M29.5 473.88H35.7M46.3 478.49H39.4V480.09H46.3M39.4 479.29H38.9V481.69H46.3M46.3 483.29H40.7V484.89H46.3M38.9 480.49H36.3V484.09H40.7M29.5 482.29H36.3M46.3 489.69H37.0V491.30H46.3M46.3 488.09H35.7V490.50H37.0M46.3 486.49H33.7V489.29H35.7M29.5 487.89H33.7M29.5 462.37V487.89M28.5 475.13H29.5M46.3 492.90H39.7V494.50H46.3M46.3 496.10H38.6V497.70H46.3M38.6 496.90H38.1V499.30H46.3M39.7 493.70H37.6V498.10H38.1M28.5 495.90H37.6M28.5 398.21V495.90M28.5 398.21V495.90M46.3 500.90H38.1V502.51H46.3M38.1 501.71H37.6V504.11H46.3M46.3 505.71H41.1V507.31H46.3M37.6 502.91H37.1V506.51H41.1M37.1 504.71H35.5V508.91H46.3M30.7 506.81H35.5M46.3 513.72H39.8V515.32H46.3M46.3 512.12H38.4V514.52H39.8M38.4 513.32H37.9V516.92H46.3M46.3 510.51H36.3V515.12H37.9M36.3 512.82H35.8V518.52H46.3M30.7 515.67H35.8M46.3 520.12H38.4V521.72H46.3M30.7 520.92H38.4M30.7 523.33H46.3M46.3 528.13H39.6V529.73H46.3M39.6 528.93H39.1V531.33H46.3M46.3 526.53H36.8V530.13H39.1M46.3 524.93H33.2V528.33H36.8M30.7 526.63H33.2M30.7 506.81V526.63M28.5 516.72H30.7M28.5 532.93H46.3M46.3 534.54H39.1V536.14H46.3M39.1 535.34H38.6V537.74H46.3M38.6 536.54H35.0V539.34H46.3M28.5 537.94H35.0M46.3 542.54H40.1V544.14H46.3M40.1 543.34H39.0V545.75H46.3M46.3 540.94H37.6V544.54H39.0M30.7 542.74H37.6M46.3 547.35H40.2V548.95H46.3M40.2 548.15H35.6V550.55H46.3M30.7 549.35H35.6M30.7 552.15H46.3M30.7 553.75H46.3M30.7 555.35H46.3M30.7 556.95H46.3M30.7 558.56H46.3M30.7 542.74V558.56M28.5 550.65H30.7M28.5 516.72V550.65M28.5 516.72V550.65M46.3 561.76H39.2V563.36H46.3M46.3 560.16H36.9V562.56H39.2M35.9 561.36H36.9M46.3 569.77H39.5V571.37H46.3M46.3 568.16H39.0V570.57H39.5M46.3 566.56H38.5V569.37H39.0M46.3 564.96H38.0V567.96H38.5M38.0 566.46H36.9V572.97H46.3M35.9 569.72H36.9M35.9 574.57H46.3M46.3 577.77H40.0V579.38H46.3M46.3 576.17H39.5V578.57H40.0M46.3 582.58H40.7V584.18H46.3M46.3 580.98H39.8V583.38H40.7M39.5 577.37H36.9V582.18H39.8M35.9 579.78H36.9M35.9 561.36V579.78M33.1 570.57H35.9M46.3 588.98H39.1V590.59H46.3M39.1 589.78H38.6V592.19H46.3M46.3 587.38H37.2V590.99H38.6M46.3 585.78H36.2V589.18H37.2M46.3 593.79H39.5V595.39H46.3M46.3 598.59H39.7V600.19H46.3M46.3 596.99H39.2V599.39H39.7M39.5 594.59H36.5V598.19H39.2M36.2 587.48H35.7V596.39H36.5M33.1 591.94H35.7M33.1 601.80H46.3M35.0 603.40H46.3M46.3 611.40H39.6V613.00H46.3M46.3 609.80H39.1V612.20H39.6M46.3 608.20H38.6V611.00H39.1M46.3 606.60H38.1V609.60H38.6M46.3 605.00H37.6V608.10H38.1M35.0 606.55H37.6M46.3 616.21H41.2V617.81H46.3M46.3 614.61H39.9V617.01H41.2M39.9 615.81H39.2V619.41H46.3M39.2 617.61H37.3V621.01H46.3M35.0 619.31H37.3M46.3 622.61H39.2V624.21H46.3M46.3 625.82H37.4V627.42H46.3M39.2 623.41H36.9V626.62H37.4M35.0 625.02H36.9M35.0 603.40V625.02M33.1 614.21H35.0M33.1 629.02H46.3M34.2 630.62H46.3M46.3 632.22H38.6V633.82H46.3M38.6 633.02H38.1V635.42H46.3M46.3 637.03H39.4V638.63H46.3M38.1 634.22H37.6V637.83H39.4M34.2 636.03H37.6M34.2 640.23H46.3M46.3 641.83H36.1V643.43H46.3M34.2 642.63H36.1M46.3 646.63H39.5V648.24H46.3M46.3 645.03H38.8V647.44H39.5M34.2 646.23H38.8M34.2 630.62V646.23M33.1 638.43H34.2M46.3 653.04H40.0V654.64H46.3M46.3 651.44H39.5V653.84H40.0M46.3 656.24H41.2V657.85H46.3M41.2 657.04H38.5V659.45H46.3M39.5 652.64H37.6V658.25H38.5M46.3 649.84H34.8V655.44H37.6M34.8 652.64H34.1V661.05H46.3M33.1 656.84H34.1M46.3 662.65H38.3V664.25H46.3M33.1 663.45H38.3M46.3 667.45H38.2V669.06H46.3M46.3 672.26H39.7V673.86H46.3M39.7 673.06H39.2V675.46H46.3M39.2 674.26H38.7V677.06H46.3M46.3 670.66H38.2V675.66H38.7M38.2 668.25H37.7V673.16H38.2M46.3 665.85H34.1V670.71H37.7M33.1 668.28H34.1M33.1 678.66H46.3M46.3 685.07H39.4V686.67H46.3M46.3 689.87H40.4V691.48H46.3M40.4 690.67H39.9V693.08H46.3M46.3 688.27H39.4V691.88H39.9M39.4 685.87H38.9V690.07H39.4M46.3 683.47H38.4V687.97H38.9M38.4 685.72H37.9V694.68H46.3M46.3 681.87H37.4V690.20H37.9M46.3 680.26H34.1V686.03H37.4M33.1 683.15H34.1M46.3 697.88H38.2V699.48H46.3M46.3 696.28H35.0V698.68H38.2M33.1 697.48H35.0M33.1 570.57V697.48M33.1 570.57V697.48M31.6 701.08H46.3M46.3 702.68H38.3V704.29H46.3M38.3 703.49H37.8V705.89H46.3M33.2 704.69H37.8M33.2 707.49H46.3M33.2 709.09H46.3M33.2 710.69H46.3M46.3 713.89H41.0V715.50H46.3M46.3 712.29H36.5V714.70H41.0M33.2 713.49H36.5M46.3 717.10H38.1V718.70H46.3M33.2 717.90H38.1M33.2 720.30H46.3M46.3 721.90H39.4V723.50H46.3M33.2 722.70H39.4M46.3 728.31H40.0V729.91H46.3M46.3 726.71H38.4V729.11H40.0M46.3 725.11H37.9V727.91H38.4M33.2 726.51H37.9M33.2 731.51H46.3M33.2 733.11H46.3M33.2 704.69V733.11M31.6 718.90H33.2M46.3 736.32H38.1V737.92H46.3M46.3 734.71H37.0V737.12H38.1M31.6 735.91H37.0M46.3 739.52H39.3V741.12H46.3M31.6 740.32H39.3M31.6 742.72H46.3M46.3 745.92H41.1V747.52H46.3M46.3 744.32H37.9V746.72H41.1M31.6 745.52H37.9M31.6 701.08V745.52M31.6 701.08V745.52M46.3 750.73H39.6V752.33H46.3M46.3 749.13H37.0V751.53H39.6M37.0 750.33H36.5V753.93H46.3M32.2 752.13H36.5M32.2 755.53H46.3M46.3 757.13H40.0V758.74H46.3M40.0 757.93H38.1V760.34H46.3M32.2 759.14H38.1M32.2 761.94H46.3M32.2 763.54H46.3M46.3 766.74H36.5V768.34H46.3M46.3 765.14H35.6V767.54H36.5M32.2 766.34H35.6M46.3 769.95H37.9V771.55H46.3M37.9 770.75H37.2V773.15H46.3M46.3 774.75H37.6V776.35H46.3M37.2 771.95H36.7V775.55H37.6M32.2 773.75H36.7M46.3 777.95H38.8V779.55H46.3M32.2 778.75H38.8M32.2 752.13V778.75M29.7 765.44H32.2M46.3 782.76H41.1V784.36H46.3M46.3 781.15H38.0V783.56H41.1M38.0 782.36H34.6V785.96H46.3M29.7 784.16H34.6M29.7 787.56H46.3M46.3 790.76H40.9V792.37H46.3M40.9 791.56H40.4V793.97H46.3M40.4 792.77H39.9V795.57H46.3M46.3 797.17H39.9V798.77H46.3M39.9 794.17H39.4V797.97H39.9M39.4 796.07H38.9V800.37H46.3M38.9 798.22H38.4V801.97H46.3M38.4 800.10H37.9V803.58H46.3M46.3 789.16H34.9V801.84H37.9M29.7 795.50H34.9M29.7 805.18H46.3M46.3 809.98H40.2V811.58H46.3M46.3 808.38H39.7V810.78H40.2M46.3 806.78H39.2V809.58H39.7M46.3 813.18H39.3V814.78H46.3M39.2 808.18H32.8V813.98H39.3M29.7 811.08H32.8M46.3 816.39H38.7V817.99H46.3M46.3 819.59H41.0V821.19H46.3M38.7 817.19H37.6V820.39H41.0M29.7 818.79H37.6M46.3 822.79H37.0V824.39H46.3M46.3 826.00H40.8V827.60H46.3M37.0 823.59H33.9V826.80H40.8M29.7 825.19H33.9M46.3 829.20H39.7V830.80H46.3M29.7 830.00H39.7M29.7 765.44V830.00M29.7 765.44V830.00" fill="none" stroke="#111" stroke-width="1.5" stroke-linecap="square"/><path d="M3.3 243.9V517.1M3.3 243.9H24.7M3.3 517.1H16.1M24.7 189V298.6M16.1 429.8V604M16.1 429.8H25.2M16.1 604H23M25.2 382.2V477M23 538V759.1M23 759.1H27.9M27.9 720V799M24.7 189.00H30.3M24.7 298.60H28.5M25.2 382.20H30.7M25.2 477.00H28.5M23.0 538.00H28.5M23.0 579.60H33.1M27.9 720.00H31.6M27.9 799.00H29.7" fill="none" stroke="#111" stroke-width="1.15" stroke-linecap="square"/>
<g font-family="Liberation Serif" font-size="12.5" fill="#151515" stroke="#151515" stroke-width="0.3"><rect x="315.3" y="159.7" width="22.6" height="9.8" fill="#3b46a8" stroke="none"/><text x="346.4" y="168.6">GERMLINE</text><rect x="315.3" y="173.7" width="22.6" height="9.8" fill="#e4a934" stroke="none"/><text x="346.4" y="182.6">MUTATED</text><rect x="315.3" y="187.4" width="22.6" height="9.8" fill="#2fc0c0" stroke="none"/><text x="346.4" y="196.3">N.E.</text><rect x="315.3" y="214.3" width="22.6" height="9.8" fill="#f2612a" stroke="none"/><text x="346.4" y="223.2">SPONTANEOUS REGRESSION</text><rect x="315.3" y="228.2" width="22.6" height="9.8" fill="#b21a7c" stroke="none"/><text x="346.4" y="237.1">STABLE DISEASE</text><rect x="315.3" y="242.0" width="22.6" height="9.8" fill="#6abd45" stroke="none"/><text x="346.4" y="250.9">PROGRESSIVE DISEASE</text></g>
<g font-family="Liberation Serif" font-size="9" fill="#151515" stroke="#151515" stroke-width="0.25"><rect x="64.2" y="840.2" width="33.0" height="7.5" fill="#3e51a6" stroke="none"/><rect x="97.2" y="840.2" width="32.9" height="7.5" fill="#5b62b3" stroke="none"/><rect x="130.1" y="840.2" width="32.0" height="7.5" fill="#c9caec" stroke="none"/><rect x="164.4" y="840.2" width="32.0" height="7.5" fill="#fdc8cf" stroke="none"/><rect x="196.4" y="840.2" width="33.2" height="7.5" fill="#f0606a" stroke="none"/><rect x="229.6" y="840.2" width="33.5" height="7.5" fill="#ee1c25" stroke="none"/><text x="77.7" y="858.8" text-anchor="middle">-2.0</text><text x="112.4" y="858.8" text-anchor="middle">-1.2</text><text x="147.0" y="858.8" text-anchor="middle">-0.4</text><text x="180.0" y="858.8" text-anchor="middle">0.4</text><text x="212.2" y="858.8" text-anchor="middle">1.2</text><text x="243.5" y="858.8" text-anchor="middle">2.0</text></g>
</svg>
</body></html>
